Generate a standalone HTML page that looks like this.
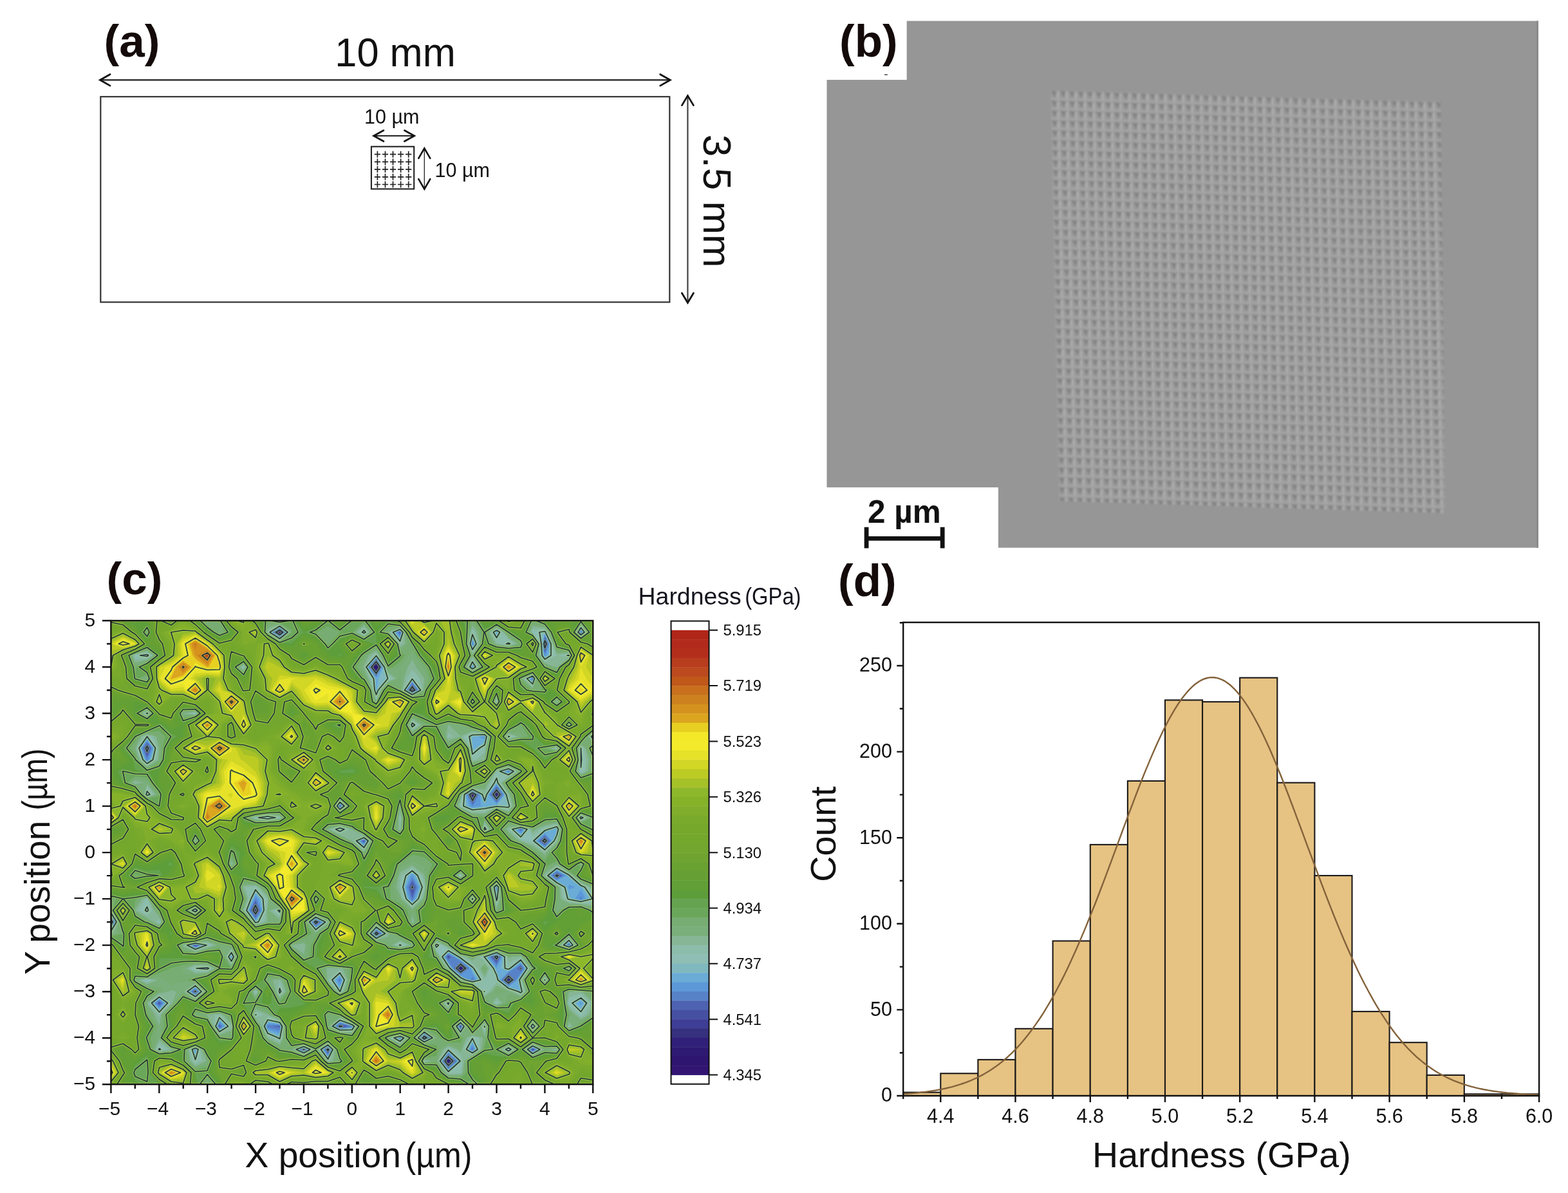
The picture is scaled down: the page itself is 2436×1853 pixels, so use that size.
<!DOCTYPE html><html><head><meta charset="utf-8"><title>Hardness mapping figure</title><style>html,body{margin:0;padding:0;background:#fff;overflow:hidden}svg{display:block}</style></head><body><svg width="2436" height="1853" viewBox="0 0 2436 1853"><rect width="2436" height="1853" fill="#fff"/><text x="161.5" y="87.7" font-size="71" font-weight="bold" font-family="'Liberation Sans', Arial, sans-serif" fill="#140a0a">(a)</text><text x="520.3" y="103.2" font-size="63" font-family="'Liberation Sans', Arial, sans-serif" fill="#111" textLength="187.5" lengthAdjust="spacingAndGlyphs">10 mm</text><line x1="156" y1="124.3" x2="1040.5" y2="124.3" stroke="#333" stroke-width="2.4"/><polyline points="171.0,115.5 155.5,124.3 171.0,133.1" fill="none" stroke="#111" stroke-width="2.8" stroke-linecap="round" stroke-linejoin="miter"/><polyline points="1025.7,133.1 1041.2,124.3 1025.7,115.5" fill="none" stroke="#111" stroke-width="2.8" stroke-linecap="round" stroke-linejoin="miter"/><rect x="156.3" y="150.2" width="884" height="319.1" fill="none" stroke="#333" stroke-width="2.2"/><line x1="1068.4" y1="149" x2="1068.4" y2="469.5" stroke="#444" stroke-width="2.2"/><polyline points="1077.4,163.6 1068.4,148.6 1059.4,163.6" fill="none" stroke="#111" stroke-width="2.8" stroke-linecap="round" stroke-linejoin="miter"/><polyline points="1059.4,455.2 1068.4,470.2 1077.4,455.2" fill="none" stroke="#111" stroke-width="2.8" stroke-linecap="round" stroke-linejoin="miter"/><text transform="translate(1093,209) rotate(90)" x="0" y="0" font-size="62" font-family="'Liberation Sans', Arial, sans-serif" fill="#111">3.5 mm</text><text x="566" y="191.9" font-size="30.5" font-family="'Liberation Sans', Arial, sans-serif" fill="#111">10 µm</text><text x="675.5" y="274.5" font-size="30.5" font-family="'Liberation Sans', Arial, sans-serif" fill="#111">10 µm</text><line x1="581" y1="211" x2="643" y2="211" stroke="#222" stroke-width="1.8"/><polyline points="596.0,202.5 580.5,211.0 596.0,219.5" fill="none" stroke="#111" stroke-width="2.6" stroke-linecap="round" stroke-linejoin="miter"/><polyline points="628.3,219.5 643.8,211.0 628.3,202.5" fill="none" stroke="#111" stroke-width="2.6" stroke-linecap="round" stroke-linejoin="miter"/><rect x="576.9" y="227.7" width="66.3" height="65.8" fill="none" stroke="#222" stroke-width="2.1"/><path d="M581.8 239.7h9.2M586.4 234.7v10M581.8 251.4h9.2M586.4 246.4v10M581.8 263.1h9.2M586.4 258.1v10M581.8 274.8h9.2M586.4 269.8v10M581.8 286.5h9.2M586.4 281.5v10M593.9 239.7h9.2M598.5 234.7v10M593.9 251.4h9.2M598.5 246.4v10M593.9 263.1h9.2M598.5 258.1v10M593.9 274.8h9.2M598.5 269.8v10M593.9 286.5h9.2M598.5 281.5v10M605.9 239.7h9.2M610.5 234.7v10M605.9 251.4h9.2M610.5 246.4v10M605.9 263.1h9.2M610.5 258.1v10M605.9 274.8h9.2M610.5 269.8v10M605.9 286.5h9.2M610.5 281.5v10M618.0 239.7h9.2M622.6 234.7v10M618.0 251.4h9.2M622.6 246.4v10M618.0 263.1h9.2M622.6 258.1v10M618.0 274.8h9.2M622.6 269.8v10M618.0 286.5h9.2M622.6 281.5v10M630.1 239.7h9.2M634.7 234.7v10M630.1 251.4h9.2M634.7 246.4v10M630.1 263.1h9.2M634.7 258.1v10M630.1 274.8h9.2M634.7 269.8v10M630.1 286.5h9.2M634.7 281.5v10" stroke="#222" stroke-width="1.7" fill="none"/><line x1="659.3" y1="231" x2="659.3" y2="293" stroke="#222" stroke-width="1.3"/><polyline points="668.3,245.8 659.3,230.3 650.3,245.8" fill="none" stroke="#111" stroke-width="2.6" stroke-linecap="round" stroke-linejoin="miter"/><polyline points="650.3,278.1 659.3,293.6 668.3,278.1" fill="none" stroke="#111" stroke-width="2.6" stroke-linecap="round" stroke-linejoin="miter"/><polygon points="1408.7,32.5 2390,32.5 2390,850.8 1550.9,850.8 1550.9,757 1284.5,757 1284.5,124 1408.7,124" fill="#969696"/><rect x="2387" y="32.5" width="3" height="818.3" fill="#8a8a8a"/><defs><pattern id="ind" patternUnits="userSpaceOnUse" width="13.9" height="15.4" patternTransform="matrix(1,0.03,0.02,1,1632,140)"><rect width="13.9" height="15.4" fill="#9b9b9b"/><path d="M1 0.5 L10 2 L5.5 11 Z" fill="#838383"/><path d="M9.8 3 L12.8 1 L12.8 14 L10.5 15 Z" fill="#b0b0b0"/><rect x="0" y="12.6" width="13.9" height="2" fill="#a7a7a7"/></pattern><filter id="blur1" x="-2%" y="-2%" width="104%" height="104%"><feGaussianBlur stdDeviation="1.5"/></filter></defs><polygon points="1632,140 2238,158 2245,797 1645,778" fill="url(#ind)" filter="url(#blur1)"/><rect x="1374" y="115.2" width="5" height="1.6" fill="#555"/><text x="1304" y="87.7" font-size="71" font-weight="bold" font-family="'Liberation Sans', Arial, sans-serif" fill="#140a0a">(b)</text><text x="1348" y="811.7" font-size="49.5" font-weight="bold" font-family="'Liberation Sans', Arial, sans-serif" fill="#111">2 µm</text><path d="M1346.1 818.8V851.6M1464.2 818.8V851.6M1346 836.4H1464.3" stroke="#111" stroke-width="6.8" fill="none"/><text x="165.5" y="923.3" font-size="71" font-weight="bold" font-family="'Liberation Sans', Arial, sans-serif" fill="#140a0a">(c)</text><defs><clipPath id="cclip"><rect x="172.4" y="964" width="748.85" height="720.2"/></clipPath></defs><g clip-path="url(#cclip)"><rect x="172.4" y="964" width="748.85" height="720.2" fill="#7aaa2c"/><defs><path id="a28" d="M186.5 1666l-7.5-18-6.5-8 0 8 0 18 0 17.5zm61 5l18.5 12 7.5 1 11 0 3.5 0 4.5-18-8-7-18.5-8.5-17.5-2.5-1 0-.5 0-4.5 18zm112 13l19 0 2.5 0-2.5-3-19-.5-2.5 3.5zm37.5-11.5l19 .5 18.5 10.5 18.5-9 19-.5 18.5 1.5 19-1 13-8.5-13-5-15-13-4-4.5-12.5 4.5-6 5.5-19 .5-18.5 0-18.5 2-19 4-7.5 6zm150 8l10.5-14.5 8-12 19 11.5 18.5-5.5 14.5 6 4 2 19 11 18.5-3 3.5-10-3.5-1.5-11.5-16.5-7-17.5-19 10-17.5-10.5-1-.5-18.5-14-17-3.5 17-2.5 18.5-9.5 18.5-2.5 19 2.5 6-6 1-18-7-9.5-14 9.5-5 2.5-.5-2.5 0-18 .5-4 4-14 15-10 10.5-8 1-18-11.5-18-19 0-.5 0-18 8-11.5 10-7 10-19-8.5-10.5 16.5 4.5 18-12.5 8-19 7-7.5 3 7.5 5 14 13 5 3 13.5-3 2-18 3-5.5 4 5.5-.5 18 2 18-5.5 17.5-.5.5-13 18 6 18-11 6.5-14 11.5zm299.5-10.5l18.5 8.5 19 1 8.5-13.5-8.5-9-19-7-18.5 11-4.5 5zm56-17.5l18.5 3 0-7.5 0-4.5-9-13.5-9.5-8-18.5-4-5 12 5 12 13.5 6zm-711.5-39.5l2.5-1-2.5-2-3 2zm75 1l18.5 5 19-4 7-3-7-11.5-10.5-6.5-8.5-4.5-2.5 4.5-16 16-2 2zm206-.5l18.5 3 7-4.5 0-18-7-10.5-18.5 10.5-5 18zm337 8l13-9.5-12.5-18-.5-13.5-13.5 13.5-.5 18zm56-8.5l4.5-1-4.5-4-3 4zm-486.5-3.5l12.5-15.5-12.5-17.5-9 17.5zm393-10.5l16-5-16-6-1.5 6zm-580.5-12.5l8.5-10.5-8.5-14-9.5 14zm131-24l19-4 18.5 1.5 1.5-2-1.5-6.5-15-11.5 15-7 19-2 10.5-9 1-18-11.5-10-3.5 10-15.5 14.5-18.5 0-5.5 3.5 4.5 18-18 12.5-6.5 5.5zm412 4l2-8.5 2.5-18-4.5-3.5-18.5-1.5-14.5-13-4.5-3.5-18.5-9.5-16 13 16 13 15.5 5 3 1 19 13.5 10 3.5zm-543-11.5l19-13.5.5-1.5-.5-.5-12-17.5-7-16.5-18.5 2 0 14.5 0 4 9.5 14zm281-5.5l18.5-6 6-3.5-3.5-18-2.5-2.5-18.5-8.5-8 11-2 18zm412-24.5l18.5 6 18.5-5 0-4 0-8.5-8.5-9.5 8.5-9 0-9 0-10.5-18.5 6.5-18.5-1-17 5 17 6.5 15 11.5-15 15.5-11.5 2.5zm-655.5-16l7-5-3-18 9.5-18-3.5-18-10-6.5-18.5 1.5-4 5 3 18 1 1.5 14 16.5-4.5 18zm224.5-2l5.5-3-5.5-4-5 4zm-278-21l-2.5-3.5 0 3.5 0 13.5zm241 7l18.5-4 2.5-3-1-18-1.5-9-6.5-9-12-3-13 3-6 3.5-3.5-3.5-15-17.5-1-.5-18-9.5-7.5-8.5 3.5-18 1-18-6.5-18-8-18-1-2.5-19-15-18.5 8.5-9 9 8.5 18-18.5 13.5-18.5 2.5-18.5-7.5-19 9-1.5.5 1.5.5 16 17.5 3 3.5 18.5 12 18.5-13.5 19 .5 18.5 0 5 15.5 14 17.5 1 .5 10.5 18 7 4 15 14 4 10.5 18.5-.5 8.5 8zm112 .5l13-7.5 6-11.5 13-6.5-5-18-8-14-8-4-11-6.5-2.5 6.5-8.5 18 11 15.5 8 2.5-8 2.5-15 15.5zm187.5-23l18.5 5 19-3.5 9.5-4 9-8.5 15-9.5-15-14.5-1-3.5-12.5-18-1.5-18-3.5-11.5-4 11.5-15 18-2.5 18 2.5 3 9 15-9 8-18.5 6.5-3.5 3.5zm-431-18l19 3.5 11-6-5.5-18-5.5-1-19-5-9.5 6 6.5 18zm168.5 0l3.5-2.5 2-18 13.5-10 11-8-4.5-18-6.5-14-5-4 .5-18 4.5-4.5 13.5-13.5-13.5-9.5-6.5-8.5 6.5-10 18.5 1 8 9 11 17 14 1 4.5.5 19 3 3-3.5-3-8.5-6-9.5-13-6-18.5-9-4-3-15-8-18.5-10 5-18 13.5-5 19-10.5.5-2.5-.5-2.5-19-7-18.5 2-12-10.5-7-2.5-18.5-15 0-.5-14.5-18 1-18 2-18-7-12-19 5.5-18.5-9.5-19 6.5-18-8.5 2-18 16-11 7 11 12 17.5 14.5-17.5-6.5-18-3.5-18-4.5-6.5-17.5-11.5-1.5-4-4.5-14-3.5-18-.5-18-10-11.5-7-6.5-12-8.5-13-9.5-5.5-5.5-18-12.5-1 0-.5 0-18 14-12 4 11.5 18-1.5 18-16.5 11.5-8 6.5 2 18 .5 18-3.5 18 9 9 9-9 9.5-7.5 18.5 0 19 7 18.5-9.5 11 10-.5 18-10.5 2-18.5 14-3.5 2 3.5 7.5 10 10.5-10 3.5-19 11-3.5 3.5 3.5 4.5 19 8 18.5-1.5 9 7 .5 18-9.5 14.5-10.5 3.5-8 3.5-8 14.5 8 13 2.5 5-.5 18 16.5 17 19-10 18.5 3.5 5.5-10.5 13.5-11.5 18.5-2.5 19-3 2.5-1 16-12 11.5 12 7 6.5 17.5 11.5-17.5 13-18.5 4.5-18.5-.5-5 1-14 13-3.5 5 2 18 1.5 2 17 16-7.5 18 9.5 7 9 11 9 18 .5.5 13 17.5 1.5 18-7 18zm206 15l10.5-17.5-10.5-8.5-11 8.5zm168.5-1.5l10-16-10-10-14 10zm-224.5-27.5l15-6.5-14.5-18-.5 0-.5 0-8 18zm-412-15l6-9.5-6-6.5-5.5 6.5zm356-6.5l18.5.5 4-3.5-4-3.5-10-14.5-4-18-4.5-5-19-8-18.5 13 .5 18 18 9.5 17.5 8.5zm149.5-17l19-.5 1.5-3.5 7.5-18-9-.5-19-10-18.5 9-1 1.5 1 5.5 10.5 12.5zm112.5 0l18.5-1.5 3.5-2.5 13-18-16-18 5-18-5.5-5-18.5-8.5-14-4.5-5-.5-16.5-17.5-2-2-18.5-1.5-14-14.5-5-7-18.5-7.5-16 14.5 16 15.5 10 2.5 0 18 8.5 9 8 9 11 16.5 18.5-10.5 4.5 12 11 18 3 10 14.5 8zm-631.5-40l13.5-9 9-9-9-15.5-18.5 7 0 8.5 0 18 0 6.5zm407 7l8.5-7-8.5-11.5-8.5 11.5zm336.5-23l0-2 0-18 0-18 0-1-18.5-12.5-16.5 13.5 4.5 18 12 5.5 18 12.5zm-692.5-10.5l13-9.5-11.5-18 17.5-7 18.5 6.5 1 .5 17.5 12.5 2.5-12.5-2.5-6-10-12-8.5-6-18.5-10.5-3-1.5-15.5-18-.5 0-18.5-16-11-2-8-2-18.5-2.5 0 4.5 0 15.5 2 2.5-2 .5 0 17.5 0 10.5 14-10.5 4.5-10 11 10 8 13.5 12 4.5 5 18-11.5 18zm356-40.5l4.5-5 10-18 3.5-18-18-10.5-19 10.5 7 18 4 18zm74.5 1.5l1.5-6.5-1.5-4.5-7.5 4.5zm112.5-15.5l8.5-9-8.5-5.5-7.5 5.5zm37.5-4.5l16-4.5-16-10-8.5 10zm75 5l.5-9.5 18-18 0-3.5 0-14.5-1 0-17.5 1.5-14 16.5 12 18zm-599.5-25l6.5-2.5-6.5-2.5-5 2.5zm356 15.5l18.5-7.5 19-6 6.5-4.5 12-8 7-10 12-14.5 7-3.5 3-18-2.5-18-6.5-18-1-1.5-2 1.5-9 18-8 12.5-18.5-10.5-1-2-6.5-18-3-18-8.5-5.5-6.5 5.5-3 18-2.5 18 12 13 10.5 5 8.5 6 6.5 12-5.5 18-1 3-19 7.5-14-10.5-4.5-1.5-2 1.5-6.5 18zm187-22.5l14.5-13.5 3.5-18-7.5-18-7.5-18-3-2.5-18.5-2.5-4.5 5 4.5 1.5 15.5 16.5-15.5 13.5-6 4.5 6 7.5 7 10.5zm-543-29.5l7-2 11-18-18-12-16 12 15 18zm206 13l19-9.5 5.5-5.5-5.5-5-17-13-2-5-2.5-13-16-13.5-19 3.5-5.5 10 5.5 3.5 19 12 14 2.5-10 18zm393.5-6l2.5-9-2.5-4-9 4zm-281-17l18.5-7.5 2.5-2.5 10-18-12.5-6.5-18.5-7-4.5-4.5 4.5-12.5 3-5.5 9.5-18 6-7.5 5-10.5 12-18-17-9.5-18.5.5-6 9-12.5 14.5-19-5.5-7.5-9 3.5-18-14.5-7.5-17-10.5-2-4-18.5-6-16-8-3-2-3 2-15.5 5.5-19-2.5-4.5-3-12-18-2-1.5-13.5-16.5-5-3-16 3-3 15-.5 3 0 18 .5 4 8 14 3 18 8 5.5 18.5 8.5 18.5-8 10.5 12 8.5 9.5 17 8.5 1.5 2 19-.5 18.5 4 14 12.5 5 15.5 1.5 2.5 7 18 10 8.5 12.5 9.5 6.5 12.5 7.5 5.5zm150-3.5l5.5-6.5-5.5-6-9.5 6zm18.5-20.5l10.5-4-10.5-14-5 14zm112.5 10l7-14-7-18 13-18-13-8.5-16-9.5-3-9-9-9-9.5-5.5-7-12.5-12-8-18.5 3.5-19-13.5-7.5 18 7.5 16 19-9.5 12.5 11.5 6 4.5 12.5 13.5 6.5 11 7.5 7 11 3.5 19 14.5-18.5 18zm-374.5-26l11.5-6-11.5-10-8 10zm-322-24l-15-10.5 0 10.5 0 9.5zm247 5l18.5 10.5 12.5-15.5-9-18-3.5-2-5.5 2-13 14-10.5 4zm337-11l8-12 3-18-11-2-16.5-16 5.5-18 11-14 18.5 13 1.5-17 17.5-13 16-5-16-7.5-16.5-10.5-2.5-1-12.5 1-6 2.5-1-2.5-17.5-8.5-7 8.5 7 8 14.5 10-14.5 8-18 10 4.5 18 10.5 18-16 13.5-11.5-13.5-1-18-6-11-2-7-4.5-18 6.5-14.5 1.5-3.5-1.5-13-2-5-7.5-18-4-18-5.5 0-18.5 0-19 0-18.5 0-14.5 0 13.5 18 1 2 18 16 .5.5 2-.5 15-18 2-5.5 5 5.5 1.5 18-6.5 18 6.5 18 4.5 18-11 13.5-4 4.5-6 18 5 18 5 4 9-4 9.5-8 9 8 10 4 18.5 2 19 10.5 1 1.5zm131-11.5l1-.5 4.5-18 13-15 0-3 0-18 0-18 0-18 0-18 0-4.5-18.5-11.5-7.5 16-9 18-2 3.5-6.5 14.5-5 18 11.5 10.5 8.5 7.5-8.5 17.5-1 .5 1 0 18.5 18zm-56-66l9.5-6.5-9.5-6.5-4.5 6.5zm-664.5-24.5l-2-18 11-6 19-6.5 9-5.5-9-9.5-15.5-8.5-3.5-2.5-8.5 2.5-10 4 0 14 0 18 0 18 0 9zm196.5-35l6-1 12.5-2 4.5-16-4.5-7.5-13.5-10.5-5 0-19 0-2 0 2 3 18.5 15-2 18zm224.5 8.5l5.5-9.5-5.5-6-7.5 6zm224.5-3l3-6.5-3-3.5-4.5 3.5zm-37.5-38l16-4.5-16 0-6.5 0z"/><path id="a29" d="M185 1666l-8-18-4.5-6 0 6 0 18 0 16zm62.5 3.5l18.5 12 15 2.5 3.5 0 1.5 0 5.5-18-7-6-18.5-8-18.5 1-3.5 13zm112 14.5l19 0 .5 0-.5-.5-19 0-.5.5zm37.5-13l19 .5 18.5 10 18.5-8.5 19-1 18.5 2.5 19-1.5 11-7-11-4.5-16-13.5-3-3-9 3-9.5 9-19-1-18.5-1-18.5 3.5-19 3-5.5 4.5zm150 7.5l9-12.5-9-10-12.5 10zm93.5-1.5l18.5-7.5 1.5-3.5-1.5-.5-12-17.5-6.5-16-19 10-18.5-9.5-1.5-2.5-17-12.5-19 2-7.5 10.5 2.5 18 5 4 19 12.5 18.5-7.5 18.5 8 1 1zm206-9l18.5 8.5 19-2.5 5-8-5-5-19-8.5-18.5 11.5-2 2zm74.5-17.5l0-2.5 0-1.5-15.5 1.5zm-37-10.5l18.5 7.5 7.5-17.5-7.5-6-18.5-3.5-4 9.5zm-618-27.5l18.5 5.5 19-3.5 5.5-2.5-5.5-8.5-16-9.5-3-1.5-1 1.5-17.5 17.5-.5.5zm206 .5l18.5 2 5-3 1-18-6-9-16 9-2.5 10-2 8zm337 7.5l11.5-8.5-11.5-17-12.5 17zm-430.5-12.5l11.5-14-11.5-16-8.5 16zm206-.5l18.5-8.5 18.5-2.5 19 1.5 4-4-1-18-3-4.5-6.5 4.5-12.5 6.5-2-6.5-1.5-18 3.5-17.5.5-.5 18.5-12.5 7.5-5.5 2.5-18-10-16-17.5 16-1.5 6-1.5-6-17-8.5-10 8.5-8.5 12-19-9-10 15 5.5 18 4.5 9 6 9 0 18 1 18zm187-12.5l2-1-2-.5 0 .5zm-580.5-11.5l6-7.5-6-10-6.5 10zm356-5.5l9.5-2 4.5-18-14-8.5-19 6.5-5 2 5 3.5 15.5 14.5zm-225-16.5l15-3.5-15-4-5 4zm412-2l.5-1.5 3-18-3.5-3-18.5-1-15.5-14-3.5-2.5-18.5-9.5-14.5 12 14.5 12 18.5 6 19 11.5 17.5 6.5zm-543-8.5l15-11-9-18-6-14-18.5 14 12 18zm281-2.5l18.5-7 2-1.5-1-18-1-1-18.5-8-6.5 9-2.5 18zm-131-13l18.5-6.5 19 0 8.5-7-2-18-6.5-6-2 6-17 16-18.5-.5-3.5 2.5zm543-12l18.5 6.5 18.5-5.5 0-2.5 0-5.5-11.5-12.5 11.5-12 0-6 0-7-18.5 5-18.5-2-14.5 4 14.5 6 16 12-16 16.5-6.5 1.5zm-655.5-15l6-4.5-4-18 10-18-3.5-18-8.5-5.5-18.5 2-2.5 3.5 2.5 14.5 1 3.5 15 18-5 18zm224.5-4l1.5-.5-1.5-1-1 1zm-37-13l16.5-5.5 2-9.5.5-8.5-.5-2.5-11.5-15.5-7-1.5-8 1.5-11 6.5-6.5-6.5-12-14-5.5-4-13.5-7-10-11 1.5-18 3-18-5.5-18-7.5-17-1-1-18-14-18.5 8.5-5.5 5.5 5.5 11.5 2.5 6.5-2.5 5-19 11.5-16 1.5-2.5 1 0-1-18.5-9-18 9 16 18 2 2.5 18.5 7 18.5-9.5 19 1.5 13-1.5 5.5-2.5 5 2.5 3 18 11 14 6 4 7.5 18 5 3 16.5 15 2.5 7 18.5 1 10.5 10zm112 1l11.5-6.5 7.5-14.5 7-3.5-.5-18-6.5-11.5-13.5-6.5-5.5-3-1 3-9 18 10 14 13 4-13 4.5-13.5 13.5zm187.5-23l18.5 5 19-3.5 7-3 11.5-10.5 11.5-7.5-11.5-11-2-7-12.5-18-1.5-18-2.5-8.5-3 8.5-12.5 18-3.5 17 0 1 0 .5 10 17.5-10 9.5-18.5 6.5-2 2zm-431-18l19 4 10-5.5-8-18-2-.5-19-4-7 4.5 5.5 18zm168.5 0l2-1.5 2-18 15-11 9.5-7-4-18-5.5-12-7.5-6 .5-18 7-7.5 10.5-10.5-10.5-7.5-8.5-10.5 8.5-12.5 18.5 2 9.5 10.5 9.5 14.5 18.5 0 11 3.5 8 1.5 1-1.5-1-3-9-15-10-4.5-18.5-8.5-7-5-12-6.5-18.5-5.5-10-6-9-2-10 2-8.5 1.5-13.5-1.5-5 0-1.5 0-17.5 16.5-1 1.5 1 10 2.5 8 16.5 15.5 3 2.5-3 1.5-8 16.5 8 5.5 10 12.5 8.5 17 .5 1 13.5 18 1.5 18-2 18zm206 13.5l9-15-9-7-9.5 7zm168.5-1l9-14-9-9-12.5 9zm-224.5-26l13-6-13-16-7 16zm-412-16l5-8-5-5.5-5 5.5zm374.5-7.5l.5-.5-.5-.5-3 .5zm-37.5-11.5l19 7.5 6.5-14.5-3.5-18-3-3.5-19-8.5-17 12 3.5 18zm168.5-6.5l19 .5 0-1 0-10.5-1-7.5-18-9-18 9 17.5 18zm112.5 0l3.5-.5 15-1.5 12-16.5-12-14.5-13.5-3.5 13.5-3.5 4-14.5-4-3.5-18.5-6-15.5 9.5-3.5 2.5-11 15.5 8.5 18 2.5 7.5 18.5 10.5zm-633-36.5l15-10.5 7.5-7.5-7.5-13-18.5 9 0 4 0 18 0 4zm408.5 5.5l7-5.5-7-9.5-7 9.5zm168.5-10l17.5-13.5 1-2 15-16-15-18-18.5-2.5-15-15.5-4-5.5-18.5-7.5-14.5 13 14.5 14 15.5 4-3.5 18 6.5 7 10 11zm-524.5-23l11-8.5-11-16-11.5 16zm674-4l18.5 9.5 0-14 0-15.5 0-2.5-18.5-12.5-15 12.5 5 18zm-618-17.5l1-5-1-2.5-7 2.5zm-37-14.5l18.5 3 5.5-11.5-5.5-4-18.5-8.5-9-5.5-10-12.5-1-5.5-17.5-15-17.5-3-1.5-.5-18.5-1.5 0 2 0 8 8.5 10-8.5 2 0 16 0 9.5 13-9.5 5.5-13 14 13 5 8 18.5 6 2.5 4zm337-5.5l2.5-3 10-18 2.5-18-15-9-16 9 5.5 18 5.5 18zm-262.5-5l19-11 18.5 2.5 4-7.5 15-12.5 18.5-2.5 17.5-3 1.5-4 18.5-11 14-3-14-9.5-8.5-8.5-9.5-18 2-18-.5-18-2-3.5-19 .5-18.5-7.5-19 2.5-18.5-9-8-1 8-18 0-3 18.5-9.5 8 12.5 11 16 13-16-6.5-18-4-18-2.5-4-19-13-2-1-6.5-18-1-18-.5-18-8.5-9.5-8.5-8.5-10.5-7-14.5-11-4-3.5-19-8.5-18.5 10-6.5 2 6.5 10.5 2 7.5-2 15.5 0 2.5-18.5 13-6 5 1 18 4.5 18-6.5 18 7 6.5 6.5-6.5 12-9.5 18.5 0 19 8 18.5-13 15.5 14.5 1.5 18-17 3.5-18.5 14-1.5.5 1.5 3 14.5 15-14.5 5-19 11.5-1.5 1.5 1.5 2 19 9 18.5-2.5 12 9.5-.5 18-11.5 17.5-1 .5-17.5 8-5.5 10 5.5 9 4 9-.5 18zm449.5-8.5l7.5-7.5-7.5-5-6.5 5zm37.5-3.5l14-4-14-8.5-7.5 8.5zm-356-17.5l17-4.5-17-14.5-4.5 14.5zm37.5 4l19-8.5-19-6-16.5 6zm150 7.5l18.5-11 19-2.5 4-2.5-4-9.5-19 6-18.5-14-8 17.5zm243.5 2l17-18-17-15-13 15zm-187.5-27.5l6-8.5 13-15.5 4.5-2.5 4-18-2-18-6.5-18-10 18-9 14.5-18.5-1.5-4.5-13-4.5-18-3.5-18-6.5-4-5 4-3.5 18-1 18 9.5 10.5 16 7.5 3 2 9 16-5 18zm131 4l13-12.5.5-18-7.5-18-5-18-1-1-18.5.5-.5.5.5 0 17 18-17 14.5-4.5 3.5 4.5 5.5 8 12.5zm-337-17l19-10 3.5-3.5-3.5-3-19-14.5-13.5 17.5zm-206-14l16.5-17.5-16.5-11-14.5 11zm318.5-13.5l12-4 6.5-1.5 9.5-16.5-9.5-5-18.5-6.5-6.5-6.5 5.5-18 1 0 10.5-18 8-10.5 3.5-7.5 12-18-15.5-8.5-18.5 1-5 7.5-13.5 15.5-19-3.5-9.5-12 2.5-18-11.5-6-19-11.5-1-.5-17.5-8-19-8.5-18.5 6.5-19-2.5-8-5.5-10.5-16-3-2-12-18-3.5-2-11 2-2 18-4 18 9.5 18 2.5 18 5 3.5 18.5 9 18.5-8.5 12.5 14 6.5 7 18.5 9.5 19 .5 1.5 1 17 4.5 15.5 13.5 3.5 11 4 7 6.5 18 8 7 15 11 4 7.5 14 10.5zm150 1.5l4.5-5.5-4.5-5-8 5zm-300-21.5l19 12.5 15-14.5-15-12.5-19 7.5-2.5 5zm318.5 1.5l8-3.5-8-10.5-3.5 10.5zm112.5 9l6.5-12.5-6.5-16-16.5 16zm-374.5-26l8.5-4.5-8.5-7.5-5.5 7.5zm-330-22.5l-7-5 0 5 0 4.5zm273.5 13.5l11-13.5-10-18-1-.5-1.5.5-16.5 18zm412-11l19 14 12-16.5-12-7.5-17.5-10.5-1.5-5-13-13-5.5-3-8.5-15-10.5-7-18.5 4-19-13.5-7 16.5 7 14.5 19-10.5 15 14 3.5 2.5 14.5 15.5 4.5 7.5 10.5 10.5zm-93.5-11.5l6.5-9-1-18-5.5-1-17.5-17 5.5-18 12-16 18-2 .5 0 19-14 12.5-4-12.5-6-19-11.5-18.5 8.5-2.5 9-16 9-16 9 4.5 18 10 18-17.5 14.5-12.5-14.5-5-18-1-1.5-4.5-16.5-3-18 7.5-17 .5-1-.5-4-6-14-6-18-3-18-4 0-18.5 0-12.5 0-6.5 1.5-2.5-1.5-16 0-13 0 12.5 18 .5.5 18.5 16.5 15.5-17 3.5-10 8.5 10 .5 18-6.5 18 5 18 4.5 18-12 15-2.5 3-6.5 18 5.5 18 3.5 3 6-3 12.5-10 12 10 7 3 18.5 1.5 19 6.5 5 7zm131-18.5l2.5-8.5 15.5-18 .5-.5 0-17.5 0-18 0-18 0-18 0-2.5-18.5-12-6.5 14.5-7.5 18-4.5 8-4.5 10-5 18 9.5 9 10.5 9-.5 18zm-56-57l8-5.5-8-5.5-4 5.5zm-669.5-23.5l.5-18 13.5-7.5 19-6 7.5-4.5-7.5-8-18.5-10-.5-.5-1.5.5-17 7 0 11 0 18 0 18 0 4.5zm576-11l15-7-15-7-6 7zm-150-17l5-8-5-5-6.5 5zm224.5-3.5l2-4.5-2-2.5-3.5 2.5zm-430.5-10l3.5-12.5-3.5-5.5-14.5 5.5zm-37.5-29.5l19 9.5 3-10.5-3 0-19 0-1 0zm430.5 2l11-3-11 0-4.5 0z"/><path id="a30" d="M184 1666l-8.5-18-3-3.5 0 3.5 0 18 0 14zm63.5 2.5l18.5 11.5 18.5 2.5 5.5-16.5-5.5-5-18.5-8-18.5 5-2 8zm149.5 1l19 0 18.5 10.5 18.5-8.5 19-1.5 18.5 3.5 19-2 8.5-5.5-8.5-3.5-17-14.5-2-2-5.5 2-13 12-19-1.5-18.5-2-18.5 4.5-19 2-4 3zm150 7.5l8-11-8-8.5-10.5 8.5zm93.5-2l16.5-9-11-18-5.5-14-19 9.5-18.5-6.5-4.5-7-14-10-19 8-1.5 2-.5 18 2 2 19 13 18.5-8.5 18.5 7 4.5 4.5zm224.5 0l19-6.5 1.5-2.5-1.5-1.5-19-9.5-18 11zm19-37.5l18.5 4.5 5-12-5-4-18.5-3-3 7zm-599.5-21l19-3 3.5-1.5-3.5-5-19-11-15.5 16zm206-2.5l3-2 2-18-5-7.5-13 7.5-3 18zm318.5 5.5l10-7.5-10-14.5-11 14.5zm-430.5-12.5l10.5-13-10.5-14.5-7.5 14.5zm206-1.5l18.5-7.5 18.5-2 19 .5 2.5-2.5-2.5-17-19 9-3.5-10-3-18-12-17.5-.5-.5.5 0 18.5-13.5 19-1.5 4-3 5-18-9-14-15.5 14-3.5 15-4-15-14.5-7-8.5 7-10 14-19-9.5-9 13.5 6.5 18 2.5 5 8.5 13 0 18 0 18zm-393.5-25.5l3.5-4-3.5-5.5-3.5 5.5zm356-3l5.5-1 6.5-18-12-7.5-19 6.5-3 1 3 2 17 16zm-225-16.5l11-2.5-11-3-3.5 3zm-131-13.5l9.5-7-4.5-18-5-11.5-15.5 11.5 11.5 18zm281 1l17.5-8 0-18-17.5-7-5 7-3 18zm243.5 1l18.5 5.5 3-14.5-3-2-18.5-1-14.5 3zm-374.5-21l18.5-3 19 2.5 6-5.5-4-18-2-2-1 2-18 17.5-18.5-.5-1.5 1zm337 4.5l18.5 1.5 2-12-2-1.5-18.5-9.5-13.5 11zm206-10l18.5 7 18.5-6.5 0-1 0-2-14.5-16 14.5-15 0-3 0-3.5-18.5 3.5-18.5-3.5-12.5 3.5 12.5 5 17 13-17 18-1.5 0zm-655.5-15l5-3.5-4.5-18 10-18-3.5-18-7-4.5-18.5 3-1 1.5 1 6.5 3 11.5 15 18-5.5 18zm187.5-17l12.5-4.5 5-18-15-18-2.5-.5-3 .5-16 9.5-9-9.5-9.5-11-10.5-7-8.5-4-8 4 5.5 18 2.5 1.5 17.5 16.5 1.5 3.5 18.5 2.5 12.5 12zm112 1.5l10.5-6-10.5-12-12 12zm19-23.5l1-.5 4-18-5-9-18.5-9-.5 0-9 18 9 12.5 18 5.5zm168.5 0l18.5 5 19-3.5 4.5-2 14-13 8-5-8-7.5-3-10.5-12.5-18-1.5-18-1.5-5.5-2 5.5-9.5 18-6.5 18 10.5 18-11.5 10.5-18.5 7.5-.5 0zm-431-18l19 4.5 9-5-9-17-4-1-15-3-4.5 3 4.5 18zm374.5 12l7.5-12.5-7.5-6-8 6zm168.5 0l8-12.5-8-8-11 8zm-374.5-13l2.5-17.5 16.5-12 8-6-3.5-18-4.5-10-10-8 0-18 10-10.5 7.5-7.5-7.5-5-10.5-13 10.5-15 18.5 2.5 9-5.5-9-4.5-18.5-2-19-11-18.5 3-18.5-1-17 15.5 8 18 9 8.5 11 9.5-11 5.5-6 12.5 6 4.5 11 13.5 7.5 15 2 3 12.5 18 2 18zm150-12.5l11-5-11-13.5-6 13.5zm-412-16.5l4-6.5-4-4.5-4 4.5zm150 3.5l6.5-10-1-18 5-18-4.5-18-6-13.5-5.5-4.5-13.5-10.5-18.5 8.5-2 2 2 4 5 14-5 10-14.5 8 7.5 18 7 .5 5-.5 13.5-6 11 6 0 18zm-93.5-27l18.5 2.5 7-3.5-7-6.5-2-11.5-16.5-8-16.5 8 15.5 18zm280.5 4l19 4.5 4-9.5-2.5-18-1.5-1.5-19-9.5-15.5 11 6.5 18zm168.5-7l15.5-16-15.5-8-15 8zm93.5-10.5l19 7 18.5-2 7.5-10.5-7.5-9-18.5-4-4-5 4-6.5 18.5-2 2.5-9.5-2.5-2-18.5-3.5-9 5.5-10 6.5-8 11.5 6.5 18zm-616-23.5l-1.5-15 0 15 0 2zm410.5 4.5l5.5-4.5-5.5-7.5-5.5 7.5zm-393.5-16l6-6.5-6-11-18 11zm562 4.5l14-11 4.5-8 9-10-9-11-6-7-12.5-1.5-15.5 1.5-3.5 3-4.5 15 4.5 4.5 11.5 13.5zm-524.5-21.5l9.5-7.5-9.5-13.5-9.5 13.5zm281 4.5l18.5-2 7-10-7-3-18.5-7.5-8 10.5zm393-8.5l18.5 1.5 0-5 0-5.5-1.5-12.5-17-11.5-14 11.5 6.5 18zm-655-33l18.5-1 2.5-5.5-2.5-2-18.5-7-12 9zm337-5.5l.5-1 10-18 1.5-18-12-7-12.5 7 3.5 18 7.5 18zm131 11.5l18.5 4 3.5-16.5-3.5-4.5-18.5-7.5-13 12zm-531.5-30.5l7-16 17.5 16 1.5 2.5 18.5 3.5 4.5-6-4.5-5-2.5-13-16-13.5-19 5.5-4 8-14.5 3.5 0 14.5 0 8.5zm138 14.5l19-11 18.5 1.5 2.5-5 16.5-13.5 18.5-2.5 12-2 6-18 1-11 1.5-7-1.5-3.5-4-14.5 3-18-18-17.5-2-.5-16.5-5-19-1.5-18.5-9.5-18-2 16-18-17-13.5-18 13.5 18 18-18.5 6.5-18.5 11.5 18.5 10 18.5-4 14.5 12-1 18-7.5 18-6 2.5-18.5 9.5-3.5 6 3.5 5.5 5.5 12.5-1 18zm449.5-8l6.5-6.5-6.5-4-5.5 4zm37.5-3l11.5-3.5-11.5-7-6 7zm-356-19.5l7.5-2-7.5-6.5-2 6.5zm37.5 2l9-4-9-3-8 3zm150 10.5l18.5-14.5-18.5-16-7 16zm37.5-13.5l1.5-1-1.5-4-18.5 4zm206 15l15.5-16-15.5-13.5-11.5 13.5zm-711-34l-.5 0zm261.5.5l1.5-.5-1.5-1-5.5 1zm262 6.5l5-7 14-17 2-1 5.5-18-1.5-18-6-16-9 16-10 16-12.5 2 5 18-4.5 18zm131 4l11.5-11-2.5-18-7.5-18-1.5-8-.5 8-18 16-3 2 3 3.5 9.5 14.5zm-337-16.5l19-11 1.5-1.5-1.5-1-19-15-12 16zm-206-15l15-15.5-15-10-13 10zm468.5-11l4-4.5-4-4-6.5 4zm-300-22.5l19 13.5 14-13.5-14-11.5-19 11.5zm131.5 2.5l18.5 14.5 18.5-5 7-12-7-3.5-18.5-6.5-8.5-8-7.5-18 16-4 8-14 10.5-13.5 2.5-4.5 11.5-18-14-7.5-18.5 1.5-4 6-14.5 17-19-2.5-11.5-14.5 1.5-18-8.5-4.5-19-10-6.5-3.5-12-5.5-19-7.5-18.5 5-19-2-11.5-8-7-10.5-11-7.5-6-18-1.5-1-5.5 1-1 18-6.5 18 9 18 1.5 18 2.5 1.5 18.5 10 18.5-10 14.5 16.5 4.5 5 18.5 8.5 19 .5 6 4 12.5 3 17 15 2 6.5 6.5 11.5 6.5 18 5.5 5 17.5 13zm74.5 5l10.5-7.5-2-18-3.5-18-5-3-3.5 3-3.5 18 0 18zm112.5-5l5.5-2.5-5.5-7.5-2.5 7.5zm112.5 9l5.5-11.5-5.5-14.5-14.5 14.5zm-374.5-26.5l5-3-5-4.5-3.5 4.5zm-56.5-9l10-12-10-16.5-16 16.5zm412-10.5l19 13.5 11-15-11-7-18.5-11-.5-1-17-17-1.5-1-9.5-17-9.5-6-18.5 5-19-14-6.5 15 6.5 13.5 19-12 17.5 16.5 1 1 16.5 17 2.5 4.5 14 13.5zm-486.5-5.5l11.5-14-7-18-3.5-18-1-1.5-19-14.5-5-2-7.5-18 2-18-1-18-7-7.5-10.5-10.5-8.5-6-16.5-12-2-2-19-1-18.5 3-.5 0 .5 1 5 17-1.5 18-3.5 2.5-18.5 12-4.5 3.5.5 18 4 14.5 3.5 3.5 15 6.5 18.5 0 19 8.5 18-15-.5-18 1-.5 2 .5-.5 18 17.5 17 .5 1 4 18 14 3.5 9.5 14.5zm393-7.5l4.5-6.5-4.5-18-18.5-18 5-18 13.5-17.5 2.5-.5 16-1.5 19-13.5 9-3-9-4.5-19-11.5-18.5 13.5-.5 2.5-18 10-14.5 8 5.5 18 8.5 18-18.5 15.5-13.5-15.5-5-16-3.5-2-4-18-1-18 7-18-8.5-18-4.5-18-2.5-18-2 0-18.5 0-6 0-13 3-5-3-13.5 0-11 0 11 16 1.5 2 17 15 14-15 5-14 12 14 0 18-7.5 18 4 18 4.5 18-13 16.5-1.5 1.5-6.5 18 6 18 2 1.5 3-1.5 15.5-12.5 14.5 12.5 4.5 2 18.5 1 19 2.5 9 12.5zm-524-38.5l4-4-4-11.5-4.5 11.5zm655 12.5l14-16.5 4.5-3.5 0-14.5 0-18 0-18 0-18 0-.5-18.5-12.5-6 13-5 18-7.5 12.5-2.5 5.5-5.5 18 8 7 12.5 11zm-56-48l6.5-4.5-6.5-4.5-3 4.5zm-671-40.5l15.5-8.5 19-6 6-3.5-6-6.5-19-10-18.5 8.5 0 8 0 18 0 17.5zm577.5 6l12.5-6-12.5-6-5 6zm-150-17.5l4-6.5-4-4-5.5 4zm224.5-3.5l1.5-3-1.5-2-2 2zm-430.5-12.5l2.5-8.5-2.5-4-10 4zm-18.5-23.5l.5-3-.5 0-9.5 0zm411.5-1.5l6-1.5-6 0-2 0z"/><path id="a31" d="M182.5 1666l-9-18-1-1.5 0 1.5 0 18 0 12.5zm65 1l18.5 12 18.5 0 4.5-13-4.5-4-18.5-7.5-18.5 9-1 2.5zm149.5 1l19 0 18.5 10 18.5-8 19-2 18.5 4.5 19-2 6.5-4.5-6.5-2.5-18-15.5-1-.5-2 .5-16.5 15-19-2.5-18.5-3-18.5 6-19 1-2 1.5zm150 7l6.5-9-6.5-7-9 7zm93.5-2l13-7-8-18-5-12-19 9-18.5-3.5-8-11.5-10.5-8-16 8-2.5 18 18.5 14 18.5-10 18.5 5.5 8 8.5zm224.5 0l16.5-7-16.5-8.5-14 8.5zm19-38l18.5 1.5 2.5-6.5-2.5-2-18.5-2.5-2 4.5zm-599.5-19.5l19-2.5 1.5-1-1.5-2-19-9.5-11.5 11.5zm206-3l1-.5 3-18-4-6-10.5 6 7 18zm318.5 6l8.5-6.5-8.5-12.5-9.5 12.5zm-430.5-12.5l9.5-12-9.5-13-7 13zm206-2l18.5-7 18.5-2 19 0 1-1-1-6-19 2-4.5-14-5-18-9-13-12-5 12-9 11.5-9 .5-18-12-6-7 6-11.5 16-19-10.5-8 12.5 7.5 18 .5 1.5 11 16.5 0 18-.5 18zm-393.5-27l1-1-1-1-.5 1zm356-.5l1.5-.5 8.5-18-10-6.5-19 6-1 .5 1 1 18.5 17zm-225-17l6.5-1.5-6.5-1.5-2 1.5zm-131-16.5l4.5-3-.5-18-4-9-12 9 10.5 18zm281 4l15.5-7-3-18-12.5-5-3.5 5-3.5 18zm243.5-.5l18.5 3.5 2-10-2-1.5-18.5-.5-10 2zm-337-21l4-3.5-4-14-16 14zm262-3l.5-.5 7-18-7.5-12-13 12 9.5 18zm37.5 9l18.5-3.5 1-6-1-.5-18.5-9.5-12 10zm224.5-3l18.5-6.5-17.5-18-1-4-.5 4-17 18zm-674-22l3.5-2.5-3.5-14.5-4.5 14.5zm187.5-17.5l8.5-3 7.5-18-16-17-19 11.5-17.5 5.5 17.5 4 14.5 14zm112 2l9-5-9-10.5-10 10.5zm356-1l15.5-4-15.5-3-10.5 3zm37-4zm-692.5-2l9-16-3.5-18-5.5-3.5-17.5 3.5 4.5 18zm505.5-11.5l19-3.5 2.5-1 16-15 4.5-3-4.5-4-4-14-12.5-18-1.5-18-.5-2.5-1 2.5-7 18-9 18 11 18-13 12-16 6zm-430.5-18l8-4.5-8-15-12-3-7-1-2 1 2 9 2 9zm56-4l19 16.5 6.5-17-6.5-7.5-15.5-10.5-3.5-1.5-3 1.5 2.5 18zm168.5 10.5l19 2.5 3.5-13.5-3.5-6-19-9.5-7.5 15.5zm131-1l6-10-6-5-6.5 5zm168.5.5l6.5-10.5-6.5-6.5-9 6.5zm-374.5-21.5l1-7 18-13 6.5-5-2.5-18-4-8-12.5-10 0-18 12.5-13.5 4.5-4.5-4.5-3-12-15 12-17.5 18.5 3.5 6-4-6-3-18.5 2.5-19-13.5-18.5 1-18.5.5-13.5 12.5 11.5 18 2 1.5 18.5 16.5-18.5 9.5-4.5 8.5 4.5 3 12 15 6.5 13 3 5 12.5 18 2.5 18zm150-3l9-4-9-11-5 11zm-412-17l3-5-3-3.5-3 3.5zm150 1.5l4-6.5-3-18 7-18-4-18-4-9.5-9.5-8.5-9.5-7.5-15.5 7.5 5 18-8 15.5-4.5 2.5 4.5 9.5 18.5-1.5 17.5 10-4 18zm187-22l19 2 2-4.5-2-17.5 0-.5-19-10-14 10 9.5 18zm-280.5-3l15-17.5-15-7-14.5 7zm449-4.5l13-13-13-6.5-12.5 6.5zm93.5-10l19 3 18.5-2 3-4-3-3.5-18.5-3-9.5-11.5-9.5-7-5 7 4 18zm-205.5-17.5l4-3.5-4-5.5-4 5.5zm-393.5-16.5l5-5-5-8.5-14.5 8.5zm562 3l10-8 8.5-14.5 3.5-3.5-3.5-4-12.5-14-6-.5-7.5.5-11.5 10-2.5 8 2.5 2.5 13.5 15.5zm56-5l18.5 1.5 1.5-4.5-1.5-1-18.5-.5-2.5 1.5zm-580.5-15l8-6-8-11.5-8 11.5zm281 3.5l18.5-4 4-5.5-4-1.5-18.5-7-6 8.5zm393-7l16-2.5-.5-18-15.5-10.5-12.5 10.5 7 18zm-655-34.5l17.5-4-17.5-5.5-7.5 5.5zm468 7l18.5 1.5 2.5-12.5-2.5-3.5-18.5-7-11.5 10.5zm-532.5-29l-10.5-13 0 13 0 7.5zm139 13.5l19-11.5 18.5.5 1-2.5 18-15 18.5-2 6.5-1 8.5-18 .5-18-5.5-18 1.5-18-11.5-11-18.5-6.5-.5-.5-18.5-4.5-18.5-10-19 3-18.5 1-16 10.5 16 9 18.5-5 17.5 14-1.5 18-3 18-13 5.5-18.5 11-1 1.5 1 1.5 7.5 16.5-1.5 18zm262.5 2.5l8.5-16 .5-18-9-5.5-9.5 5.5 2.5 18zm187-10.5l5-5.5-5-3.5-4.5 3.5zm37.5-2.5l9.5-3-9.5-5.5-5 5.5zm-599-4l15-17-15-12.5-18.5 12.5zm430.5-4.5l16.5-12.5-16.5-14-6 14zm243.5 2l13.5-14.5-13.5-12.5-10.5 12.5zm-187.5-27l4-5.5 13.5-18 1.5-.5 6.5-17.5-1.5-18-5-14-8 14-11 18-1 0-4 18-4.5 18zm131 4l10-9.5-5.5-18-4.5-10.5-18.5 9.5-1.5 1 1.5 1.5 10.5 16.5zm-337-16.5l18-11-18-14.5-11 14.5zm-206-15l13.5-14-13.5-9-12 9zm468.5-10.5l3-3.5-3-3.5-5.5 3.5zm-281-9l13-12.5-13-10.5-17.5 10.5zm131 1l18.5-6 4.5-7.5-4.5-2-18.5-6-10.5-10-8-15-4-3 4-3.5 18.5-4.5 6-10 12.5-16.5 1-1.5 11.5-18-12.5-7-18.5 2.5-3 4.5-15.5 18-19-1-13.5-17 .5-18-5.5-2.5-19-9.5-12-6-6.5-3-19-7-18.5 4-19-2-15-10-3.5-5.5-18.5-12-9 17.5 9 18 .5 18 18 10 18-10 .5-1.5 2 1.5 14.5 18 2.5 3 18.5 8 19 0 11 7 7.5 2 18 16 1 2.5 9.5 15.5 5.5 18 3.5 3 19 13 2 2zm56-8.5l7-5 .5-18-4-18-3.5-2-2.5 2-3.5 18 1.5 18zm112.5-3.5l3.5-1.5-3.5-4.5-1.5 4.5zm112.5 8.5l5-10-5-12.5-13 12.5zm-374.5-27l2-1-2-2-1.5 2zm-56.5-9l8.5-10-8.5-14-13.5 14zm412-9.5l19 13 9.5-13.5-9.5-6.5-19 0-1.5 6.5zm-543-2l15.5-16.5-15.5-12-16.5 12zm56.5-4l10-12.5-7-18-3-14-1-4-18-15-8.5-3-8-18 5-18-2-18-5-6-12.5-12-6.5-4.5-18.5-13.5-3 0-16 2.5-10.5 15.5-1 18-7 5.5-18.5 10-3 2.5 0 18 3 11 8 7 10.5 4.5 18.5 0 19 9 16.5-13.5-6.5-18 8.5-2.5 13 2.5-7.5 18 13.5 13 1.5 5 10 18 7 2 10.5 16zm393-8.5l2.5-4-2.5-10.5-6 10.5zm75-2.5l6.5-1.5-6.5-7-1 7zm-168.5-19l.5-.5 18-14.5 17 14.5 2 .5 18.5 1 19-1.5 0-.5-19-.5-14-17-4.5-13-7.5-5-2.5-18 .5-18 5.5-18-9.5-18-3.5-18-1.5-18-.5 0-12.5 0 10 18-1.5 18-8 18 3 18 5 18-14.5 18-6.5 18 6 18zm-430.5-17l1.5-1.5-1.5-4.5-2 4.5zm542.5 10.5l18.5-12-18.5-13-5.5 13zm37.5 4.5l8-16.5-8-5.5-18 5.5zm75-5l9.5-11.5 9-7 0-11 0-18 0-18 0-9-1.5-9-17-11.5-5.5 11.5-3 18-10 17-.5 1-5.5 18 6 5.5 14 12.5zm-149.5-15.5l3.5-14 13-18-16.5-7-12.5 7 5.5 18zm93.5-28.5l5-3.5-5-3.5-2.5 3.5zm-56.5-6.5l19-13 5.5-2-5.5-2.5-19-12-17.5 14.5zm-617-33l18-10 19-5 4.5-3-4.5-5-19-9-18.5 8.5 0 5.5 0 18 0 4.5zm580 5l10-5-10-5-4 5zm-337-15.5l0-7.5-.5 0zm187-2.5l3-5-3-3-4 3zm224.5-3.5l.5-1.5-.5-1-1 1zm-430.5-14.5l1.5-5-1.5-2.5-6 2.5zm262 8.5l12.5-13.5-12.5-13-7.5-5-11 0-9 0 9 13 3 5zm131-31.5l1 0-1 0z"/><path id="a32" d="M181 1666l-8.5-17 0 17 0 10.5zm85 11.5l18.5-2 3.5-9.5-3.5-3-18.5-7.5-17.5 10.5zm131-11l19-.5 18.5 10 18.5-7.5 19-2 18.5 5 19-2.5 4.5-3-4.5-1.5-19-15-18.5 16.5-19-3.5-18.5-3.5-18.5 7-19 0-.5 0zm150 7l5-7.5-5-5.5-7 5.5zm93.5-2.5l9-5-5-18-4-10-19 8-18.5-.5-11-15.5-7.5-5.5-11.5 5.5-5.5 18 17 12.5 18.5-11 18.5 4.5 11 12zm224.5 0l12-5-12-6-10 6zm19-38.5l18.5-1.5.5-1-.5 0-18.5-2-1 2zm-599.5-18l17-2.5-17-7.5-7 7.5zm524.5 3l7-5.5-7-10-7.5 10zm-430.5-13l8.5-10.5-8.5-12-6.5 12zm112 4l3-14.5-3-4.5-8 4.5zm94-6.5l18.5-6 18.5-1.5 5.5-.5-5.5-.5-6-17.5-6.5-18-6-8.5-18.5-6.5-6 15 .5 18-1.5 18zm-262.5-43.5l2-.5-2-.5-.5.5zm225 15.5l8.5-16-8.5-5.5-17 5.5zm-75-28l13.5-6-6.5-18-7-2.5-2 2.5-4.5 18zm243.5-2.5l18.5 2 1-5.5-1-.5-18.5-.5-6 1zm-524.5-5l3-16.5-3-7-9 7zm187.5-15l1.5-1.5-1.5-6.5-7.5 6.5zm187 15.5l19-13.5 18.5-3 .5-.5 9-18-9.5-4.5-5.5 4.5-13 18-19-11-7 11zm112.5-8.5l18.5-8.5-18.5-9-11 9zm224.5-2.5l16.5-6-16.5-16.5-15.5 16.5zm-674-22l2.5-2-2.5-9.5-3 9.5zm412 13.5l6.5-15.5-6.5-10-11 10zm-224.5-32l4-1.5 10-18-14-15.5-19 13-8 2.5 8 2 16.5 16zm112 2.5l7.5-4-7.5-8.5-8.5 8.5zm356-.5l12-3.5-12-2-8 2zm-655.5-8.5l7-13-3-18-4-2.5-13 2.5 2.5 18zm505.5-9.5l19-3.5 18.5-17.5 1-.5-1-.5-5-17.5-12.5-18-1-16-4 16-11.5 18 11 18-14.5 13.5-12.5 4.5zm-430.5-17.5l7-4-7-13-14.5 13zm75 5.5l3.5-9.5-3.5-4-11.5 4zm149.5 0l19-1.5 2-8-2-3.5-19-10-6.5 13.5zm131-1.5l4.5-8-4.5-3.5-5 3.5zm168.5.5l5.5-8.5-5.5-5.5-7.5 5.5zm-224.5-23l7-3.5-7-8.5-4 8.5zm-412-18l2-3.5-2-2-2 2zm150-.5l2-3-2-9-2.5 9zm112 13.5l19-12.5 5-4-2-18-3-6-15-12-.5-18 15.5-17 1-1-1-.5-14-17.5 9.5-18-14.5-10.5-18.5-.5-18.5 1.5-10.5 9.5 10.5 14.5 7 3.5 11.5 10 2.5 8-2.5 3.5-18.5 9.5-2.5 5 2.5 2 13 16 5.5 11 4.5 7 11.5 18zm-205.5-37l13.5-15.5-13.5-6.5-13 6.5zm74.5-11l19 9 5.5-13.5-3-18-2.5-5.5-14-12.5-5-4-8 4 0 18-4.5 18zm206 13.5l17-18-17-9-12.5 9zm168.5-7.5l10.5-10.5-10.5-5-10 5zm93.5-10l17-.5-13-18-4-3-2 3 2 18zm-205.5-16.5l2.5-2-2.5-3.5-2.5 3.5zm-393.5-16l3.5-4-3.5-6.5-10.5 6.5zm562 1.5l6.5-5.5 11-18-17.5-18-19 17-.5 1 .5.5 15.5 17.5zm-524.5-18.5l6.5-5-6.5-9-6.5 9zm281 2l18.5-6 1-1-1 0-18.5-6-4.5 6zm393-5.5l10-1.5 4-18-14-9.5-11.5 9.5 8 18zm-412-17.5l3-2-3-1.5-9.5 1.5zm-243-18.5l6-1.5-6-2-2.5 2zm468 8.5l18.5-1.5 1.5-8.5-1.5-2.5-18.5-6.5-10.5 9zm-534-28l-9-11.5 0 11.5 0 7zm140.5 12l19-11.5 7-.5 11.5-1 19-15 18.5-2 1 0 11.5-18-.5-18-7-18 0-18-5-4.5-18.5-3.5-6.5-10-12.5-3-18.5-10.5-19 9.5-18.5-5-14 9 14 7.5 18.5-6 19 16 4.5.5-4.5 9-1 9 1 15.5.5 2.5-.5.5-19 8-15.5 9.5 6 18-2 18zm262.5 0l6-12 0-18-6-3.5-6.5 3.5 1 18zm187-8l4-4-4-2.5-3.5 2.5zm37.5-2l7-2-7-4-4 4zm-599-4.5l13.5-15.5-13.5-11.5-16.5 11.5zm430.5-4.5l14-11-14-12-5.5 12zm243.5 2l12-13-12-11-9.5 11zm-187.5-27l3-4 7.5-18 8.5-4 5-14-.5-18-4.5-12-6.5 12-9 18-3.5 7-3 11-4 18zm131 4l8.5-8-8.5-18-7 18zm-337-16.5l16-9.5-16-12.5-9.5 12.5zm-206-15l11.5-12.5-11.5-8-10.5 8zm468.5-10l2-2.5-2-2.5-4 2.5zm-281-9l12-11.5-12-9.5-16 9.5zm131-1.5l18.5-7 2-3-2-1-18.5-5-12.5 6zm56-7.5l3.5-2.5 2.5-18-4-18-2-1-1 1-3.5 18 2.5 18zm112.5-2l1-.5-1-1-.5 1zm112.5 8l4-8.5-4-11-11 11zm-318.5-25.5l19 11 6-12-6-11-8-7 8-7.5 18.5-4.5 3.5-6 11-18 4-1 11.5-17-11.5-6-18.5 3.5-1.5 2.5-10.5 18-6.5 5-19-4-3-1-13-18-.5-18-2-1-19-8-17.5-9-1-.5-19-6-18.5 3-19-2-18.5-12.5-18.5-9-4.5 9 4.5 9.5 7.5 8.5-4.5 18 15.5 9 15.5-9 3-6.5 8 6.5 10.5 18 .5.5 18.5 7.5 19-.5 15.5 10.5 3 1 19 15 .5 2 11.5 18 5.5 18zm-112.5-10.5l7-8.5-7-11.5-11 11.5zm431 3.5l8.5-12-8.5-5.5-17.5 5.5zm-562-15.5l14-14.5-14-11-14.5 11zm56.5-4l9-10.5-8-18-1-5.5-2.5-12.5-16.5-13.5-11.5-4.5-7-15-9.5 15 9.5 9 3 9 15.5 18 11.5 18zm393-9l1-1.5-1-3.5-2 3.5zm-37.5-19l3-.5-3 0-6 0zm-56-3l18.5-14.5 19 15.5 3.5-16.5-3.5-10.5-11.5-7.5-1-18 2-18 4-18-11-18-1.5-11-1 11-9 18 2 18 5 18-9.5 18-6 3-5.5 15zm112-5l16-10.5-16-11.5-5 11.5zm37.5 3l6.5-13.5-6.5-4.5-15 4.5zm75-7l5.5-6.5 13-10 0-8 0-18 0-14.5-2-3.5-1.5-18-15-10-4.5 10-1 18-9 18-4 4.5-4 13.5 4 4 16 14zm-636.5-21.5l18.5-1 19 10.5 15-12.5-12.5-18 16-5 19 3.5 6-16.5-2.5-18-3.5-4-14.5-14-4.5-3-18.5-13.5-19 5-8 11.5.5 18-11 8.5-18.5 8.5-1.5 1-.5 18 2 7 12.5 11zm487 6l2.5-9 11.5-18-14-6-11 6 6.5 18zm93.5-24.5l3.5-2.5-3.5-2.5-1.5 2.5zm-56.5-7.5l19-12.5 2-.5-2-1-19-12-15.5 13zm-37-27.5l7.5-3.5-7.5-3.5-3 3.5zm-562-14.5l19-5 3-2-3-3.5-19-8.5-18.5 9.5 0 2.5 0 10.5zm412-3.5l2-3.5-2-2.5-3 2.5zm-206-20l.5-1.5-.5-.5-1.5.5zm262 10.5l11-12-11-11.5-10-6.5-8.5 0-7 0 7 10 5 8z"/><path id="a33" d="M179.5 1666l-7-14 0 14 0 9zm86.5 10l18.5-4 2-6-2-1.5-18.5-7.5-15.5 9zm168.5-1.5l18.5-7.5 7.5-1-7.5-1-18.5-4.5-15.5 5.5zm56-4l19-2.5 2.5-2-2.5-1-19-12.5-15.5 13.5zm56.5 1l4-5.5-4-4-5.5 4zm93.5-2.5l5-3-2-18-3-8-19 7.5-9.5.5 9.5 2 14.5 16zm224.5 0l7-3-7-3.5-6 3.5zm-280.5-9.5l17.5-11.5-13-18-4.5-3.5-7 3.5-8.5 18zm-300-46.5l7-1-7-3-3 3zm524.5 3l5.5-4-5.5-8-6 8zm-430.5-12.5l7.5-9.5-7.5-10.5-5.5 10.5zm112 0l2-9.5-2-3-5 3zm94-3.5l18.5-5 9-1 2-18-8.5-18-2.5-4-18.5-4.5-3.5 8.5.5 18-2.5 18zm-37.5-29.5l6.5-12.5-6.5-4-13.5 4zm-75-25.5l11.5-5-9.5-18-2-.5-.5.5-5 18zm243.5-4l18.5 0 0-1-18.5 0-1.5 0zm-524.5-8l2-11-2-4.5-5.5 4.5zm374.5 4l16.5-15-16.5-9.5-6.5 9.5zm112.5-7.5l16-7.5-16-8-9.5 8zm224.5-2.5l14.5-5-14.5-14.5-13.5 14.5zm-674-22l1-1-1-4.5-1.5 4.5zm374.5 12.5l6.5-13.5-6.5-3-4 3zm37.5-1l5-12.5-5-8-9 8zm-224.5-30.5l12.5-18-12.5-13.5-18.5 13.5 18 18zm112 3.5l6-3.5-6-7-7 7zm356-1l9-2.5-9-1.5-6 1.5zm-655.5-10l5.5-10.5-3-18-2.5-1.5-8 1.5-.5 18zm505.5-8l14-2.5-14-3.5-9 3.5zm-430.5-17.5l6-3-6-11-12.5 11zm75-1l.5-2-.5-1-2.5 1zm149.5 6l19-5.5.5-2.5-.5-1-19-10-5.5 11zm131-2.5l3.5-5.5-3.5-2.5-3.5 2.5zm94 6.5l13-12-.5-18-12.5-18-.5 0-14 18 11.5 18zm74.5-5.5l4-6.5-4-4-5.5 4zm-224.5-22l5-2.5-5-6.5-3 6.5zm-412-18.5l1-2-1-1-1 1zm262 9.5l19-8.5 3.5-3-1.5-18-2-4-17.5-14-.5-18 16-18-13.5-18 6.5-18-10-7.5-18.5-1.5-18.5 3-7 6 7 9.5 16.5 8.5 2 2 4.5 16-4.5 6.5-18.5 10.5-1 1 1 .5 14 17.5 4.5 8.5 5.5 9.5 11.5 18zm-205.5-34l11.5-13.5-11.5-5.5-11.5 5.5zm74.5-13l19 7 3-7.5-2-18-1-2-18-16-1-.5-1 .5-4 18 3.5 18zm206 15.5l15-16-15-8-11 8zm168.5-8l8-8-8-4-7.5 4zm-112-25l1-1-1-1.5-1.5 1.5zm-393.5-16.5l2.5-2.5-2.5-4-7 4zm562 0l3-2.5 13-18-16-16-17.5 16 15.5 18zm-524.5-17l4.5-3.5-4.5-6.5-4.5 6.5zm281 1l13-4.5-13-4-3 4zm393-4l4-.5 8.5-18-12.5-8.5-10 8.5 8.5 18zm-412-18.5zm225-9.5l18.5-4 1-4.5-1-1-18.5-7-9 8zm-535-26.5l-8-10 0 10 0 6zm141.5 10.5l17-10.5 2-1 18.5-6 19-10 8-1 10.5-3.5 10-14.5-2-18-8-17.5-.5-.5-18-16-4.5-2-7.5-18-7-1.5-18.5-11-18 12.5 18 16 13.5 2-11.5 18 2.5 18-4.5 7-19 4.5-11 6.5 3.5 18-2.5 18zm262.5-2.5l4-8-1-18-3-2-3.5 2 0 18zm187-5l3-3-3-2-2.5 2zm37.5-1.5l4.5-1.5-4.5-3-2.5 3zm-599-5.5l12-14-12-10-15 10zm430.5-4.5l12-9.5-12-10-4.5 10zm243.5 1.5l10.5-11-10.5-9.5-8 9.5zm-187.5-26.5l2-2.5 1-18-3-3-1 3-3 18zm131 4l7-6.5-7-14.5-5.5 14.5zm-337-16l14-8.5-14-11-8.5 11zm-206-16l10-10.5-10-6.5-9 6.5zm431 0l4-10.5-.5-18-3.5-10-5.5 10-6.5 18zm37.5-9l1-1.5-1-1.5-2.5 1.5zm-281-9l10.5-10.5-10.5-9-14.5 9zm131-3.5l16-7-16-4-8.5 4zm281 0l3.5-7-3.5-9-9.5 9zm-580.5-18.5l17.5-6.5-17.5-7.5-12 7.5zm281 1.5l4-8-4-7.5-12.5-10.5 12.5-12 18.5-4 1-2 4.5-18 13-3 10-15-10-5.5-18.5 4.5-.5 1-4 18-14 10-19-7.5-8-2.5-10-18-.5-10-2-8-17-6.5-18.5-6.5-8.5-5-10.5-3-18.5 1.5-19-1.5-18.5-2.5-3 5.5-10.5 18 13.5 7.5 13.5-7.5 5-11.5 13.5 11.5 5.5 10.5 5 7.5 13.5 5.5 19-1 18.5 13 2.5.5 16.5 11 2 7 12.5 18 4 13.5 4 4.5zm74.5 9l4.5-17-4.5-18-3.5 18zm-206-28l5.5-7-5.5-9.5-9 9.5zm431 3.5l7.5-10.5-7.5-5-15.5 5zm-562-15.5l12.5-13-12.5-9.5-13 9.5zm56.5-4l7.5-9-7.5-17-6 17zm-19-28.5l15-16.5-15-12.5-15-5.5-3.5-8-5 8 5 5 4.5 13zm318.5-4l16.5-12.5 2-7 3.5-11 .5-18 3.5-18 2.5-18-10-15.5-8 15.5 1 18 5.5 18-4 18-13 6-4.5 12zm37.5 0l2.5-12.5-2.5-8-16 8zm74.5-3.5l14-9-14-10-4.5 10zm37.5 2l5.5-11-5.5-3.5-12 3.5zm75-9.5l1-1.5 17.5-13 0-5 0-18 0-1.5-10.5-16.5 5-18-13-8.5-4 8.5 1.5 18-6.5 18-9.5 10.5-2.5 7.5 2.5 2 18 16zm-636.5-18.5l18.5-1 19 11 13.5-11-13.5-16.5-3-1.5 3-3.5 18.5-3.5 19 2.5 4.5-13.5-3-18-1.5-2-16.5-16-2.5-2-18.5-12.5-19 7-5 7.5 1.5 18-15 11.5-17 6.5-1.5 4-1 14 1 3 16.5 15zm487 3.5l1-4.5 11-18-12-5-9 5 7 18zm93.5-21l2-1.5-2-1.5-1 1.5zm-430.5-18.5l1.5-1-1.5-1-.5 1zm374 10.5l18-11.5-18-11.5-13.5 11.5zm-37-27l5-2.5-5-2.5-2.5 2.5zm-562-14.5l19-5 2-1-2-2-19-8-18.5 10zm412-4l1.5-2-1.5-1.5-1.5 1.5zm56-10l9.5-10-9.5-10-11.5 10zm-18.5-21l6-7-6 0-5 0z"/><path id="a34" d="M178 1666l-5.5-11 0 11 0 7zm88 9l18.5-6.5 1-2.5-1-.5-18.5-7.5-13.5 8zm168.5-2.5l17-6.5-17-4.5-12 4.5zm56-3l19-3 .5-.5-.5 0-19-10.5-12 10.5zm56.5.5l2.5-4-2.5-3-3.5 3zm93.5-3l1-1 1.5-18-2.5-6-16 6 15 18zm224.5.5l2.5-1.5-2.5-1-2 1zm-280.5-9.5l15.5-10-14-18-1.5-1-3 1-10.5 18zm224.5-43l4-3-4-6-4.5 6zm-430.5-13l6.5-8-6.5-9-5 9zm112-3l1-5-1-1.5-2.5 1.5zm94-.5l17-4.5 1.5-.5 10-17.5-10-17.5-3.5-.5-15-2.5-1 2.5.5 18-3.5 18zm-37.5-31l5-9.5-5-3-10 3zm-75-23l9.5-4.5-9.5-15.5-4.5 15.5zm-281-17.5l1-5-1-2-2.5 2zm374.5 8l14.5-13-14.5-8.5-5.5 8.5zm112.5-6.5l14-6.5-14-6.5-8.5 6.5zm224.5-2l12.5-4.5-12.5-12.5-11.5 12.5zm-674-22.5zm374.5 8l4-8-4-2-2.5 2zm37.5 1.5l4-9.5-4-6-6.5 6zm-112.5-25l4.5-2.5-4.5-5-5 5zm356-1l5.5-1.5-5.5-1-4 1zm-655.5-12l4-7.5-3-18-1-.5-3 .5-3 18zm187.5 8.5l11-16-11-12-16.5 12zm318-14.5l8.5-1.5-8.5-2-5.5 2zm-430.5-17l5-2.5-5-9-10 9zm224.5 4l16.5-6.5-16.5-9-4.5 9zm131-3.5l2-3-2-1.5-1.5 1.5zm94 2l5.5-5 6-18-11.5-16.5-13.5 16.5 12 18zm74.5 0l3-5-3-3-4 3zm-224.5-21.5l3.5-1.5-3.5-4-2 4zm-412-19l0-.5zm262 6l19-5 2-1.5-1-18-1-2-19-15-2-1-2-18 4-2 14.5-16-13-18 4-18-5.5-4-18.5-3.5-18.5 4.5-3.5 3 3.5 5 18.5 10 9.5 3-2.5 18-7 9.5-15 8.5 11.5 18 3.5 6.5 7 11.5 10.5 18zm-205.5-31l10-11.5-10-5-10 5zm93.5-10.5l.5-1-.5-5-3.5 5zm187 13l13-14-13-7-10 7zm168.5-8.5l5.5-5.5-5.5-2.5-5 2.5zm-374.5-14l12.5-9.5-12.5-9.5-2.5 9.5zm-131-26.5l1-1-1-2-3 2zm37.5-16.5l3-2.5-3-4.5-3 4.5zm281-.5l5.5-2-5.5-1.5-1.5 1.5zm243.5 16l14.5-18-14.5-14.5-16 14.5zm149.5-18.5l11-17.5-11-7.5-9 7.5zm-187-28.5l18.5-6.5 0-.5-18.5-6.5-7.5 6.5zm-536.5-25l-6.5-8.5 0 8.5 0 5zm143 9.5l15-9.5 4-2.5 18.5-10 14-5.5 5-1.5 18.5-6 7-10.5-3-18-4-9-13.5-9-5-4.5-19-11-11.5 15.5 1.5 18-8.5 13-19 1-6 4 0 18-3 18zm31-45.5l6.5-2.5 2 2.5-2 6zm231.5 40.5l2-4.5-2-18-.5 0-1.5 18zm187-2.5l1.5-2-1.5-1-1.5 1zm37.5-1l2.5-1-2.5-1.5-1.5 1.5zm-599-6.5l10.5-12.5-10.5-9-13 9zm430.5-5l9.5-7.5-9.5-8-3.5 8zm243.5 2l9-9.5-9-8-7 8zm-187.5-26.5l1-1-1-9.5-1.5 9.5zm131 4l5.5-5-5.5-11.5-4.5 11.5zm-337-16l12-7-12-9.5-7 9.5zm-206-16l8.5-9-8.5-5.5-7.5 5.5zm431-1.5l2.5-7.5.5-18-3-8-4.5 8-3.5 18zm37.5-7l.5-.5-.5-.5-1 .5zm-281-9l9.5-9.5-9.5-8-13 8zm131-6l8-3.5-8-2-4.5 2zm281 2.5l3-6-3-7.5-7.5 7.5zm-580.5-18.5l14-5.5-14-6-9.5 6zm37.5 9l18.5-9 1-5.5-1 0-18.5-11.5-16.5 11.5zm243.5-10.5l2-4-2-3.5-7.5 3.5zm74.5 7.5l3-11.5-3-11.5-2 11.5zm-206-24.5l4-5-4-7-6.5 7zm112.5-.5l2-4.5 17-16 9-2-9-2.5-19-11.5-12.5-4-6-12-1.5-6-8-18-9.5-3.5-18.5-4-19-10-18 17.5 12 18 6 2.5 19-1 18.5 14 9.5 2.5 9.5 6 4 12 13 18zm318.5 4.5l6.5-9-6.5-4-13.5 4zm-562-15.5l11-11.5-11-8-11 8zm56.5-4l6-7.5-6-14-5 14zm-19-28.5l14-15-14-11-12.5 11zm262-2.5l8.5-12.5-8.5-4.5-17.5 4.5zm56.5-3l12.5-9.5-12.5-9-3.5 9zm37.5-1.5l1.5-8-1.5-5-11 5zm74.5-.5l12-7.5-12-8.5-3.5 8.5zm37.5 1l4-8.5-4-2.5-9 2.5zm-524-17l12-9.5-12-14.5-8-3.5 8-8.5 18.5-.5 19 1.5 3.5-10.5-3.5-18-18-18-1-.5-18.5-12.5-19 9.5-2.5 3.5 2.5 18-18.5 14.5-9 3.5-9 18 18 16 18.5-3 2.5 5zm37.5-8.5l.5-1-.5-1.5-1 1.5zm93.5 5l11-6 7.5-16.5 11-1.5-11-.5-6.5.5-12 2-11 16zm449.5-5.5l18.5 14.5 18.5-13.5 0-1.5 0-6.5-10.5-11.5-8-17.5-3.5 17.5-15 16.5-.5 1.5zm-187.5-4.5l1.5-14 5-18 1-18-7.5-11.5-6 11.5 0 18 5.5 18zm56.5 3.5l9.5-17.5-9.5-4-7.5 4zm93.5-17l.5-.5-.5-.5-.5.5zm-56.5-8.5l15.5-10-15.5-10-11.5 10zm-37-26.5l2.5-1.5-2.5-1.5-1.5 1.5zm149.5 16.5l10.5-18-10.5-7-3.5 7zm-711.5-31.5l19-4 .5-.5-.5-.5-19-7.5-14.5 8zm412-4l.5-.5-.5-.5-.5.5zm56-10l8-8.5-8-8.5-9.5 8.5zm-18.5-22.5l3.5-4-3.5 0-3 0z"/><path id="a35" d="M176.5 1666l-4-8.5 0 8.5 0 5.5zm89.5 7.5l18-7.5-18-6.5-11.5 6.5zm168.5-3l12-4.5-12-3-8.5 3zm56-2l14.5-2.5-14.5-7.5-8.5 7.5zm56.5-.5l1-2-1-1.5-2 1.5zm37.5-11l13.5-9-13.5-17-12 17zm56 5l1.5-14-1.5-4-11.5 4zm168.5-48l2.5-2-2.5-3.5-3 3.5zm-430.5-13l5.5-7-5.5-7.5-4 7.5zm206-4.5l9-2.5 9.5-2.5 8.5-15.5-8.5-15-16.5 15-2 8-2 10zm-37.5-32.5l3-6-3-2-6.5 2zm-75-20.5l7.5-3.5-7.5-12.5-3.5 12.5zm93.5-10.5l12-11-12-7-4.5 7zm112.5-5.5l12-5.5-12-5.5-7 5.5zm224.5-1.5l10.5-4-10.5-10.5-9.5 10.5zm-299.5-19l1.5-3-1.5-.5-1 .5zm37.5 3.5l2.5-6.5-2.5-4-4.5 4zm-112.5-22.5l3.5-2-3.5-3.5-3.5 3.5zm356-1l2.5-1-2.5-.5-2 .5zm-655.5-14.5l2.5-4.5-2.5-14.5-3.5 14.5zm187.5 9l9.5-13.5-9.5-10-14 10zm318-13l3.5-.5-3.5-.5-2 .5zm-430.5-16.5l3.5-2-3.5-7-8 7zm224.5 3l12.5-5-12.5-6.5-3 6.5zm131-4.5l.5-.5-.5 0zm168.5 2.5l2-3-2-1.5-2.5 1.5zm-224.5-20.5l1.5-.5-1.5-1.5-1 1.5zm150 17l10.5-17.5-10.5-15-12.5 15zm-300-34l19-1 .5-.5-.5-18-19-15.5-7.5-2.5-1.5-18 9-5 12-13-12-17-9.5 17-9 12.5-9.5 5.5 7 18 2.5 4.5 8 13.5 10.5 18zm-205.5-28l8-9.5-8-4-8 4zm280.5 2.5l11.5-12-11.5-6-8.5 6zm168.5-9l3-3-3-1.5-2.5 1.5zm-468-56l1.5-1-1.5-2-1.5 2zm524.5 15l13-16-13-13-14 13zm-318.5-22.5l18.5-3 1-8.5-1-.5-18.5-5-18.5 5.5zm468 3.5l9.5-15-9.5-6.5-7.5 6.5zm-187-27.5l15-5.5-15-5-6 5zm-537.5-23.5l-5.5-6.5 0 6.5 0 4zm144 8l13-8 6-4 18.5-14-18.5-17.5-7-.5-12-1-1.5 1-2.5 18-3.5 18zm262.5-7.5l0-.5 0-1.5-.5 1.5zm187 0l.5-.5-.5-.5-.5.5zm37.5-.5zm-599-7l9-11-9-8-11.5 8zm430.5-5l7.5-6-7.5-6-3 6zm243.5 2l7.5-8-7.5-6.5-6 6.5zm-505.5-14l18.5-5.5 4.5-6.5-4.5-18-18.5-15.5-6-2.5-13-8.5-6.5 8.5.5 18 6 9.5 6.5 8.5zm449-8l4-4-4-8.5-3 8.5zm-337-16l10-6-10-7.5-6 7.5zm-206-16.5l7-7.5-7-4.5-6 4.5zm431-3.5l1.5-4 .5-18-2-5.5-3.5 5.5-1 18zm-243.5-14l8.5-8-8.5-7-11.5 7zm131-8l.5 0-.5 0zm281 4.5l2-4.5-2-5.5-6 5.5zm-580.5-18.5l11-4-11-4.5-7.5 4.5zm37.5 9l17-13-17-10-15 10zm243.5-13zm74.5 5.5l1.5-5.5-1.5-5.5-1 5.5zm-206-20l3-3.5-3-4.5-4 4.5zm431 4l5.5-7.5-5.5-3.5-11 3.5zm-562-16l9-9.5-9-7-9.5 7zm56.5-4l4.5-5.5-4.5-10.5-4 10.5zm187 11.5l17.5-17-17.5-12.5-17.5-5.5-1-2.5-3.5-15.5-13.5-18-2-.5-18.5-1-19-8.5-10.5 10 10.5 16.5 19-11.5 1 13 17.5 13.5 16.5 4.5 2.5 1.5 5.5 16.5zm-206-39.5l12.5-13.5-12.5-10-11.5 10zm262-3l7-10.5-7-4-14.5 4zm56.5-4.5l8-6-8-6-2.5 6zm37.5-2l.5-4-.5-2.5-5.5 2.5zm74.5 2.5l10-6.5-10-7-3 7zm37.5-1l3-5.5-3-2-6 2zm-524-15l10-8.5-10-12.5-12.5-5.5 12.5-14 18.5 2.5 19 1 2.5-7.5-2.5-13-2-5-17-17-1.5-1-17-11-18.5 11 3.5 18-4 2-18.5 15.5-1 .5-12.5 18 13.5 12 18.5-4.5 4.5 10.5zm131-3.5l8.5-5-8.5-12.5-8.5 12.5zm468 6l16-11-16-16-14.5 16zm-149.5-16l7-13-7-3-5.5 3zm-56.5-14.5l5.5-16.5-.5-18-5-7.5-4 7.5-1 18zm93.5-8l13-8.5-13-8.5-10 8.5zm-37-26.5l-.5 0zm149.5 14l8.5-14-8.5-5.5-2.5 5.5zm-711.5-28.5l15.5-3.5-15.5-6-10.5 6zm468-14.5l6.5-7-6.5-6.5-7.5 6.5zm-18.5-24l1-1-1 0-1 0z"/><path id="a36" d="M175 1666l-2.5-5.5 0 5.5 0 3.5zm91 6l14.5-6-14.5-5.5-9.5 5.5zm168.5-3l7.5-3-7.5-2-5 2zm56-1.5l8.5-1.5-8.5-4-5 4zm56.5-1l0-.5-.5 0zm37.5-11l11.5-7.5-11.5-14.5-10.5 14.5zm56 .5l1-8-1-2.5-6.5 2.5zm168.5-43l1-1-1-1.5-1 1.5zm-430.5-13l4.5-6-4.5-6.5-3.5 6.5zm206-5.5l1.5-.5 17-5 7-13-7-13-14 13-4.5 16.5-.5 1.5zm-37.5-34l1-2.5-1-.5-3 .5zm-75-18l5.5-2.5-5.5-9-2.5 9zm93.5-11.5l10-9-10-5.5-3.5 5.5zm112.5-4.5l9.5-4.5-9.5-4.5-5.5 4.5zm224.5-1.5l8.5-3-8.5-8-8 8zm-262-17.5l1.5-3.5-1.5-2-2.5 2zm-112.5-20.5l2-1-2-2-2 2zm-299.5-17l1-2-1-5-1.5 5zm187.5 9.5l7.5-11.5-7.5-8.5-11.5 8.5zm-112.5-28l2.5-1.5-2.5-5-5.5 5zm224.5 2l8.5-3.5-8.5-4.5-2 4.5zm299.5-2.5l.5-1-.5-.5-.5.5zm-74.5-3l9.5-16-9.5-14-11.5 14zm-300-35.5l17-16.5-17-13.5-9 13.5zm-205.5-27l6.5-7.5-6.5-3-6.5 3zm187-5l6-2.5-1.5-18-4.5-2.5-4.5 2.5 3.5 18zm93.5 7.5l9.5-10-9.5-5-7 5zm168.5-9.5l.5-.5-.5 0zm-243.5-26.5l9-10-9-13-7 13zm300-14l11-14-11-11-12.5 11zm-318.5-24.5l13.5-7.5-13.5-3.5-12.5 3.5zm468 5l7.5-12.5-7.5-5-6.5 5zm-187-26.5l11-4-11-4-4.5 4zm-539-22l-4-5 0 5 0 3zm145.5 7l11-7 8-5.5 16.5-12.5-16.5-15.5-19 3-2.5 12.5-4 18zm-112-16l8-9-8-6.5-10 6.5zm430.5-5l5-4-5-4.5-2 4.5zm243.5 2.5l6-6.5-6-5-4.5 5zm-505.5-17l18.5-5 2-2.5-2-7-4.5-11-14-12-16-6-3-2-1.5 2-.5 18 2 3 11 15zm449-5l2.5-2.5-2.5-5-2 5zm-337-16l8-4.5-8-6-4.5 6zm-206-17l5.5-5.5-5.5-3.5-4.5 3.5zm431-5l0-.5 1-18-1-3.5-2 3.5 1 18zm-243.5-11.5l7.5-7-7.5-6-10 6zm412-4l1.5-3-1.5-4-4 4zm-580.5-18l8-3-8-3.5-5.5 3.5zm37.5 8.5l15-11.5-15-9-13 9zm112-28l1.5-1.5-1.5-2-2 2zm431 4.5l4-6-4-3-9 3zm-562-16l7.5-8-7.5-5.5-8 5.5zm56.5-4l3-4-3-7.5-3 7.5zm187 11l15.5-15-15.5-11-11.5 11zm-206-39.5l11-11.5-11-9-10 9zm168.5 0l13-11.5-13-16-15 16zm93.5-3l5.5-8.5-5.5-3-11.5 3zm56.5-5.5l4-3-4-3-1 3zm112 2l8-5-8-5.5-2.5 5.5zm37.5-2l1.5-3-1.5-1-3 1zm-524-14l8.5-7-8.5-10.5-12 10.5zm131-3.5l6.5-3.5-6.5-9-6.5 9zm56 1l6.5-4.5-6.5-3-3 3zm412 2l9.5-6.5-9.5-10-9 10zm-636.5-16l18.5-6.5 2-2 16.5-18 .5-1 1.5 1 17 4.5 19-.5 1.5-4-1.5-7.5-3.5-10.5-15.5-15-4.5-3-14-9-15.5 9 4 18-7.5 4-16.5 14-2 5-9.5 13zm487 .5l4.5-9-4.5-2-4 2zm-56.5-13l4.5-14-2-18-2.5-3.5-2 3.5-2.5 18zm93.5-7l10.5-7-10.5-6.5-8 6.5zm112.5-14.5l6-10.5-6-4-2 4zm-711.5-26.5l10-2-10-3.5-6.5 3.5zm468-15l5-5-5-5-6 5z"/><path id="a37" d="M173.5 1666l-1-2.5 0 2.5 0 2zm92.5 5l11.5-5-11.5-4-7.5 4zm168.5-4l2.5-1-2.5-.5-2 .5zm56-.5l2.5-.5-2.5-1-1.5 1zm94-12l9.5-6.5-9.5-12-8.5 12zm56-4.5l0-2 0-.5-1.5.5zm-262-51.5l3.5-4.5-3.5-5-3 5zm224.5-12l6-10.5-6-10.5-11.5 10.5zm-131-45l3.5-1.5-3.5-5.5-1.5 5.5zm93.5-12.5l7.5-7-7.5-4-3 4zm112.5-3.5l7.5-3.5-7.5-3.5-4.5 3.5zm224.5-1l6.5-2.5-6.5-6-6 6zm-262-20l0-.5-.5 0zm-112.5-18l.5-.5-.5 0-.5 0zm-112-9.5l6-9-6-6.5-9.5 6.5zm-112.5-26l1.5-1-1.5-3-3.5 3zm224.5.5l4-1.5-4-2-1 2zm225-5l8.5-14.5-8.5-12.5-10 12.5zm-300-36l15-14.5-15-11.5-8 11.5zm-205.5-26.5l5-6-5-2.5-5 2.5zm187-5.5l1-.5-1-8.5 0 8.5zm93.5 7.5l7.5-8-7.5-4-5.5 4zm-75-37l6.5-7-6.5-9-5 9zm300-13l9.5-12-9.5-9.5-10.5 9.5zm-318.5-26.5l6.5-3.5-6.5-1.5-6 1.5zm468 6.5l6-10-6-4-5 4zm-187-25l7-3-7-2.5-3 2.5zm-540-21l-3-3.5 0 3.5 0 2.5zm146.5 5.5l9-5.5 10-7 14.5-11-14.5-13.5-19 9.5-.5 4-4.5 18zm-112-16l6.5-7.5-6.5-5.5-8 5.5zm430.5-5l3-2.5-3-2.5-1 2.5zm243.5 2l4-4.5-4-4-3.5 4zm-505.5-19.5l12-3-2.5-18-9.5-8-15.5 8 12 18zm449-2l1-1-1-2-.5 2zm-337-15.5l5.5-3.5-5.5-4.5-3 4.5zm-206-17.5l4-4-4-2.5-3 2.5zm187.5-16l6-6-6-5-8.5 5zm243.5 3l.5-9-.5-1.5-1 1.5zm168.5-7.5l.5-1.5-.5-2-2.5 2zm-580.5-17.5l4.5-2-4.5-2-3 2zm37.5 8l13-10-13-8-11.5 8zm543-23.5l3-4.5-3-2-7 2zm-562-16.5l6-6-6-4.5-6 4.5zm56.5-3.5l1.5-2.5-1.5-4.5-1.5 4.5zm187 10.5l13.5-13-13.5-9.5-10 9.5zm-206-39l9.5-10-9.5-7.5-8.5 7.5zm168.5 0l11-10-11-13.5-12.5 13.5zm93.5-4l4-6-4-2-8.5 2zm168.5-2.5l5.5-3.5-5.5-4-1.5 4zm37.5-3.5zm-524-12l7-6-7-8.5-10 8.5zm131-3.5l4-2.5-4-6-4 6zm468 0l3.5-2.5-3.5-3.5-3.5 3.5zm-636.5-16l12-4.5 6.5-2 15.5-16 3.5-6.5 10 6.5 8.5 2.5 19-1.5.5-1-.5-2-5.5-16-13.5-13-7-5-11.5-7.5-12.5 7.5 5 18-11.5 6.5-13.5 11.5-5 11-5 7zm487 .5l2.5-5-2.5-1-2 1zm-56.5-12l3.5-11-3.5-17.5-3.5 17.5zm93.5-5.5l8.5-5.5-8.5-5-6 5zm112.5-16.5l4-7-4-2.5-1 2.5zm-711.5-24l4.5-1-4.5-1.5-3 1.5zm468-15.5l3.5-3.5-3.5-3.5-4 3.5z"/><path id="a38" d="M266 1669.5l8-3.5-8-3-5 3zm318.5-16.5l7.5-5-7.5-9.5-7 9.5zm-206-55.5l2.5-3.5-2.5-3.5-2 3.5zm224.5-13l4.5-8.5-4.5-8-9 8zm-131-44l1-.5-1-2-.5 2zm93.5-14l5-4.5-5-3-2 3zm112.5-2l5-2.5-5-2.5-3 2.5zm224.5-1l4.5-1.5-4.5-4-4 4zm-486.5-48.5l4.5-7-4.5-5-7 5zm-112.5-24.5l.5-.5-.5-1-1 1zm224.5-.5zm225-5l7.5-13-7.5-11-9 11zm-300-37l12.5-12-12.5-10-6.5 10zm-205.5-26l3-4-3-1.5-3.5 1.5zm280.5 2l5.5-6-5.5-3-4 3zm-75-38l3.5-4-3.5-5-2.5 5zm300-12l8-10-8-8-9 8zm149.5-20.5l4.5-7.5-4.5-3-4 3zm-187-24l3.5-1.5-3.5-1-1.5 1zm-541.5-19.5l-1.5-2 0 2 0 1.5zm148 4.5l7-4.5 12-8.5 12.5-9.5-12.5-11.5-17.5 11.5-1.5 2.5-4 15.5zm-112-16.5l5-6-5-4.5-6.5 4.5zm430.5-5.5l.5-.5-.5-.5-.5.5zm243.5 2.5l2.5-3-2.5-2.5-2.5 2.5zm-505.5-24.5l5-14.5-5-4.5-8.5 4.5zm112-12.5l3.5-2-3.5-2.5-2 2.5zm-206-17.5l2.5-2.5-2.5-1.5-1.5 1.5zm187.5-15.5l5-5-5-4-7 4zm412-4.5l0-.5 0-.5-.5.5zm-580.5-18l1.5-.5-1.5-.5-1 .5zm37.5 8l11-8.5-11-6.5-10 6.5zm543-23.5l2-3-2-1.5-4.5 1.5zm-562-16.5l4.5-4.5-4.5-3-4.5 3zm56.5-4l.5-.5-.5-1-.5 1zm187 10.5l11-11-11-8-8.5 8zm-206-38.5l8-8.5-8-6.5-7.5 6.5zm168.5-.5l9-8-9-11-10 11zm93.5-4l3-4-3-1.5-5.5 1.5zm168.5-2l3.5-2-3.5-2.5-1 2.5zm-486.5-15.5l5.5-4.5-5.5-6.5-7.5 6.5zm131-3.5l1.5-1-1.5-2.5-1.5 2.5zm-168.5-18l2.5-1 16-5 13-13-13-9.5-11 9.5-7.5 16.5-1 1.5zm487-.5l0-.5-.5 0zm-431-18.5l2 0 10-18-12-11.5-10-6.5-8.5-5.5-9.5 5.5 5.5 18 4 5.5 18 12.5zm374.5 8l2.5-8-2.5-13-2.5 13zm93.5-4.5l6-3.5-6-3.5-4 3.5zm112.5-18.5l2-3-2-1-.5 1zm-243.5-37l2-2-2-2-2 2z"/><path id="a39" d="M266 1668l5-2-5-1.5-3 1.5zm318.5-16l5.5-4-5.5-7-5 7zm-206-55.5l1.5-2.5-1.5-2.5-1.5 2.5zm224.5-14.5l3.5-6-3.5-5.5-6.5 5.5zm-37.5-57.5l3-2.5-3-1.5-1 1.5zm112.5-1l3-1.5-3-1.5-2 1.5zm224.5-.5l2.5-1-2.5-2-2 2zm-486.5-50.5l3-4.5-3-3-4.5 3zm337-29l6.5-11.5-6.5-9.5-8 9.5zm-300-37.5l10.5-10-10.5-8-5.5 8zm-205.5-26l1.5-2-1.5-.5-1.5.5zm280.5 2l4-4-4-2-2.5 2zm-75-39l1-1-1-1-.5 1zm300-11l6-8-6-6.5-7 6.5zm149.5-21l3-5-3-2-2.5 2zm-729.5-41l-.5-.5 0 .5 0 .5zm149 3l5-3-5-10.5-2.5 10.5zm-112-16.5l3.5-4.5-3.5-3-4.5 3zm131 3.5l10.5-8-10.5-10-14.5 10zm543-6.5l1-1.5-1-1-1 1zm-505.5-35l.5-2.5-.5-.5-1.5.5zm112-1.5l1.5-1-1.5-1-.5 1zm-206-18.5l1-.5-1-.5-.5.5zm187.5-14.5l4-4-4-3.5-5.5 3.5zm-131-15l9.5-7-9.5-5.5-8 5.5zm543-23.5l1-1.5-1-.5-2.5.5zm-562-16.5l2.5-3-2.5-2-2.5 2zm243.5 5.5l9-8.5-9-6.5-6.5 6.5zm-206-37.5l6.5-7-6.5-5-6 5zm168.5-1l7-6-7-8.5-7.5 8.5zm93.5-4l1.5-2-1.5-.5-2.5.5zm168.5-1l1.5-1-1.5-1 0 1zm-486.5-16l3.5-3-3.5-4.5-5.5 4.5zm-19-29l10-10-10-7.5-8.5 7.5zm412-5l1.5-5-1.5-8-1.5 8zm93.5-3l3.5-2-3.5-2-2.5 2zm-486.5-20l18.5 15.5 10-15.5-10-9.5-12.5-8.5-6-4-6.5 4 6.5 18zm355.5-36l.5 0-.5 0z"/><path id="a40" d="M266 1667l1.5-1-1.5-.5-1 .5zm318.5-16.5l3.5-2.5-3.5-4.5-3.5 4.5zm-206-55.5l.5-1-.5-1-.5 1zm224.5-15.5l2-3.5-2-3.5-3.5 3.5zm-37.5-57l.5-.5-.5 0zm112.5 0l1-.5-1-.5-.5.5zm224.5-.5l.5 0-.5 0zm-486.5-52l1-2-1-1.5-2.5 1.5zm337-28l5.5-10-5.5-8-7 8zm-300-38l8.5-8-8.5-6.5-4.5 6.5zm75-24l2-2-2-1-1.5 1zm225-50l4.5-6-4.5-4.5-5.5 4.5zm149.5-21.5l1.5-2.5-1.5-1-1.5 1zm-580.5-37l2.5-1.5-2.5-6-1.5 6zm-112-16.5l2-3-2-2-3 2zm131 3.5l8.5-6.5-8.5-8-11.5 8zm131-75.5l3-3-3-2.5-4 2.5zm-131-15.5l7.5-5.5-7.5-4.5-6.5 4.5zm543-23.5l-.5 0zm-562-17l1-1-1-.5-1 .5zm243.5 5.5l7-6.5-7-5-5 5zm-206-37l5-5.5-5-4-4.5 4zm168.5-1.5l4.5-4-4.5-5.5-5 5.5zm-224.5-20l2-2-2-2.5-3 2.5zm-19-31l7-7-7-5-6 5zm412-5l1-2-1-3.5-.5 3.5zm93.5-1.5l1-.5-1-.5-.5.5zm-468-6l8-12.5-8-8-15 8zm-18.5-21l3-9.5-3-2-3.5 2z"/><path id="a41" d="M584.5 1649.5l1.5-1.5-1.5-2-2 2zm18.5-72l.5-1.5-.5-1-1 1zm150-137.5l5-8-5-7-6 7zm-300-38l6-6-6-4.5-3 4.5zm300-74l3-4-3-3-3.5 3zm149.5-21.5l0-.5zm-580.5-36l.5-.5-.5-1 0 1zm-112-17.5l1-1-1-1-1.5 1zm131 4l6.5-5-6.5-6-9 6zm131-75l2-2-2-1.5-2.5 1.5zm-131-16l5.5-4-5.5-3.5-5 3.5zm224.5-35.5l4.5-4.5-4.5-3-3.5 3zm-206-36.5l3.5-4-3.5-3-3 3zm168.5-1.5l2.5-2.5-2.5-3-3 3zm-224.5-20l.5-.5-.5-.5-1 .5zm-19-32l4.5-4.5-4.5-3-3.5 3zm37.5-13l6.5-9.5-6.5-6-11.5 6zm-18.5-26l.5-1.5-.5-.5-.5.5z"/><path id="a42" d="M753 1438.5l4-6.5-4-5.5-4.5 5.5zm-300-39l4-3.5-4-3-2 3zm300-73.5l1.5-2-1.5-1.5-2 1.5zm-412-70.5l4-3.5-4-4-6 4zm131-74.5l.5-1-.5-.5-1 .5zm-131-16l3.5-3-3.5-2-3 2zm224.5-36.5l2.5-2.5-2.5-1.5-2 1.5zm-206-36l2-2.5-2-1.5-2 1.5zm168.5-2l.5-.5-.5-.5-.5.5zm-243.5-53l1.5-1.5-1.5-1-1 1zm37.5-12.5l4.5-7-4.5-4-8 4z"/><path id="a43" d="M753 1437l3-5-3-4-3.5 4zm-300-39.5l1.5-1.5-1.5-1-.5 1zm-112-143.5l2-2-2-2-3.5 2zm0-90.5l1.5-1.5-1.5-1-1.5 1zm224.5-37l.5-.5-.5 0zm-206-36l.5-.5-.5-.5-.5.5zm-37.5-68.5l2.5-4-2.5-2.5-4.5 2.5z"/><path id="a44" d="M753 1435.5l2-3.5-2-2.5-2.5 2.5zm-412-183l0-.5-.5 0zm-19-233.5l1-1-1-.5-1 .5z"/><path id="a45" d="M753 1434l1-2-1-1.5-1.5 1.5z"/><path id="a46" d="M753 1432.5l0-.5-.5 0z"/><path id="b27" d="M191 1684l19 0 18.5 0 19 0 18.5 0-18.5-11.5-6-6.5 4-18 2-1 10 1 8.5 1.5 18.5 8 9 8.5-3.5 18 13.5 0 18.5 0 19 0 14.5 0 4-7 19 2 4.5 5 14 0 19 0 17 0-17-9-19-1-9-8 9-7 19-5.5 18.5-1 18.5-1 19-1 2.5-2.5 16-5.5 5 5.5 14 12 15 6-15 9.5-19 1-18.5-.5-19 0-17 8 17 0 19 0 18.5 0 19 0 18.5 0 19 0 18.5 0 19 0 18.5 0 18.5 0 19 0 18.5 0 13 0 6 0 .5 0 18 0 19 0 18.5 0 19 0 17.5 0 1-1.5 16.5 1.5 2 0 3 0 10-18 6-1 .5 1 1.5 18 16.5 0 19 0 18.5 0 18 0-18-3.5-18.5-9-6.5-5.5 6.5-8 17-10 1.5-.5 4 .5 15 5.5 8-5.5-8-3.5-6-14.5 6-14.5 18.5 4.5 12 10 6.5 10 0-10 0-18 0-18 0-18 0-18 0-18 0-12.5-18.5 4-18.5-5.5-17-4 17-3.5 14-14.5-14-10.5-19-7.5 19-5.5 18.5-.5 18.5-8 0-4 0-18 0-18 0-18 0-18 0-18 0-18 0-12-2-6-16.5-11.5-14-6.5-3.5-18-1-14-.5-4-3-18-11.5-18-4-15.5-3.5-2.5 3.5-17 .5-1 18.5-9 5.5 9 13 14.5 3 3.5.5 18-3.5 1-17 17-.5 18 17.5 3.5 18.5 12 0-15.5 0-18 0-18 0-18 0-18 0-18 0-18 0-18 0-18 0-18 0-18 0-11.5-10 11.5-2 18-6.5 4-1.5-4-17-16.5-9-1.5 9-4.5 6.5-13.5-6.5-6-13-12 4.5-18 8-18 .5-.5 10.5-17.5 8-17.5 18.5 11 0-11.5 0-18 0-18-18.5 0-18.5 0-19 0-18.5 0-19 0-18 0-.5 1.5-19 4-8.5-5.5-10 0-18.5 0-19 0-18.5 0-12 0 4.5 18 7.5 15.5.5 2.5 2.5 18-3 5.5-5.5 12.5 5.5 17.5 18.5 0 19-10 12.5-7.5-12.5-8.5-8-9.5 8-9.5 18.5 8.5 18.5-1 5 2 14 8.5 18.5 8.5.5 1-.5.5-18.5 6-16 11.5-.5 18 16.5 12 18.5-3 13 9 6 10 13.5 8 5 5 4 13 15 9 14 9-13 18 6.5 18-7.5 15.5-19-9-1.5-6.5 1.5-.5 17.5-17.5-17.5-13.5-14.5-4.5-4-4-8-14-11-11.5-8-6.5-10.5-9.5-19 9-2 .5-6.5 18-10 14.5-18.5-14-2-.5-17-10.5-18.5-2-12.5-5.5-6.5-5.5-7 5.5-11.5 5.5-7-5.5-4-18 6-18 5-6 9.5-12-3.5-18-6-16-2-2 2-6.5 3.5-11.5-2.5-18-1-1.5-.5 1.5-9.5 18-9 2.5-2-2.5-16.5-14.5-2-3.5-14.5-18-2.5 0-18.5 0-18.5 0-19 0-18.5 0-19 0-18.5 0-19 0-18.5 0-19 0-18.5 0-18.5 0-19 0-11.5 0 11.5 9 5.5 9 13.5 14 7 4 11.5 14.5 5.5 3.5 12.5 18 .5.5 19 3 9.5-3.5 9-5 8 5 11 5.5 18.5 3 4.5 9.5 14.5 9 18 9-4.5 18 5 6.5 19 7 11.5-13.5 7-10.5 18.5.5 18.5 10-12 18-6.5 13.5-3.5 4.5-9 18-6 11-2.5 7 2.5 2.5 18.5 7.5 15 8-9.5 18-5.5 6.5-18.5 9.5-18-16-.5-.5-9-17.5-10-7.5-12.5-10.5-6-15.5-1.5-2.5-4.5-18-13-11-18.5-3.5-19 3.5-6-7-12.5-6.5-10.5-11.5-8.5-10-18.5 7.5-18.5-7.5-11-8-4-18-4-7.5-2-10.5-3-18-13.5-12.5-10.5-5.5 8-18-16.5-13.5-3.5-4.5-15 0-19 0-18.5 0-15.5 0 15.5 11 7.5 7 11 8 14 10 5 5 12 13-.5 18 6.5 18 .5 1.5 5.5 16.5 13.5 8.5 6 9.5 4 18 6 18-12 18 14.5 8 16.5-8 2.5-2 18.5-6.5 8.5-9.5 10-4 5.5 4 8.5 18-14 17-18.5-6-6 7-4.5 18-.5 18 11 14 5 4 13.5 11.5 18 6.5 1 1 18.5 4.5 19 7.5 1.5 5-1.5 5.5-19 12-2 .5-13.5 18 15.5 8.5 18 9.5 1 .5 18.5 10 16.5 7.5 2.5 4.5 4.5 13.5-4.5 5.5-19-1-16 13.5 16 3.5 19 7.5 6 7 5 18 7.5 11 7.5 7-7.5 6.5-18.5 6.5-3 5 3 1.5 9.5 16.5 9 18 .5 0-.5.5-18.5 9-4.5 8.5-14.5 8-17-8 17-17 3-1-3-.5-12-17.5 8.5-18 3.5-9.5 12.5-8.5-12.5-6-18.5-4-1.5-8-17.5-17.5-3-.5 3-5.5 7.5-12.5 2.5-18-3.5-18-6.5-7-18.5 0-5 7 5 6 17 12-17 16.5-1.5 1.5-1 18 2.5 2 7.5 16 5 18-12.5 9-12 9-2 18-5 3.5-16.5-3.5 11-18-.5-18-12.5-16.5-2-1.5-8.5-18-8-10-11.5-8 6.5-18-14-13-3.5-5-2.5-18 6-8.5 10-9.5 9-2 18.5.5 18.5-6 14-10.5-14-9-9.5-9-9-9.5-12.5 9.5-6 2-19 3-18.5 2.5-12.5 10.5-6.5 13-18.5-4.5-18 9.5-1 3-1-3-16.5-18-.5-18-.5-1-3 1-16 6.5-12-6.5 12-5.5 8.5-12.5-8.5-12.5-4-5.5-13.5-18 17.5-13 19 11.5 1.5 1.5 17 11.5 7.5-11.5-1.5-18-6-4.5-18.5 0-19-6.5-6-7 6-5 19-11 6-2-6-6-5.5-12 5.5-3 18.5-14 4.5-1 1.5-18-6-5.5-12 5.5-6.5 1-4-1-15-5.5-18.5 0-7 5.5-11.5 11.5-11.5-11.5 1.5-18 3-18-2.5-18 9.5-7.5 14.5-10.5 0-18-13.5-18 17.5-5.5 15.5-12.5-15.5 0-18.5 0-19 0-18.5 0-19 0-18.5 0 0 18 0 1.5 3-1.5 15.5-5 6 5 13 7 10 11-10 6-19 7-9 5 5 18 4 17 0 1 0 .5-.5-.5-18-4.5 0 4.5 0 18 0 18 0 18 0 18 0 2 13.5-2 5-1.5 1 1.5 0 18-1 1.5-18.5 13 0 3.5 0 18 0 18 0 18 0 11.5 18.5 2.5 14.5 4 4.5 1 18.5 16 2.5 1 16.5 17 2 1 16.5 9.5 11.5 8.5 7 8.5 3.5 9.5-1 18 16.5 5.5 12-5.5 6.5-6.5 4 6.5 15 11.5 2 6.5 9 18 7 18 .5 12.5.5 5.5-.5 1-5 17 5 6 19 11 1 1 17 18 .5.5 1-.5 18-4 17 4 1.5 2.5 3 15.5 3.5 18-6.5 7.5-18.5 1-12.5-8.5-6.5-6.5-18.5 3-5.5-14.5-13.5-12.5-9.5-5.5-9-15-4.5-3-12.5-18-2-6-18.5-9-19 1-17 14-1.5 3.5-1-3.5-17.5-13-4-5-15-16-5-2 5-2 19-8.5 18.5 6 18.5-3 14.5-10.5-8-18-6.5-16-.5-2-18-15-6-3-12.5-4.5-11.5 4.5 7 18-14.5 11-14.5-11 5.5-18-9.5-16.5-.5-1.5-10.5-18-8-7.5-3 7.5-15.5 11.5 0 6.5 0 18 0 18 0 4.5 18.5-4 10 17.5-10 10-11.5 8-7 9 0 9 0 18 0 18 0 18 0 18 0 18 0 9.5 5.5 8.5 13 16 1.5 2 6.5 18 11 16 3 2-3 6.5-17.5 11.5 9.5 18-11 13.5-12.5-13.5 10.5-18-9.5-18-7-10.5 0 10.5 0 18 0 18 0 18 0 18 0 18 0 8 8 10 7.5 18-14 18zm340-18l16-13 8.5-5-8.5-17-1-1 1-.5 15.5-17.5 3-6 4-12-3-18 .5-18-1.5-2-1 2 0 18-17.5 3.5-6-3.5-13-12-9.5-6 9.5-4 19-7 10.5-7-3.5-18 11.5-17.5 19 7.5 5.5-8 13-11 15-7 3.5-1 19-.5 2 1.5 10.5 18 1.5 18-14 10.5-11.5 7.5 3 18 8.5 3.5 10.5 14.5-3 18-7.5 7.5-19-3.5-18.5 3-18.5 10.5-6 .5 6 1.5 18.5 14.5 3.5 2 15 9.5 16.5-9.5 2.5-2 18.5 1.5 2 .5-2 1.5-10.5 16.5 10.5 15.5 6 2.5-6 17-18.5-2-19-11-9.5-4-9-3.5-13.5 3.5-5 1.5-2-1.5-17-10-7 10-11.5 16zm-352-54l12-8.5 8.5 8.5-8.5 3zm84 0l3-4 14-14 4.5-7 13.5 7 5.5 3.5 9 14.5-9 4-19 4.5-18.5-5.5zm201.5 0l-11.5-17.5 0-.5 19-3.5 18.5-8.5 8 12 1 18-9 5.5-18.5-3zm328.5 0l-3-12.5-18.5 3.5-2.5-9 2.5-11.5 18.5 10 17-16.5 2-2 3.5 2-2 18 13 18-14.5 10.5zm65 0l7-9.5 10.5 9.5-10.5 2.5zm-489.5-18l8.5-18 1.5-1 .5 1 13 18-13.5 16.5zm-54.5-36l8-7 16.5-11-5-18 7.5-5 18.5.5 14-13.5 5-14 16 14-3.5 18-12.5 10.5-19 5-6 2.5 6 4.5 3.5 13.5-3.5 3.5-18.5-2-19 4zm404.5 0l-3-1-19-15-6-2-12.5-4-17-14 17-14 18.5 9.5 5.5 4.5 13.5 12 18.5 2 5.5 4-1.5 18-4 16zm-257.5-18l1.5-18 9.5-13 18.5 9 3.5 4 6 18-9.5 6-18.5 4.5zm-243-36l4.5-18-12.5-14.5-3-3.5-2.5-18 5.5-7 18.5-.5 11.5 7.5 3.5 18-9.5 18 3 18-8.5 6zm226 0l9-7.5 9.5 7.5-9.5 5zm214-36l-11.5-18 12.5-9.5 12 9.5-11 18-1 2zm53 0l4.5-5.5 18.5-6 7.5-6.5-7.5-12.5-5-5.5 1.5-18 3.5-1 14.5-17 4.5-14.5 4 14.5 2 18 12.5 18 1 0 17.5 18-18.5 12-6.5 6-12 4.5-19 4-18.5-5zm-431.5-18l-7-18 12-7.5 19 5.5 9 2 3 18-12 6.5-19-3zm532 0l16-11.5 11.5 11.5-11.5 18zm-218-18l4.5-18 5-2 2.5 2 14.5 18-17 7.5zm-409-18l6.5-8 7 8-7 11zm497-18l-3.5-4-2-14 2-4.5 18.5-7 19 9.5 18.5.5 3.5 1.5-3.5.5-16 17.5-2.5 6.5-19 1zm119 0l-10.5-6-4-12-13-18-1.5-4-10 4-8.5 5-2.5-5-10.5-18-6-7-10.5-11-3.5-18-4.5-1-17.5-17 17.5-16 18.5 8 5.5 8 13.5 14 18.5 0 4 4 14.5 15.5 17 2.5 2 .5 18.5 11.5 6.5 6-4.5 18 17 17.5.5.5-.5 3.5-10.5 14.5-8.5 6-18.5 1.5zm-225.5-36l9.5-13.5 9.5 13.5-9.5 8zm102.5-36l-18-18 18.5-2 1.5 2 3 18-4.5.5zm-104-36l-3-18-5-13.5-2.5-4.5 2.5-6 19-6.5 18.5 10 1.5 2.5-1.5 9.5-2 8.5-10.5 18-6 7zm66.5 0l-.5-18-8.5-18 5.5-18 4-3.5 9.5 3.5 9 6.5 15-6.5 4-3 4.5-15-4.5-8.5-14-9.5-5-2-14.5-16 3.5-18 3.5-18 7.5-6.5 10 6.5 3 18 6 15 2 3 16.5 10.5 6.5-10.5 9-18 3.5-2.5 2 2.5 6 18 3 18-1.5 18-9.5 5-11 13-8 11.5-10 6.5-8.5 6-19 9.5-6 2.5 6 4 4 14-4 18-18.5-17zm122.5-18l9-6.5 10 6.5-10 10zm36.5 0l10-11 18.5 11-18.5 5.5zm-255-36l3-4.5 5.5 4.5-5.5 2.5zm270.5 0l-5.5-9-8-9 8-5.5 14-12.5-14-15-8.5-3 8.5-9.5 18.5 5.5 4.5 4 10 18 4.5 10 18 8-18 5-3 13-16 15zm-340-18l5-18-7.5-1.5-19-11-8-5.5 8-15.5 19 1 17.5 14.5 1 7 4.5 11 14.5 11.5 8 6.5-8 7.5-19 8.5zm267.5-18l11-7 6.5 7-6.5 7.5zm23.5-18l6-17 13 17-13 5zm-266-18l10-13 14.5 13-14.5 7.5zm-292-90l2.5-.5 3 .5-3 1zm633.5-18l5.5-8 11 8-11 7.5zm-295.5-54l1.5-1 2 1-2 1.5zm48.5 0l9-7 6.5 7-6.5 10.5zm228 0l5.5-4.5 3.5 4.5-3.5 8zm80.5 684l18.5 0 0-18 0-5-18.5-3.5-6.5 8.5-12 18zm18.5-173.5l0-6.5 0-6-5.5 6zm-561.5-359.5l16.5-7-10.5-18-6-9-13.5 9-1.5 18zm374.5-48.5l15-12.5-12-18-3-14-7 14-3.5 18zm37.5 2.5l10-15 6.5-18-16.5-12.5-9.5 12.5-6 18z"/><path id="b26" d="M191 1684l19 0 18.5 0 19 0 16 0-16-10-7.5-8 3.5-18 4-2 18.5 2 .5 0 18 8.5 10.5 9.5-3.5 18 12 0 18.5 0 19 0 12.5 0 6-10 19 2.5 6.5 7.5 12 0 19 0 14 0-14-7.5-19-1.5-11-9 11-8.5 19-6.5 18.5 0 18.5-1.5 14-1.5 5 0 18.5-7 6 7 13 11 17 7-17 11-19 .5-18.5 0-19 0-13.5 6.5 13.5 0 19 0 18.5 0 19 0 18.5 0 19 0 18.5 0 19 0 18.5 0 18.5 0 19 0 8.5 0-8.5-1-19-10.5-15.5-6.5-3-1-4.5 1-14 4-5.5-4-13.5-8-5.5 8-13 18-17.5-18 17.5-14.5 6-3.5-6-12-4.5-6 4.5-3 13.5-15 5-11 2-7-2-11.5-18.5-2-7.5-4.5-11.5-10.5-11.5-7.5 11.5-5 19-7 9-6-3-18 10.5-18 2-3.5 4.5 3.5 14.5 6 4-6 14.5-12.5 12-5.5 6.5-2.5 19 0 4.5 2.5 9.5 18 3.5 18-17.5 13-7.5 5 7.5 15 1 3 13 18-5 18-9 9-19-4-18.5 3-18 10 18 15 5.5 3 13 8 14-8 5-4.5 18.5 3.5 3.5 1-3.5 2.5-10 15.5 10 14.5 8 3.5 11 15 7 3 11.5 0 19 0 18.5 0 19 0 14.5 0 4-6 15.5-12 3-7 19 1 4 6 3 18 11.5 0 19 0 18.5 0 9 0-9-1.5-18.5-9-8.5-7.5 8.5-10.5 12-7.5 6.5-1.5 14 1.5 5 2 2.5-2-2.5-1-7-17 7-17 18.5 5 14 12 4.5 7 0-7 0-18 0-18 0-18 0-18 0-18 0-11.5-18.5 3.5-18.5-5-19-3-.5-2 .5-2.5 19-2 12.5-13.5-12.5-9.5-19-4.5-11-4 11-2 19-4 18.5-2 18.5-9.5 0-.5 0-18 0-18 0-18 0-18 0-18 0-18 0-8-3-10-15.5-10.5-16-7.5-2.5-15-.5-3-1-18-4-18-11-18-2.5-10.5-11-7.5-7.5-7-1.5 7-17.5 16.5-14-16.5-4.5-7-9.5-11 9.5-7 12.5-11-12.5-13.5-12.5-4.5 12.5-14 18.5 8 6.5 6 12.5 18 5.5 0 13 1.5 19 3 9 13.5 9.5 11 5.5 7 1.5 18-7 2-16 16 4.5 18 11.5 2.5 18.5 11.5 0-14 0-18 0-18 0-18 0-18 0-18 0-18 0-18 0-18 0-18 0-18 0-8-7 8 .5 18-12 7.5-3.5 10.5-13 18 6.5 18-8.5 17-19 0-3.5-17 3.5-2 16.5-16-16.5-12.5-17.5-5.5-1-1-10-17-9-9.5-10.5-8.5-8-7-16 7-3 2.5-6.5 15.5-12 17-18.5-15.5-4-1.5-15-9-18.5-2.5-15-6.5-4-3-4 3-14.5 7-8.5-7-4-18 6-18 6.5-7.5 8.5-10.5-3.5-18-5-13.5-4.5-4.5 4.5-15 1-3-1-6.5-3 6.5-16 4.5-3.5-4.5-15-13-3-5-15.5-18-.5 0-18.5 0-18.5 0-19 0-18.5 0-19 0-18.5 0-19 0-18.5 0-19 0-18.5 0-18.5 0-19 0-9 0 9 7 6.5 11 12.5 12.5 8.5 5.5 10 12.5 9 5.5 9.5 14.5 10 3.5 9 1.5 3.5-1.5 15-8.5 13 8.5 6 3 18.5.5 7 14.5 12 7.5 18.5 9 1 1.5-1 6-3 12 3 4 19 8.5 10.5-12.5 8-12.5 18.5 1.5 19 10.5 1.5.5-1.5 1.5-11 16.5-8 16-1 2-8.5 18-9 17-.5 1 .5.5 18.5 8.5 17.5 9-8.5 18-9 10.5-13.5 7.5-5 2.5-2-2.5-16.5-15.5-3-2.5-8.5-18-7.5-5.5-14.5-12.5-4-10-5.5-8-2-18-11.5-10-18.5-2.5-19 6.5-10-12-8.5-4-12.5-14-6.5-7.5-18.5 6-18.5-6.5-14-10-4.5-18-.5-.5-3-17.5-7-18-8.5-8-19-10-5 18-1 18 6 15.5 3 2.5 6.5 18 9.5 6 8 12 3.5 18 6 18-7 18 8 4.5 9.5-4.5 9.5-8 18.5-5 4.5-5 14-5.5 7.5 5.5 8 18-12.5 18 16 3 18.5 15 0 1 7 17 12 9.5 10 8.5-10 9.5-19 8-7.5.5 7.5 2 19 8.5 2.5 7.5-2.5 8-15.5 10-3.5 3-12.5 15 12.5 7 19 10 2 1 16.5 9 19 9 6.5 18-6.5 7.5-19 1-11.5 9.5 11.5 2.5 19 6.5 7.5 9 6 18 5 7.5 11 10.5-11 9.5-16 8.5 8.5 18 7.5 15 5 3-5 4-18.5 8.5-3 5.5-16 9-18.5-9 17-18-11.5-18 8.5-18 4.5-13 7.5-5-7.5-3.5-18.5 3.5-3-18-16-16-10 16 5.5 18-14 10.5-10.5 7.5-2 18-6.5 5-14 13 6 18 8 7 14 11 5 2.5 18.5 9.5 4.5 6 9 18-13.5 8.5-18.5 3-12-11.5 1-18-8-11-13-7-5.5-6-18.5-2-14.5-10-4.5-4.5-18.5 4.5 18.5 15 1.5 3-1.5 4-3.5 14-15 12.5-17 5.5 3 18-5 5-18.5-2-19 3.5-9.5-6.5 9.5-8 14.5-10-5-18 9.5-6.5 18.5.5 12.5-12 6.5-18-6.5-18-12.5-11.5-11.5-6.5-7-11.5-10-6.5-9-15 0-3-18.5-14-19 2.5-14.5 11.5 14.5 9 19 6 12.5 3 .5 18-13 7-19-2-6.5-5-8.5-18-3.5-8.5-3-9.5-15.5-11.5-5-6.5-14-15-8.5-3 8.5-4 19-7.5 18.5 4.5 18.5-3.5 10-7.5-7-18-3-7.5-4.5-10.5-14-11.5-13-6.5-5.5-2-5.5 2 2.5 18-16 12-16.5-12 .5-18-2.5-4.5-4-13.5-10-18-5-4.5-2 4.5-16.5 12 0 6 0 18 0 17.5 18.5-6.5 7 7 4.5 18-11.5 11.5-9.5 6.5-9 11 0 7 0 18 0 18 0 18 0 18 0 18 0 4 9 14 9.5 12 5 6 4 18 10 14.5 5 3.5-5 11.5-10.5 6.5 5.5 18-14 17-10 1 10 3 14.5 15-14.5 5-18.5-3 0 16 0 5.5 9.5 12.5 7.5 18-12.5 18zm181-54l6.5-12.5 3.5 12.5-3.5 10.5zm-110.5-18l4.5-6 12-12 6.5-10 18.5 10 .5.5 11 17.5-11 5-19 4.5-18.5-5.5zm200.5 0l-9-13.5-1-4.5 1-2.5 19-5 18.5-6 9 13.5 2.5 18-11.5 7-18.5-4zm329.5 0l-1.5-5.5-18.5 0-3.5-12.5 3.5-17 18.5 13.5 15-14.5 4-5 7.5 5-5 18 13.5 18-16 11.5zm62.5 0l11-15 16.5 15-16.5 3.5zm-486-18l7-18 3.5-3 2 3 12 18-14 17.5zm358.5-18l-11-11.5-1-6.5-18-15-9-3-9.5-3-18.5-15 18.5-15.5 18.5 10 6.5 5.5 12.5 11 18.5 2 6.5 5-.5 18-3 18-3 7zm135.5-18l3-1.5.5 1.5-.5 1.5zm-16-18l.5 0 0 1zm-19-18l.5-.5.5.5-.5 1.5zm-610.5-18l4-18-10.5-12-4.5-6-2-18 6.5-9 18.5.5 13 8.5 3.5 18-9.5 18 2.5 18-9.5 6.5zm440-36l-11.5-18 14-10.5 13.5 10.5-11.5 18-2 4zm53 0l6-7 18.5-5.5 6-5.5-6-10-8-8 1-18 7-2 13.5-16 5.5-17.5 5 17.5 2 18 11.5 16.5 18.5-.5 3 2 9 18-12 5.5-18.5 8.5-4.5 4-14 5.5-19 4-18.5-5zm97.5 0l2-5 1-13 17.5-12.5 12.5 12.5-9.5 18-3 4-18.5-3.5zm-214.5-36l1.5-18 9-3.5 4.5 3.5 14 18 .5 0-.5.5-18.5 8zm-409-18l7.5-9 8 9-8 13zm493.5-18l-2.5-18 3.5-7 18.5-6 19 10 18.5-3.5 11-11.5-6.5-18-4.5-5-13-13-5.5-17-.5-1-18.5-18 19-17.5 18.5 8.5 6.5 9 12.5 13 18.5-1 5.5 6 13 13.5 19 3.5 1.5 1 17 10.5 8 7.5-5 18 16 16 2.5 2-2.5 10.5-5.5 7.5-13.5 9-18.5 2-12.5-11-6.5-3.5-4.5-14.5-14-17.5-18.5 16-2 1.5-17 1.5-15 16.5-3.5 9-19 2-18.5-9zm-103.5-36l11-15.5 11 15.5-11 9zm102-36l-16.5-16-3.5-2-15-14-2-4-.5-18-8-18 4.5-18 6-5.5 15 5.5 3.5 3 6.5-3 12.5-10 2.5-8-2.5-4.5-19-12.5-1-1-16.5-18 5.5-18 3-18 9-7.5 11.5 7.5 3 18 4.5 11.5 5 6.5 13.5 9 5.5-9 8-18 5.5-4 3 4 6 18 3.5 18-.5 18-12 6-10 12-9 13.5-7.5 4.5-11 7.5-17.5 10.5 5 18 12.5 13.5 3.5 4.5 14.5 18-18 2.5zm-72.5-18zm-32.5-18l-1.5-18-3.5-9-5.5-9 5.5-12 19-2 18.5 8.5 3 5.5-3 18 0 .5-10.5 17.5-8 9zm-29.5-18l6-1 2.5 1-2.5.5zm220.5 0l10-7 11 7-11 11zm36.5 0l11-12.5 18.5 4.5 2.5 8-2.5 1.5-18.5 4.5zm-257-36l6-9.5 12.5 9.5-12.5 5zm200-36l12-8 7.5 8-7.5 8.5zm-214-18l-17.5-9-12-9 12-16 18 16 .5 8 1.5 10-1.5 1zm237.5 0l6-18 1-11.5 11.5 11.5 3.5 18-15 6zm-221.5-180l4-2.5 5.5 2.5-5.5 4.5zm50 0l10-8 7.5 8-7.5 12zm309.5 684l18.5 0 0-18-18.5-4-3 4-11 18zm-727-108l.5-18 1-18-4.5-6.5 0 6.5 0 18 0 18 0 14zm745.5-69l0-3 0-3-2.5 3zm-524-58l19-4 18.5 4 12-17-.5-18-11.5-15.5-3-2.5-8.5-18-7-8.5-13.5-9.5 5.5-18-11-10-5.5-8-3-18 8.5-12.5 6-5.5 13-3 18.5.5 18.5-7.5 10.5-8-10.5-6.5-12-11.5-6.5-6.5-8.5 6.5-10 2.5-19 3.5-18.5 3-11 9-8 15.5-18.5-5.5-15 8-4 13-4-13-14.5-17-2-1-17-8-18.5-9-.5-1 .5-3.5 18.5-5.5 6-9-6-9-6.5-9-12-17-1-1 1-1.5 18.5-12.5 19 8 6.5 6 12 8.5 5.5-8.5-2.5-18-3-2.5-18.5-.5-19-6-8-9 8-7 19-10.5 2-.5-2-2-7-16 7-4 18.5-14 0-9 1.5-9-1.5-1-2.5 1-16 2-9.5-2-9.5-3.5-18.5 0-5 3.5-13.5 14-14-14-.5-18 6.5-18-3-18 11-9 12.5-9-1-18-11.5-14.5-1.5-3.5 1.5-7 18.5-.5 13.5-10.5-13.5 0-18.5 0-19 0-18.5 0-19 0-18.5 0 0 15 18.5-4 8.5 7 10.5 5.5 11.5 12.5-11.5 7-19 7.5-6.5 3.5 6.5 17 .5 1 1.5 18-2 7.5-18-7.5-.5 0 0 18 0 18 0 18 0 17 18.5-11 7.5 12-4.5 18-3 3.5-18 14.5-.5 1 0 17 0 18 0 18 0 9.5 18.5 3 19 5 0 .5 18.5 16 4 2 15 15 5.5 3 13 7.5 14.5 10.5 4 5 4.5 13 8.5 18 6 2 4-2 14.5-14 9 14 10 8 3.5 10 9 18 6 15 1 3 1.5 18-2.5 8.5-3 9.5 3 3.5 19 12 2 2.5zm-61.5-143l5.5-.5.5.5-.5 1.5zm-134.5-234l9-2.5 11 2.5-11 3.5zm271 256l18.5 12 5-16-5-5-18.5.5-3 4.5zm-19-105l19 2.5 1-9.5.5-18-1.5 0-19-10.5-10.5-7.5-2.5-18-5.5-1-1 1-7 18 .5 18 7.5 9.5 10 8.5zm-93.5-73.5l13-5.5-8-18-5-7.5-11 7.5-.5 18zm524.5-15.5l15.5-8-15.5-15-17-3 17-8.5 4.5-9.5-4.5-4-15-14 4.5-18 8.5-18 2-1.5 9.5-16.5-3.5-18 12.5-1 3 1 15.5 9 0-9 0-18 0-18-18.5 0-18.5 0-19 0-18.5 0-19 0-16 0-2.5 4.5-19 2.5-10.5-7-8 0-18.5 0-19 0-18.5 0-10.5 0 5.5 18 5 10 1.5 8 3 18-4.5 8-4.5 10 4.5 14 18.5 2.5 19-10 11-6.5-11-7.5-9-10.5 9-10.5 18.5 8.5 18.5-1 8 3 11 7 18.5 7.5 2.5 3.5-2.5 1-18.5 6.5-14.5 10.5 0 18 14.5 10.5 18.5-2 14.5 9.5 4.5 8 17.5 10 1 1 5 17zm-43.5-80l6-9 12.5 9-12.5 8.5zm-20-54l7-5.5 4 5.5-4 9.5zm-86.5 101.5l13.5-11.5-12.5-18-1-3.5-1.5 3.5-8 18zm37.5 2.5l9.5-14 4.5-18-14-10.5-8 10.5-6.5 18zm-430.5-101l18.5-3 14.5-18-14.5-12-5-6-13.5 0-19 0-18.5 0-13 0 13 9 9.5 9 9 7 16 11z"/><path id="b25" d="M191 1684l19 0 18.5 0 19 0 14 0-14-8.5-8.5-9.5 2.5-18 6-3 18.5 1.5 2.5 1.5 16 7.5 11.5 10.5-2.5 18 10 0 18.5 0 19 0 10.5 0 8-13 19 3 6-8 12.5-10 19-7.5 18.5 1.5 14.5-2 4-.5 19-.5 18.5-7 7 8 12 10 18.5 7.5 19-15.5 3.5-2-3.5-6.5-8-11.5 8-5.5 11-12.5 7.5-16 .5-2-.5-2.5-18.5-10.5-9-5-10-9.5-13.5-8.5 13.5-6 19-7.5 7-4.5-2-18 9.5-18 4-7 9.5 7 9.5 4 2.5-4 16-14 9-4 9.5-3.5 19-.5 7 4 8 18 3.5 14.5 19-13 18.5 10 7.5 6.5 11.5 10 18.5 2.5 7 5.5.5 18-.5 18-7 16.5-18.5-16.5 0-.5-2-17.5-17-14-12-4-6.5-2-19-14-18.5 13.5-4 2.5 4 8 4.5 10 13 18-7 18-10.5 10.5-19-5-18.5 3.5-16 9 16 13.5 8 4.5 10.5 6.5 12-6.5 7-6.5 18.5 4.5 5.5 2-5.5 3.5-9 14.5 9 13.5 10.5 4.5 8.5 11.5 13 6.5 5.5 0 19 0 18.5 0 19 0 12 0 6.5-10.5 9.5-7.5 8.5-18 .5 0 2.5 0 16.5 7 7 11 5.5 18 6 0 19 0 18.5 0-18.5-8.5-11-9.5 11-13.5 7.5-4.5 11-3 11-15-11-13.5-15-4.5-3.5-14-.5-4 .5-2 18.5.5 1 1.5 18 17 4.5 1 14 4 16.5 14 2 3.5 0-3.5 0-18 0-18 0-18 0-18 0-18 0-10-18.5 3-18.5-4.5-19-1-2-5.5 2-6.5 19 .5 11.5-12-11.5-9-19-1-18.5-6.5-2-1.5 2-1 18.5-2.5 19-3 18.5-3.5 15.5-8 3-3.5 0-14.5 0-18 0-18 0-18 0-18 0-18 0-4.5-4.5-13.5-14-9.5-18-8.5-.5-3.5-2-14.5-.5-18-5-18-10-18-1.5-5.5-18-12.5-.5-.5-.5.5-18.5 18-15.5-18-3-5-11-13 11-8 11-10-11-12-17-6-2-8-1 8-17.5 7-8-7 5.5-18 2-18-18-15.5-6.5-2.5-12.5-7.5-18.5-3-18-7.5-1-1-1 1-17.5 8-10-8-3.5-18 6-18 7.5-9 7-9-3-18-4-11-6.5-7-12.5-11-5.5-7-13-11.5-3.5-6.5-15.5-17-2.5-1-16 0-18.5 0-19 0-18.5 0-19 0-18.5 0-19 0-18.5 0-19 0-18.5 0-18.5 0-19 0-7 0 7 5.5 7.5 12.5 11.5 11.5 10 6.5 8.5 10.5 12 7.5 6.5 9.5 19 7.5 18.5-10.5 18 11.5 1 .5 7-.5 11.5-1 1 1 8.5 18 9.5 6 18.5 8.5 2 3.5-2 14.5-1 3.5 1 1.5 19 9.5 9.5-11 9-14 18.5 2.5 19 10.5 4.5 1-4.5 3.5-9.5 14.5-9 18-.5 3-6 15-10 18 16 7.5 19 8.5 5-16 3.5-18 10-8.5 13.5 8.5 2.5 18 3 7.5 7.5 10.5 11 7 4.5-7 7.5-18 7-5 4 5 5.5 18 4 18 .5 18-14 7.5-9 10.5-10 15-5 3-13.5 9-15 9 5 18 10 10.5 5.5 7.5 13 16 6.5 2-6.5 10-18.5-5.5-4.5-4.5-14.5-14-7-4-11.5-10.5-3-7.5-1-18-7-18 3-18 8-7 18.5 5.5 19-15.5 0-1 0-.5-19-12-7-5.5-11.5-14.5-6.5 14.5-12.5 14.5-6 3.5-12.5 6-5-6-13.5-12.5-6.5-5.5-7.5-18-5-3.5-17-14.5-1.5-4.5-9.5-13.5.5-18-10-9-18.5-1.5-19 9.5-14.5-17-4-2-14-16-5-5.5-18.5 5.5-18.5-6-17-12-2-8-3.5-10-.5-18-10.5-18-4-3.5-19-8.5-3.5 12-1.5 18 5 13 6 5 7.5 18 5.5 3.5 9.5 14.5 4 18 5 17.5 2 .5 17 3.5 18.5-3 .5-.5 18-7 10 7 7 18-9 18 11 2 18.5 11.5 5-13.5 12-18 2-.5 1.5.5 17 14 9.5 4-3 18-6.5 3-4-3-14.5-7-16 7 6 18 10 7.5 12 10.5-12 11.5-17 6.5 17 8 3 10-3 10.5-11.5 7.5-7.5 6.5-9.5 11.5 9.5 5.5 19 10 4.5 2.5 14 7.5 19 8.5 2 2 6.5 18-8.5 9.5-19 2.5-7 6 7 1.5 19 6 9 10.5 6.5 18 3 4.5 14.5 13.5-14.5 12.5-10 5.5 4 18 6 12 9 6-9 8-18.5 7-1.5 3-17.5 9.5-18.5-8-2.5-1.5 2.5-3.5 13.5-14.5-9.5-18 8.5-18 6-16 3-2-3-1-6.5 1-12 1.5-6-1.5 2-18-15-14.5-9 14.5 6 18-15.5 11.5-9 6.5-1.5 18-8.5 6-13 12 9.5 18 3.5 3.5 18 14.5 1 .5 18.5 10 6 7.5 11.5 18-17.5 11-18.5 1-13-12 1-18-7-9-17-9-1.5-1.5-18.5-5.5-15 7-4 12-1.5 6-17 14-12 4 0 18-7 7-18.5-3-19 3.5-11-7.5 11-9.5 12.5-8.5-5-18 11.5-8 18.5.5 11-10.5 6.5-18-6.5-18-11-10-14-8-4.5-7.5-15-10.5-4-6-1.5-12-17-13-19 3.5-12 9.5 12 7.5 19 6.5 16 4-1.5 18-14.5 7.5-19-1.5-8-6-9.5-18-1-2.5-5-15.5-13.5-10-6.5-8-12.5-14-12-4 12-5.5 19-6.5 18.5 2.5 18.5-4 6-4.5-6-16.5 0-1.5-8.5-18-10-8.5-18.5-6-1.5 14.5-17.5 13.5-18-13.5-.5-7-3.5 7-3 18-12.5 13-7.5 5-11 13.5 0 4.5 0 18 0 18 0 18 0 18 0 17.5.5.5 12 18 6 7.5 8 10.5 2 18 9 13 7 5-7 16-3 2 .5 18 2.5 12.5 1.5 5.5-1 18 1.5 18-2 2.5-2-2.5-17-11-18.5 1 0 10 0 3.5 11.5 14.5 7 18-11.5 18zm166-36l2.5-1 6.5-17 11-18-9.5-18 5.5-18 5.5-4.5 3 4.5 12 18-10.5 18 2.5 18-6.5 18-.5 1.5-19-.5zm-97-36l6-7.5 10.5-10.5 8-13 19 11.5 5 1.5 8 18-13 5.5-19 5.5-18.5-5.5zm199 0l-6-9-2-9 2-5.5 19-6 18.5-3.5 10 15 3.5 18-13.5 8-18.5-4zm68 0l1 0 1 0-1 1zm257 0l-12.5-1.5-4.5-16.5 0-18 4.5-1 2.5 1 16 12 12.5-12 6.5-7.5 11.5 7.5-8 18 14 18-17.5 13-19-12.5zm71-54l10-5 2 5-2 5zm-12.5-18l4-1 4 1-4 8.5zm-17-18l2-2.5 2 2.5-2 4.5zm-610.5-18l3.5-18-8.5-10-6-8-2-18 8-11 18.5 1.5 14.5 9.5 3.5 18-9 18 1.5 18-10.5 7.5zm440-36l-11.5-18 15.5-12 14.5 12-11.5 18-3 6.5zm53 0l7.5-8.5 18.5-5.5 4.5-4-4.5-7.5-10.5-10.5.5-18 10-3 12.5-15-12.5-15.5-14 15.5-4.5 11.5-19 2.5-18.5-8-3-6-1.5-18 4.5-10 18.5-4.5 19 10.5 18.5-8 6-6-3.5-18-2.5-3-15-15-3.5-11-3-7-16-15.5-4-2.5 4-2.5 17.5-15.5 1.5-.5 1 .5 17.5 7.5 7.5 10.5 11.5 12 18.5-2 7.5 8 11 11.5 19 4 4 2.5 14.5 9.5 9.5 8.5-5 18 14.5 15 4 3-4 17-1 1-18 12.5-18.5 2-16.5-14.5-2.5-1-5.5-17-13-16.5-18 16.5 5.5 18 2.5 18 10 15 18.5-1.5 7 4.5 12 16 18.5-12 13.5 14-7.5 18-6 8-18.5-6-9.5-2-9.5-7-18.5 5.5-2 1.5-16.5 6.5-19 3.5-18.5-4.5zm-116.5-36l-2-18 13.5-5 6.5 5 12 15.5 2 2.5-2 3-18.5 6zm-409-18l8.5-10 9 10-9 14.5zm389.5-54l12.5-17 12.5 17-12.5 10.5zm26.5-54l4.5-3 7 3-7 5.5zm-31-18l0-18-2-4.5-8-13.5-10.5-10-9.5-8 9.5-14.5 18.5 14.5 1 0 18 2 18.5 7.5 4.5 8.5-3 18-1.5 3.5-9 14.5-9.5 11zm-40.5-18l1 0 19-4.5 10.5 4.5-10.5 2-19-1.5zm233.5 0l11-8 12 8-12 12.5zm36.5 0l12-14 18.5-3 5 17-5 3-18.5 3.5zm-57.5-72l13.5-9 8 9-8 9.5zm-308.5-90l3.5-15.5 1.5 15.5-1.5 16.5zm109.5-108l6.5-4.5 9 4.5-9 8zm51.5 0l11-9 8.5 9-8.5 13.5zm-195 684l19 0 10.5 0-10.5-6-19-1.5-10 7.5zm56 0l19 0 18.5 0 19 0 18.5 0 15 0-15-16.5-18.5 10.5-19 .5-18.5 1-19-.5-10.5 5zm112.5 0l19 0 18.5 0 18.5 0 17.5 0-17.5-9.5-18.5-6.5-18.5 4.5-8.5-6.5-10.5-6-4 6-12.5 18zm337 0l18.5 0 0-12.5-18.5-4.5-10 17zm-729.5-108l-.5-2.5 0 2.5 0 2zm1.5-36l-2-3 0 3 0 10zm222.5-45.5l2.5-8.5-2.5-2.5-10.5 2.5zm0-46.5l19-4.5 18.5 4 11-15.5-.5-18-10.5-14.5-4.5-3.5-8-18-6-7.5-15-10.5 3.5-18-7.5-7-7.5-11-3.5-18 11-16 2.5-2 16.5-4 18.5 0 18.5-9 7-5-7-4.5-14.5-13.5-4-4-5 4-13.5 3.5-19 3-18.5 3.5-9.5 8-8.5 18-1 .5-.5-.5-18-6-11.5 6 11.5 14 3.5 4-3.5 9-5.5 9 5.5 4.5 4.5 13.5 9.5 18 4.5 11 2.5 7 2 18-4.5 16.5-.5 1.5.5.5 19 14 3 3.5zm75-122.5l18.5 9 3-10.5-3-3.5-18.5 1.5-1.5 2zm-281-17l5.5-2.5 6.5-18-10.5-18-1.5-1.5-.5 1.5-18 13 0 5 0 18 0 11.5zm112.5 15l18-17.5-6.5-18-11.5-13-10-5-9-4-18.5-8-2.5-6 2-18 .5-1.5 3.5 1.5 15 5.5 4-5.5-4-5.5-9-12.5-9.5-13-4-5 4-7.5 18.5-7.5 19 5 11 10 7.5 5.5 3.5-5.5-3.5-18-18.5-2-19-4.5-10.5-11.5 10.5-9 17-9-7-18 9-5 17-13-17-15-15-3-4-1.5-18.5 0-2.5 1.5 2.5 9 1.5 9-1.5 3.5-12-3.5-6.5-1.5-16.5-16.5-2.5-16-18.5 4-15.5-6 15.5-4.5 18.5 4.5 10-18-3.5-18 12.5-10 11-8-2.5-18-8.5-10.5-3.5-7.5 3.5-16 18.5 6.5 11-8.5-11 0-18.5 0-19 0-18.5 0-19 0-18.5 0 0 8.5 18.5 0 11.5 9.5 7.5 4 13 14-13 8-19 7.5-4.5 2.5 4.5 11.5 2.5 6.5 1.5 18-4 14.5-18.5-8 0 11.5 0 18 0 18 0 14.5 17.5-14.5 1-1.5 1.5 1.5 12.5 18-9 18-5 5.5-15.5 12.5-3 4 0 14 0 18 0 18 0 7.5 18.5 3 19 5.5 1.5 2 17 15 6 3 13 13.5 9.5 4.5 9 5.5 17.5 12.5 1 1.5 6 16.5zm599-34.5l18.5 11.5 0-12.5 0-18 0-18 0-18 0-18 0-18 0-18 0-18 0-18 0-18 0-18 0-4.5-4 4.5 3 18-17.5 11-2 7-13 18 5.5 18-9 18 12 18 6.5 7.5 8 10.5 2.5 18-10.5 3-14.5 15 8.5 18zm-449.5-70l18.5-3-2-18-16.5-9-13.5-9-5-12.5-5 12.5 1 18 4 5.5 15 12.5zm393.5-23.5l13-15.5 5.5-3 15-15-15-12-18.5-4.5-2-1.5-9.5-18-7.5-7.5-13-10.5-5.5-5-11 5-8 6.5-5 11.5-12.5 18 17.5 17.5 19 0 .5.5 18 10.5 8 7.5zm-487-47.5l9.5-4-6-18-3.5-5.5-8 5.5-.5 18zm37.5-3l2.5-1-2.5-14.5-2 14.5zm487-11.5l14-7.5-14-14-12.5 14zm-150-33l12.5-10.5-12.5-17-9 17zm37.5 2.5l8.5-13 3.5-18-12-9-7 9-6.5 18zm75-7.5l18.5 11.5 19-11 2.5-6-2.5-2.5-17-15.5 4.5-18 9-18 3.5-2.5 9-15.5-9-17-2-1 1-18 1 0 18.5 16.5 6.5 1.5 12 7 0-7 0-18 0-18-18.5 0-18.5 0-19 0-18.5 0-19 0-14.5 0-4 8-19 .5-13-8.5-5.5 0-18.5 0-19 0-18.5 0-8.5 0 6 18 2.5 4.5 2 13.5 4 18-6 10-3.5 8 3.5 11 18.5 4.5 19-10 9-5.5-9-6.5-10-11.5 10-12 18.5 8.5 18.5-.5 10.5 4 8.5 5 18.5 6.5 4.5 6.5-4.5 2-18.5 6.5-13 9.5 1 18 12 9 18.5-1.5 16 10.5zm-6.5-41.5l6.5-10 14 10-14 10zm-20.5-54l8-6.5 5 6.5-5 11zm-478.5 1l6.5-1 12-2.5 12.5-15.5-12.5-10-6.5-8-12 0-19 0-18.5 0-10.5 0 10.5 7.5 11 10.5 7.5 5.5 18 12.5z"/><path id="b24" d="M191 1684l19 0 18.5 0 19 0 12 0-12-7.5-10-10.5 2.5-18 7.5-4.5 18.5 1.5 5 3 13.5 6.5 12.5 11.5-1.5 18 8 0 18.5 0 19 0 8.5 0 10-16 19 4 4-6-4-11.5-19 6-18.5-2.5-1-10 1-2.5 18.5-15 .5-.5 15-18-8.5-18 4.5-18 7.5-6.5 4 6.5 12 18-2.5 18-3 18-6.5 18 14.5 6.5 16-6.5 3-6.5 13.5 6.5 5 .5 3.5-.5 15-2.5 19 1 18.5-8 8 9.5 11 9.5 18.5 6 19-15 .5-.5-.5-1.5-12-16.5 12-8.5 8.5-9.5 9-18-17.5-12-10.5-6-8.5-8-16-10 16-6.5 19-8 5-3.5-.5-18 8-18 6-11 14.5 11 4.5 2 1-2 17.5-15 6-3 12.5-4.5 19-1 9 5.5 7.5 18 2 9.5 19-9 18.5 10 8.5 7.5 10.5 9 18.5 2.5 8 6.5 1.5 18 2 18-10.5 18-1 1.5-1-1.5-17.5-17-3.5-1 0-18-15.5-13-15-5-3.5-1-19-12.5-18.5 13.5 0 .5 8 17.5 10.5 15 8 3-8 3-6 15-12.5 12-19-5.5-18.5 3.5-14.5 8 14.5 12 10 6 8.5 5.5 9.5-5.5 9.5-9 18.5 6.5 7.5 2.5-7.5 5-8.5 13 8.5 12 13 6 6 8.5 18.5 9.5 1 0 18 0 18.5 0 19 0 9 0 9.5-15 3.5-3 11-18 4-1 15 1 4 2 10.5 16 7.5 18 .5 0 19 0 14.5 0-14.5-6.5-13-11.5 13-16 2.5-2 16-4 10-14-10-12-18.5-6-19 .5-18.5 13.5-19-12.5-18.5.5-1.5-2-4-18-4-18 9.5-2.5 5.5 2.5 13 10 10.5-10 8.5-10.5 16 10.5-11.5 18 14 18 17.5-18 1.5-9.5 18.5 4 2.5 5.5 16.5 16 12.5 2 6 2 18.5 16 0-18 0-18 0-18 0-18 0-18 0-8.5-18.5 2-18.5-4-19 1.5-3-9 3-11 19 4 10.5-11-10.5-8-19 2-18.5-6-9-6 9-5 18.5-.5 19-2 18.5-4.5 11-6 7.5-7.5 0-10.5 0-18 0-18 0-18 0-18 0-18 0-.5-6-17.5-12.5-8.5-18 8.5-.5.5-1-.5-2.5-18 0-18 0-18-6-18-9-18-.5-1-18.5-12-13.5 13 1.5 18-7 5-18.5 2.5-13.5-7.5 13.5-15.5 12-2.5-10-18-2-3-12.5-15 12.5-9.5 10-8.5-10-10.5-19-7-18.5 7.5-9-8 5-18 2-18-16.5-14.5-8.5-3.5-10.5-6.5-18.5-2.5-19-8-18.5 8.5-11.5-9.5-3-18 5.5-18 9-10.5 6-7.5-3-18-3-8.5-9-9.5-10-9-7-9-11.5-10-4.5-8-14.5-16-5-2-13.5 0-18.5 0-19 0-18.5 0-19 0-18.5 0-19 0-18.5 0-19 0-18.5 0-18.5 0-19 0-5 0 5 4 8.5 14 10.5 10.5 12 7.5 6.5 8 15.5 10 3 5 19 9.5 18.5-11.5 19 11.5 18.5 0 3.5 3.5 8.5 18 7 4.5 18.5 8 3 5.5-2 18 18 10 8.5-10 10-15.5 18.5 3 19 10.5 7.5 2-7.5 5.5-8 12.5-9 18-2 10.5-3 7.5-10 18 13 6 19 6 4-12 3-18 11.5-9.5 15 9.5 2.5 18 1.5 4 10.5 14 8 5.5 3.5-5.5 6.5-18 9-6.5 5 6.5 5.5 18 4.5 18 1.5 18-16.5 8.5-8 9.5-11 16.5-2.5 1.5-16 10.5-12.5 7.5 5.5 18 7 8 7.5 10 11 13.5 13 4.5 6 12.5 1.5-12.5-1.5-5-5.5-13-13.5-13-8-5 8-5 14.5-13 4.5-2 4 2 14.5 6.5 8 11.5 11 11.5 18.5-3.5 9.5 10 9 9.5 19 4.5 6 4 12.5 8 11 10-5 18 13 13.5 6 4.5-4 18-2 12.5-19 3.5-18.5 2-19-16.5-.5-1.5-6-18-12-15.5-16.5 15.5 5 18 2.5 18 9 13.5 18.5-2.5 11 7 8 11 18.5-8 15 15-6 18-9 12-18.5-8.5-17-3.5-2-1-10 1-8.5.5-18.5 7-19 3.5-18.5-4.5-9-6.5 9-10.5 18.5-5 3-2.5-3-5-13-13-.5-18 13.5-4.5 11.5-13.5-11.5-14-13 14-5.5 14-19 3.5-18.5-7-4.5-10.5-1.5-18 6-12.5 18.5-3 19 10.5 18.5-12.5.5-.5 0-18-.5-.5-9.5.5-9 .5-19 1.5-.5-2-18-12-6.5-6-12.5-12.5-10.5-5.5-8-7-4.5-11-.5-18-7-18 2-18 10-9 18.5 1.5 12.5-10.5-12.5-8-13-10-5.5-7-3.5 7-15 18-.5.5-18.5 9-8.5-9.5-10-9.5-9.5-8.5-7-18-2.5-1.5-18.5-14-7.5 15.5-11.5 5.5-7-5.5-11.5-5.5-12.5 5.5 5 18 7.5 6 14 12-14 13.5-12 4.5 12 5.5 4 12.5-4 13.5-7.5 4.5-11.5 10-6.5 8 6.5 3.5 19 10.5 7 4 11.5 6.5 19 8 4 3.5 6.5 18-10.5 12-19 4-2.5 2 2.5.5 19 5 10.5 12.5 7.5 18 .5 1 18 17-18 16-4.5 2 0 18 4.5 9 13.5 9-13.5 11.5-18.5 6.5-19 10.5-18.5-7.5-5-3 5-7 10-11-7-18 8.5-18-11.5-15-11.5-3 6-18-13.5-13-8 13 6.5 18-17 12.5-7.5 5.5-1.5 18-10 7-11.5 11 11.5 18 .5 0 18.5 16.5 2.5 1.5 16 9 7 9 12 17 1 1-1 6-19 7.5-18.5-.5-14-13 .5-18-5.5-7-18.5-10-2.5-1-16-5.5-12 5.5-6.5 18-.5.5-18.5 15.5-6.5 2-4 18-8.5 8.5-18.5-3-19 3-12.5-8.5 12.5-10.5 10.5-7.5-5-18 13.5-9.5 18.5 1 10-9.5 6.5-18-7-18-9.5-9-16-9-2.5-4-19-12-3 16-15.5 8.5-19-1.5-9.5-7-9-16-1-2-5.5-18-12-8.5-7.5-9.5-11.5-12.5-15.5-5.5 15.5-7 19-6 18.5 1 18.5-4.5 2-1.5-2-4.5-3-13.5-9.5-18-6-5-15.5 5-3 1.5-19 13-18.5-12-5 15.5-14 14-6 4 6 17 3 1-3 .5-2.5-.5-16-2.5 0 2.5 0 18 0 18 0 18 0 18 0 16 3 2 13 18 2.5 3.5 11 14.5 0 18 8 11.5 9.5 6.5-8.5 18-1 18 5.5 18-2.5 18 2.5 18-5.5 5.5-5.5-5.5-13.5-9-18.5 5.5 0 3.5 0 1.5 13 16.5 5.5 14.5 2.5 3.5-2.5 4-9 14zm68-72l7-9.5 8.5-8.5 10-16 19 12.5 11 3.5 4 18-15 6.5-19 5.5-18.5-5.5zm197.5 0l-3.5-5-2.5-13 2.5-8 19-7.5 18.5-1 11 16.5 4.5 18-15.5 9.5-18.5-5zm63.5 0l8-1 5 1-5 7zm328-54l-1.5-1.5-7.5-16.5 7.5-2.5 8 2.5 10.5 9.5 3.5 8.5-3.5 8zm-24-36l3.5-4.5 3 4.5-3 7.5zm-610.5-18l3-18-6.5-7.5-8-10.5-1.5-18 9.5-13 18.5 2.5 16 10.5 3 13.5 4 4.5-4 2-8.5 16 1.5 18-12 8.5zm440-36l-12-18 17.5-13 16 13-11.5 18-4.5 8.5zm41.5-18l1.5-1 1 1-1 .5zm167 0l3-2.5 2 2.5-2 2zm37.5 0l3-3.5 5.5 3.5-5.5 5zm-309-18l-5-18 17.5-7 8.5 7 10 13 3.5 5-3.5 5.5-18.5 4.5zm-409-18l9.5-11 10 11-10 16zm389-54l11.5-18 2.5-7 5.5 7 8.5 18-14 11.5zm24-54l-10-4.5-19-13-.5-.5.5-15.5 0-2.5-.5 0-18 4-19-2.5-7.5-1.5 7.5-1 19-7.5 7.5-9.5-7.5-7.5-12.5-10.5 9.5-18 3-1 2 1 16.5 13 16 5 3 .5 18.5 6.5 6 11-3 18-3 6.5-7 11.5 7 12 14 6-14 10.5zm165-36l12-8.5 13.5 8.5-13.5 13.5zm-21.5-72l15-9.5 9 9.5-9 10.5zm-266.5-198l.5-.5 1 .5-1 .5zm66 0l9.5-6 13 6-13 11zm53 0l12.5-10 9.5 10-9.5 15zm-193.5 684l19 0 7.5 0-7.5-4-19-2-8.5 6zm56 0l19 0 18.5 0 19 0 18.5 0 10 0-10-11-18.5 6.5-19 0-18.5 2-19-1-7.5 3.5zm112.5 0l19 0 18.5 0 18.5 0 13.5 0-13.5-7-18.5-5.5-18.5 3.5-12-9-7-4-3 4-10.5 18zm337 0l18.5 0 0-6.5-18.5-3-6 9.5zm-505.5-196l.5-2-.5-.5-2 .5zm0-41l19-4.5 18.5 3 9.5-13.5.5-18-10-13-6-5-7.5-18-5-6-17-12 2.5-18-4.5-4.5-9.5-13.5-4-18 10.5-18 3-.5 19-4.5 18.5 0 18.5-10.5 3.5-2.5-3.5-2-17.5-16-1-1-1.5 1-17 4.5-19 3-18.5 3.5-8.5 7-3.5 18-7 4-5.5-4-13-4.5-8.5 4.5 8.5 10 6.5 8-6.5 16.5-1 1.5 1 1 6 17 10 18 2.5 7 4 11 2.5 18-5 18 17.5 13 4 5zm-112.5-27l19 7 16-13-16-12.5-19 5-9.5 7.5zm206-91l1.5-5-1.5-1.5-14 1.5zm-307.5-23l8-4 8.5-14-8.5-15-18.5 11 0 4 0 18 0 5.5zm120.5 16l16-16-8-18-8-9.5-15.5 9.5 3.5 18zm599-34l18.5 10.5 0-10.5 0-18 0-18 0-18 0-18 0-18 0-18 0-18 0-18 0-17-18.5 13.5-1 3.5-13 18 5.5 18-8.5 18 13.5 18 3.5 4 10.5 14 4 18-14.5 4-13.5 14 13 18zm-636.5-15l18.5.5 1-3.5-1-.5-18.5-6.5-5-11 2-18 3-6 6.5-12-6.5-9.5-7-8.5 7-13 18.5-3 19 1.5 8.5-3.5-8.5-1-19-3-12.5-14 12.5-11 13.5-7-5.5-18 11-6 15.5-12-15.5-13.5-19-4-15.5 17.5-3 7.5-18.5-6-1-1.5-18-18-.5 0-18-10-19-5.5-7.5-2.5-11-5 0 5 0 18 0 18 0 12.5 15-12.5 3.5-5.5 4.5 5.5 14.5 17 18.5 0 2.5 1-2.5 1.5-18.5-.5-12 17-7 7.5-12.5 10.5-6 7 0 11 0 18 0 18 0 5 18.5 4 19 5.5 2.5 3.5 16 13.5 8 4.5 11 11.5 13 6.5zm18.5-37l1.5-2-1.5-2-5 2zm37.5-36l1.5-2-1.5-7.5-3 7.5zm112.5-1l18.5 16 13-17-13-7-16-11-2.5-5.5-2.5 5.5 1.5 18zm412-6l11-13 7.5-4.5 14-13.5-14-11-18.5-3.5-4-3.5-9.5-18-5.5-5.5-15.5-12.5-3-2.5-6 2.5-13 10.5-3 7.5-13.5 18 16.5 16 19 0 3.5 2 15 8.5 10 9.5zm-374.5-30l18.5 6.5 3-7.5 7-18 9-4 8.5 4 10 8.5 6-8.5 3-18-9-7.5-18.5-.5-15.5 8-3.5 7-4-7-14.5-17.5 0-.5-16-18-3-3-11 3-3 18 14 9 12 9 6 18-4.5 18zm-112.5-16.5l6-2.5-3.5-18-2.5-4-5.5 4 0 18zm524.5-14l13-6.5-13-12.5-11.5 12.5zm-487-13l19 3.5 10-15 2.5-18-12.5-4-19-13-7.5 17 4 18zm524-5.5l0-6 0-1-1 1zm-187-14.5l11-9.5-11-15-8 15zm37.5 2.5l8-12 1.5-18-9.5-7-5.5 7-7 18zm75-9l18.5 12.5 19-13.5.5-2-.5-.5-18.5-17.5 4-18 9.5-18 5-3.5 8.5-14.5-8.5-16-5-2-13-18 18-4.5 1 4.5 17.5 15.5 10 2.5 8.5 5 0-5 0-18 0-18-18.5 0-18.5 0-19 0-18.5 0-19 0-12.5 0-6 11.5-19-1.5-15-10-3.5 0-18.5 0-19 0-18.5 0-7 0 7 17.5 0 .5 3 18 4 18-7 12.5-2.5 5.5 2.5 8 18.5 6.5 19-10 7.5-4.5-7.5-5-11-13 11-13 18.5 8 18.5 0 13 5 6 3.5 18.5 5.5 6.5 9-6.5 3-18.5 6.5-11.5 8.5 1.5 18 10 7 18.5-.5 17 11.5zm-7.5-39l7.5-11 15.5 11-15.5 11zm-21-54l9.5-7.5 5.5 7.5-5.5 13zm-439.5 73l9.5-1 2-18 1.5-18-13-17.5-2.5-.5-16.5-6-1.5 6-2.5 18 4 10 9 8 8.5 18zm-168.5-7.5l18.5 4.5 9-16-4-18 14-11.5 9-6.5-4-18-5-6.5-5-11.5 1.5-18-15.5 0-18.5 0-19 0-18.5 0 0 2.5 18.5 4 14 11.5 5 3 14.5 15-14.5 8.5-19 8-2.5 1.5 2.5 6 4.5 12 1.5 18zm112-79.5l19 13 18.5-4.5 10.5-12.5-10.5-8.5-8-9.5-10.5 0-19 0-18.5 0-8.5 0 8.5 6 13 12zm-56-15l9-7-9 0-15.5 0z"/><path id="b23" d="M191 1684l19 0 18.5 0 19 0 9.5 0-9.5-6-11.5-12 2-18 9.5-5.5 18.5 1 7.5 4.5 11 5 14 13-1 18 6 0 18.5 0 19 0 6.5 0-6.5-15-2.5-3-.5-18 3-7.5 12.5-10.5 6-2.5 13-15.5-6.5-18 3-18-9.5-7.5-18.5-4-19 3-14-9.5 14-12 9-6-5.5-18 15.5-10.5 18.5.5 8.5-8 7-18-7-18-8.5-7.5-18.5-10.5 0-.5-19-10.5-2 11-16.5 9-19-.5-11-8.5-7.5-13.5-2.5-4.5-6-18-10-7.5-8.5-10.5-10.5-11.5-18.5-6-19 3-17-3.5-1.5 0 0 18 0 18 0 18 0 18 0 14.5 5 3.5 13.5 17.5 2 .5 12.5 18-2.5 18 7 10.5 11.5 7.5-8.5 18-.5 18 6.5 18-3.5 18 3.5 18-9 8.5-8.5-8.5-10.5-7-16.5 7 13 18 3.5 10 4.5 8-4.5 8-6 10zm66.5-72l8.5-11 6.5-7 10-18 2-2.5 1 2.5 18 13 17 5 0 18-17 7-19 6.5-18.5-5.5zm-45.5-108l2.5-18-4.5-5.5-9.5-12.5-1-18 10.5-14.5 18.5 2.5 17.5 12 1.5 6 10.5 12-10.5 5.5-7 12.5 1 18-13 9zm106-18l4-.5 3.5.5-3.5 1zm-137.5-72l10.5-12.5 11 12.5-11 17.5zm198 255.5l2.5-3.5-2.5-6.5-14 6.5zm18.5 14.5l19 0 4.5 0-4.5-2.5-19-2-6.5 4.5zm56 0l19 0 18.5 0 19 0 18.5 0 5.5 0-5.5-5.5-18.5 2.5-19-.5-18.5 3-19-1.5-4.5 2zm112.5 0l19 0 18.5 0 18.5 0 9.5 0-9.5-5-18.5-4-18.5 2.5-15-11.5-4-2-1.5 2-9 18zm112.5-12.5l18.5 11 8 1.5 11 0 18.5 0 19 0 6.5 0 6-18 6-1.5 11-16.5 7.5-2.5 19-.5 18.5 3 19-1 18.5-4.5 9-12.5-9-11-18.5-4.5-19-1-18.5 13.5-19-12-18.5 1.5-3.5-4.5-3-18-8.5-18 15-3.5 8 3.5 10.5 8 8.5-8 10.5-13 18.5 11.5 17 1.5-17 .5-13 17.5 13 17 16-17 3-17.5 18.5 8 4 9.5 15 14.5 18.5 3 2.5.5 16 10.5 0-10.5 0-14-1-4 1-.5 0-17.5 0-18 0-18 0-7-18.5 1.5-18.5-3.5-19 3.5-4.5-12.5 4.5-15.5 19 7.5 9.5-10-9.5-7-19 5-18.5-5.5-16-10.5-3-1.5-18.5-11.5-19-3-18.5-.5-18.5 6.5-19 4-18.5-4.5-10-7.5 10-12 18.5-4.5 1.5-1.5-1.5-2-15.5-16-1.5-18 17-5.5 10.5-12.5-10.5-13-12 13-6.5 16.5-7.5 1.5-11.5 6.5-9-6.5-9.5-3.5-6.5-14.5-.5-18 7-15.5 18.5-1.5 19 11 17-12-17-16-19 9.5-3-11.5-15.5-10-8.5-8-10.5-10.5-14.5-7.5-4-4-6-14-.5-18-6.5-18 1-18-7-13.5-18.5 9-11.5 4.5 11.5 4 7.5 14-3 18-4.5 9.5-5 8.5 5 9 18.5 8.5 4.5.5-2.5 18-2 1.5-9.5-1.5-9-2.5-13-15.5-5.5-2.5-19-14-2.5-1.5-16-12.5-19-2.5-13.5-3 13.5-2 19-10 4.5-6-4.5-4.5-15.5-13.5 5-18 10.5-4 8 4 10.5 8 19 5 7-13-7-6.5-13-11.5-6-17-3-1-15.5-5-2.5 5-16.5 8-10.5-8-8-4-9 4 4 18 5 4 16.5 14-16.5 15.5-6.5 2.5 6.5 3.5 5 14.5-5 16-3.5 2-15.5 13.5-3.5 4.5 3.5 2 19 10.5 10 5.5 8.5 5 19 8 5.5 5 6.5 18-12 14-15.5 4 15.5 4 12 14 6.5 15.5 7.5 2.5 11.5 11 18.5-1.5 10.5 8.5 8 10.5 5 7.5-5 8-18.5 3-13.5-11-5-15.5-18 15.5-1 2-3 16 3 6 18 12-18 15-8.5 3-10 3-19 8.5-18.5-6.5-8-5 8-11 6.5-7-4.5-18 8.5-18-10.5-13.5-17.5-4.5 10.5-18-12-11.5-7.5 11.5 7.5 18-18.5 13.5-6.5 4.5-1 18-11.5 8.5-10.5 9.5 10.5 16 2.5 2 16.5 15 5 3 13.5 7.5 8.5 10.5 10.5 15.5 2.5 2.5-2.5 15.5-19 0-18.5-1.5-15-14 0-18-4-5-18.5-10-6.5-3-12-4-9 4-7 18-3 2-18.5 16-1.5 0-7.5 18 9 9.5 5.5 8.5 11.5 18 1.5 14.5 1 3.5-1 4.5-4 13.5-7.5 18 11.5 5 12.5-5 6.5-14.5 18.5 12.5 18.5-2 19 1.5 18.5-8 9 10.5 10 8.5 18.5 4.5 17-13-13.5-18-3.5-5-14.5-13 14.5-2 8.5 2 10.5 7 6-7 10.5-18-16.5-11-12-7-7-6.5-18-11.5 18-7.5 19-8 3.5-2.5 0-18 7-18 8-15 19 14.5 18.5-16 3.5-1.5 15-5.5 19-1.5 11.5 7 6 18 1 4 10.5-4 8.5-1.5 1 1.5 17.5 9.5 9.5 8.5 9.5 8 18.5 3 9 7 2 18 4.5 18-13 18-2.5 3-2-3-16.5-16-7-2 2.5-18-14.5-12-17.5-6-1 0-19-10.5-15 10.5 8 18 7 10.5 19 7 .5.5-.5.5-19 6.5-4.5 11-14 13.5-19-6.5-18.5 3.5-13 7.5 13 10.5 12.5 7.5 6 4 7-4 12-11 18.5 7.5 9 3.5-9 6-7.5 12 7.5 11 15 7zm-224-59.5l-1-1-3.5-17 3.5-10.5 16.5-7.5 2.5-1.5 18.5-1.5.5 3 11.5 18 5.5 18-17.5 11-18.5-5.5zm240-18l2.5-3 1 3-1 3zm149-36l-7-18 10.5-3.5 12 3.5 6.5 6 5 12-5 11.5-18.5 6zm-20-36l4.5-6.5 4.5 6.5-4.5 10.5zm-171-54l-11.5-17.5-1-.5 1 0 18.5-14 16.5-4 2.5-5 3.5 5-3.5 5.5-1.5 12.5-12 18-5.5 11zm34-18l10.5-7.5 5 7.5-5 3zm-117-90l9-18 6.5-17.5 13.5 17.5 2 18-15.5 12.5zm258.5 317.5l3.5-11.5-3.5-14.5-5 14.5zm19 6.5l10 0-10-4.5-14 4.5zm56 0l18.5 0 0-.5-18.5-2-1.5 2.5zm-56-207l18.5 1.5 19-.5 18.5-6.5 7-3.5-7-8.5-6-9.5 6-7.5 11 7.5 7.5 6.5 0-6.5 0-13-3-5 3-1 0-17 0-18 0-18 0-16-6-2-1-18-11.5-8-16 8-2.5 2-3-2-5-18 3-18 0-18-6-18-8-15-7-3-11.5-7-7.5 7-2 18-9.5 6.5-18.5 1.5-14.5-8 14.5-17 5.5-1-5-18-.5-1-14-17 14-10.5 8.5-7.5-8.5-9-19-7.5-18.5 7.5-8.5 9-10 11.5-18 6.5-1 .5-18.5 9-7 8.5-12 18-.5 0-18 12-10 6 5.5 18 4.5 5 6.5-5 12-7.5 11.5-10.5 7.5-3.5 6.5 3.5 12 5.5 9 12.5 10 10.5 18.5-4.5 11.5 12 7 7.5 19 5 8 5.5 10.5 6.5 12 11.5-5 18 12 12 7.5 6-3.5 18-2.5 18-1.5 2.5-19 1.5-18.5 4.5-4.5 9.5 4.5 6 18.5-4.5 16 16.5-4 18zm11-27l7.5-7 5.5 7-5.5 4.5zm-99-180l13-9.5 14.5 9.5-14.5 14.5zm-361.5 176l19-4.5 18.5 2.5 8.5-12 .5-18-9-12-7-6-8-18-3.5-4.5-18.5-13.5 1-18-1.5-1.5-12-16.5-3.5-18 4.5-18 11-2 19-3.5 18.5-.5 18.5-12-18.5-17-18.5 4.5-19 3-18.5 4-7 5.5.5 18-12.5 8-8.5 10-7.5 18 4.5 18 10.5 18 1 2.5 5.5 15.5 3 18-5 18 15.5 11.5 5 6.5zm-112.5-27.5l19 8 15-12.5-15-11.5-19 6-7 5.5zm487 7.5l18.5-4 14.5-8-14.5-12-2-6-5-18-11.5-14.5-15.5 14.5 5 18 2.5 18zm-580.5-54.5l19 6.5 18.5-9 19-5 18.5-.5 13-3.5-.5-18-10.5-18-2-1.5-5 1.5-13.5 5.5-19 10.5-18.5-9.5-4 11.5-15 15.5-4 2.5zm112.5-51.5l14.5-14-9.5-18-5-5.5-9.5 5.5-1 18zm393-3l11-11-11-10.5-9 10.5zm-505.5-20.5l5.5-8.5-5.5-9-18.5 6 0 3 0 18zm150-2l8.5-6.5-8.5-3-5.5 3zm580 2.5l0-9 0-18 0-18 0-18 0-18 0-18 0-18 0-18 0-18 0-16-18.5 16-13 18 5 18-7.5 18 15 18 .5.5 13 17.5 5 18-18 5-12.5 13 12.5 17 2.5 1zm-655-26l6-1-6-2-1.5 2zm-18.5-9.5l11.5-9.5 2-18 5-11 4-7-4-5.5-10-12.5 9.5-18 .5-1 3.5-17 15-12.5 10-5.5-4-18 13-7 14-11-14-12.5-19-3-13.5 15.5-5 11.5-18.5-7.5-2.5-4-16.5-16.5-5-1.5-13.5-7.5-19-3-18.5-5.5 0 16 0 18 0 10.5 12.5-10.5 6-9.5 7.5 9.5 11.5 13.5 18.5 2 5.5 2.5-5.5 3-18.5.5-10 14.5-9 9.5-10 8.5-8.5 10 0 8 0 18 0 18 0 3 18.5 4 19 6.5 4 4.5 14.5 12.5 9.5 5.5zm393-38.5l18.5-3 5-4-5-3-18.5-15-14.5 18zm-187.5-12.5l10-12.5-10-5-14.5 5zm281 3.5l2.5-16 16.5-10.5 8.5-7.5 5-18 2-18-15.5-13.5-11-4.5-8-5-18.5-3-19-7-18.5 7.5-13-10.5-2.5-18 5.5-18 10-12 5-6-3-18-2-6-11.5-12-7.5-7-9-11-9.5-8.5-5.5-9.5-13.5-15-8-3-10.5 0-18.5 0-19 0-18.5 0-19 0-18.5 0-19 0-18.5 0-19 0-18.5 0-18.5 0-19 0-2.5 0 2.5 2 9.5 16 9.5 9.5 13.5 8.5 5 6 18.5 12 .5 0 18.5 11.5 18.5-11.5 0-2 .5 2 18.5 10.5 18.5 1 6.5 6.5 8 18 4.5 2.5 18.5 8.5 4.5 7-1.5 18 16 9 7.5-9 11-17 18.5 4 19 10.5 10.5 2.5-10.5 8-7 10-8.5 18-3.5 18-10 18 10 4.5 19 4 2.5-8.5 3-18 13-10.5 16.5 10.5 2.5 18 13.5 18 5 3.5 2-3.5 6.5-18 10.5-7.5 6 7.5 5.5 18 4.5 18zm-266-214l4-4 12.5 4-12.5 4zm67 0l12-8 16.5 8-16.5 14zm54.5 0l13.5-11 10 11-10 16.5zm-305 180.5l14-.5-14-1.5-15.5 1.5zm562 10l9-10.5 9.5-5.5 12.5-12.5-12.5-10-18.5-2.5-6.5-5.5-9-18-3.5-4-18-14-.5-.5-1 .5-18 15-1 3-14 18 15 14.5 19-.5 6.5 4 12 7 11.5 11zm-356-27l1-1.5 1.5-18-2.5-2.5-8.5-15.5-10-12-4.5 12 4.5 14.5 11 3.5-10.5 18zm-131-18.5l2.5-1-1-18-1.5-2-3 2 1 18zm168.5 1.5l2-2.5 5.5-18-7.5-6.5-18.5.5-11.5 6 11.5 10.5 15.5 7.5zm356-14.5l11.5-6-11.5-11-10.5 11zm-487-18l19 1.5 5-7.5.5-18-5.5-1.5-19-11.5-5.5 13 4 18zm56 1.5l15.5-7.5-14.5-18-1-1-3 1-8.5 18zm281-17l10-8.5-10-13.5-7 13.5zm37.5 2.5l7.5-11-.5-18-7-5.5-4 5.5-7 18zm75-10l18.5 13 17.5-14-17.5-16.5-2-1.5-16.5-6-8-12 8-12 17 12 1.5 10.5 2.5-10.5 10-18 6.5-5 7.5-13-7.5-14.5-8-3.5-11-14.5-1.5-3.5 1.5-6 19-2.5 2 8.5 16.5 14.5 13.5 3.5 5 3 0-3 0-18 0-8-3-10-15.5 0-18.5 0-19 0-18.5 0-19 0-11 0-7.5 14.5-19-3.5-17-11-1.5 0-18.5 0-19 0-18.5 0-5.5 0 5.5 13.5 1.5 4.5 2.5 18 4.5 18-8.5 14.5-1.5 3.5 1.5 4.5 18.5 9 19-10 5.5-3.5-5.5-4-12-14 12-14.5 18.5 8.5 18.5 0 16 6 3 2 18.5 4 8.5 12-8.5 4-18.5 6.5-10 7.5 2.5 18 7.5 5.5 18.5 0 18.5 12.5zm-29.5-91l10.5-8.5 6 8.5-6 14.5zm-607 64l18.5 4.5 8-14.5-5-18 16-13 7-5-5-18-2-2.5-7-15.5-1.5-18-10.5 0-18.5 0-19 0-14 0 14 4 16.5 14 2.5 1.5 16 16.5-16 9.5-19 8.5 0 .5 6 17.5 2 18zm168.5 3.5l7.5-13.5 4.5-18-12-16-18-2-1 0-2.5 18 2.5 7 12 11zm-56.5-82.5l19 12 18.5-5 8-10-8-6.5-9.5-11.5-9 0-19 0-18.5 0-6 0 6 4 14.5 14zm-56-16l6.5-5-6.5 0-11.5 0z"/><path id="b22" d="M191 1684l19 0 18.5 0 19 0 7.5 0-7.5-4.5-12.5-13.5 1.5-18 11-6.5 18.5.5 10 6 8.5 4 15 14 0 18 4 0 18.5 0 19 0 4.5 0-4.5-10.5-6-7.5 1-18 5-13 6-5 12.5-5 11-13-5-18 1.5-18-7.5-6-18.5-4.5-19 3-15.5-10.5 15.5-13 7-5-5.5-18 17.5-12 18.5 1 7-7 7.5-18-7.5-18-7-6.5-18.5-9-8.5-2.5-10.5-6-1 6-17.5 9.5-19 0-13-9.5-5.5-10.5-4-7.5-6.5-18-8-6-9.5-12-9.5-10-18.5-4.5-19 3-18.5-4 0 15.5 0 18 0 18 0 18 0 13 7.5 5 11 14.5 8-14.5-1-18-7-16-.5-2-11-18 11.5-13.5 12 13.5-3 18 10 1.5 18.5 3.5 19 12.5 1 .5 16 18-17 8.5-5 9.5.5 18-14.5 10-18-10 2-18-2.5-3-10.5 3 9 18-4.5 18 6 9 14 9-9 18 .5 18 7.5 18-5 18 5 18-13 12-11.5-12-7.5-5-11.5 5 9.5 18 2 5.5 7 12.5-7 12.5-3.5 5.5zm65-72l10-13 5-5 2.5-18 11-12 3.5 12 15.5 11 18.5 5.5 1 1.5-.5 18-.5 1-18.5 7-19 6.5-18.5-5.5zm51.5-126l14.5-2 11 2-11 2zm71 181l.5-1-.5-2-4 2zm18.5 17l19 0 1.5 0-1.5-.5-19-2.5-4.5 3zm56 0l8.5 0-8.5-.5-1 .5zm37.5 0l19 0 18.5 0 .5 0-.5-.5-18.5-1.5-19-.5-15.5 2.5zm75 0l19 0 18.5 0 18.5 0 5.5 0-5.5-2.5-18.5-3-18.5 1.5-18.5-14-.5 0-7.5 18zm112.5-15.5l18.5 12.5 15.5 3 3.5 0 18.5 0 19 0 4 0-4-16-2-2-1.5-18 3.5-.5.5.5 18 11.5 8-11.5 10.5-3.5 19-4.5 18.5 7 19-2.5 18.5-3.5 8-11-8-10-18.5-3.5-19-2-18.5 13.5-19-12-18.5 3.5-5.5-7.5-2-18-11-17.5-15 17.5-4 4-3-4-15.5-15-10.5-3 4.5-18-13-11-18.5-1.5-3.5-5.5-15.5-8-11 8 7 18 4 6 19 5 6 7-6 5-19 6-3 7-15.5 15.5-19-7.5-18.5 3.5-11 6.5 11 9.5 14.5 8.5 4 2.5 4.5-2.5 14.5-13.5 18.5 9.5 11 4-11 7.5-7 10.5 7 10 17.5 8zm11.5-74.5l7-7.5 2 7.5-2 7.5zm138 76.5l1.5-4.5-1.5-5-1.5 5zm19 13.5l6 0-6-2.5-8 2.5zm-449.5-32l9-4-4.5-18 14.5-1 2 1 16.5 13.5 18.5-1.5 19 2.5 18.5-8.5 10 12 9 7.5 18.5 3.5 14-11-14-17.5 0-.5-18.5-17.5-19 11.5-18.5-6-19-4-1-2-3.5-18 4.5-13.5 10.5-4.5 8.5-5 18.5-12 3.5 17 9.5 18 6 17 18.5-1.5 12.5 2.5 6.5 4.5 3.5-4.5 12-18-15.5-10.5-13-7.5-6-5.5-18.5-10.5-18-2-1 0-18.5-3-15.5-15-1-18-2.5-3-18.5-10.5-10.5-4.5-8-2.5-6.5 2.5-7.5 18-5 3.5-17 14.5-1.5 3-7 15 7 7.5 6.5 10.5 11.5 18 .5 4.5 3 13.5-3 16-.5 2-7.5 18zm17-112l2-2 1 2-1 5zm507 74.5l0-2.5 0-3.5-4.5-14.5 4.5-3 0-15 0-18 0-18 0-6-18.5 1-18.5-3-19 5.5-5.5-15.5-1.5-18-11.5-3-19-13-1-2-17.5-11.5-19-2.5-18.5-2-18.5 7-19 4-18.5-4-11.5-9-7.5-12.5-18.5-5.5-12.5 18-6.5 13-5 5 5 16 19-2.5 3 4.5 15.5 8.5 11 9.5 8 7.5 18.5 2.5 10 8 3 18 6 17 18.5-4 11 5 7.5 6 6-6 13-16 18.5 10 11.5-12-6.5-18 14-5 16 5 2.5 2.5 6 15.5-6 15-9.5 3 9.5 4.5 5.5 13.5 13.5 13 18.5 1 14.5 4zm-99.5-92.5l6-8.5 6 8.5-6 14zm6 87.5l15-15.5-15-16-12 16zm-299.5-60l19-8 1.5-1.5 1-18 6-18-8.5-12.5-19 6.5-18.5-5.5-10.5-6.5 10.5-15 2.5-3-1.5-18 8-18-9-12-19-5-18.5 13.5-5 3.5-.5 18-13.5 9.5-9 8.5 9 14 4.5 4 14.5 13 8 5 10.5 6 9.5 12 9.5 13.5 3.5 4.5zm356-36.5l8-9-8-6-18 6zm-299.5-14l18.5-12.5.5-.5 18-6.5 19-2 10-9.5-10-15-5.5-3 5.5-2 18.5-13.5 11.5-2.5 7-18-7.5-18 0-18 7.5-18 .5-.5 12.5-17.5-12.5-8.5-10-9.5-9-8.5-18-9.5-.5-.5-7.5-17.5 0-18-6-18-.5-18-5-9.5-18.5 8.5-3 1 3 1 9 17-3 18-6 12.5-3.5 5.5 3.5 5.5 18.5 10 17 2.5-12 18-5 4-17 14-1.5 5.5-1.5 12.5-17 14-16.5-14 6.5-18 7.5-18 2.5-12.5 1.5-5.5-1.5-.5-19-15-4.5-2.5-14-11-19-3-18.5-3.5-19 17-.5.5.5.5 19 10.5 12.5 7 6 3.5 19 8 7.5 6.5 6.5 18-14 16-8 2 8 2 14 16 4.5 11.5 18 6.5 1 1 18.5 7 12.5 10 6 8 6.5 10-6.5 11-18.5.5-15-11.5-3.5-12-14 12-5 10.5-1.5 7.5 1.5 3 19 14.5 2 .5-2 4-17.5 14zm262-25.5l18.5 3 19 1 18.5-8 3-1.5-3-3.5-8.5-14.5 8.5-11.5 10-6.5 8.5-4 0-14 0-18 0-18 0-14-13-4 4.5-18-10-7-14 7-4.5 3.5-5.5-3.5-6.5-18 5.5-18 .5-18-7-18-6-11.5-16-6.5-2.5-1.5-2 1.5-5 18-12 8-18.5.5-15.5-8.5 15-18-.5-18-15-18 16-11.5 7-6.5-7-7.5-19-7.5-18.5 7-7.5 8-11 12.5-15.5 5.5-3.5 1-18.5 10-6 7-11.5 18-1.5 4-18.5 9.5-7 4.5 5 18 2 2 3-2 15.5-10 9-8 10-5 9 5 9.5 4 10 14 9 9.5 18.5-5.5 13 14 5.5 6 19 5 10 7 8.5 5.5 13.5 12.5-5 18 10.5 10.5 9.5 7.5-3 18-3 18-3.5 6-19 9.5-18.5 1.5-.5 1 .5 1 18.5-.5 17 17.5-2 18zm6-23.5l12.5-11 8.5 11-8.5 7zm48.5-36l1.5 0 .5 0-.5 1.5zm-143.5-144l14-10 15.5 10-15.5 16zm-42 184.5l18-4.5-17.5-18-.5-6.5-19 2.5-5.5 4 5.5 4 9 14zm205.5-2.5l0-2 0-4-2.5 4zm-524-7.5l19-4.5 18.5 2.5 7-10.5 1.5-18-8.5-11-8.5-7-7.5-18-2.5-3.5-19-13-4-1.5-14.5-16-1-2 1-2 4.5-16-4-18-.5-18 18.5-3.5 19-3 18.5-1 16.5-10.5-16.5-15-18.5 3.5-19 3-18.5 4-5.5 4.5 5 18-18.5 11.5-5.5 6.5-7.5 18 3 18 10 17.5 2.5.5 4.5 18 3 18-5 18 14 10 6.5 8zm-112.5-27.5l19 8.5 14-11.5-14-10.5-19 7-4 3.5zm487 7.5l18.5-5 10-5.5-10-8-3-10-5-18-10.5-13.5-14.5 13.5 5 18 2.5 18zm-281-12l10.5-16.5-10.5-10-6.5 10zm243.5-5l9.5-11.5-9.5-12-11 12zm-543-41l19 9 18.5-8 19-4 18.5-2.5 3.5-1 6.5-18-10-15.5-18.5 7-19 7.5-18.5-6.5-2.5 7.5-16.5 16.5-2 1.5zm524.5 4l15.5-10.5-15.5-14.5-18.5 14.5zm-412-52l13-12.5-11.5-18-1.5-2-3.5 2-6 18zm393-4l8.5-8.5-8.5-8-7 8zm-505.5-23l2-3.5-2-3.5-18.5 1 0 2.5 0 13zm150-.5l3.5-3-3.5-1-2.5 1zm580 4.5l0-7.5 0-18 0-15-18.5 3.5-11.5 11.5 11.5 15.5 5.5 2.5zm-673.5-36l9-7.5 2-18 7.5-15.5 1.5-2.5-1.5-2-12.5-16 10-18 2.5-12 1.5-6 17-14.5 6.5-3.5-2-18 14.5-8 13-10-13-11-19-2.5-12 13.5-6.5 15.5-18.5-8.5-4-7-15-15-9.5-3-9-5-19-.5-18.5-3.5 0 9 0 18 0 8.5 10-8.5 8.5-13.5 10.5 13.5 8.5 10 18.5 4 8 4-8 4-18.5 2.5-8 11.5-11 11.5-7.5 6.5 7.5 14.5 3.5 3.5-3.5 3-5.5-3-13-5 0 5 0 18 0 18 0 1 18.5 4.5 19 6.5 5 6 13.5 11.5 11.5 6.5zm280.5 7.5l19-12.5 2-2.5-2-2-19-16 .5-18 18.5-6.5 14.5 6.5 4 3 19 4.5 3.5-7.5-3.5-3.5-16-14.5-3-8-18.5-8-19 8-13.5-10-5-2.5-5.5 2.5 2.5 18 3 2 18.5 16-18.5 17.5-1.5.5 1.5 1 6 17zm393-21.5l0-11.5 0-18 0-18 0-18 0-18 0-18 0-14.5-17 14.5-1.5 1.5-11.5 16.5 4.5 18-7.5 18 14.5 16.5 9 1.5 6.5 18zm-280.5-24.5l16.5-5-16.5-13-10.5 13zm-187.5-15l6.5-8-6.5-3.5-9.5 3.5zm281-.5l1-7.5 18-11.5 7-6.5 5-18 2.5-18-14.5-12.5-13.5-5.5-5.5-3.5-18.5-3.5-19-6-18.5 7-15-12-1.5-18 5.5-18 11-13.5 3.5-4.5-2.5-18-1-3.5-13.5-14.5-5.5-5-10.5-13-8-7-6.5-11-12.5-14-10.5-4-8 0-18.5 0-19 0-18.5 0-16.5 0-2.5 2-2.5-2-16 0-18.5 0-.5 0-18.5 3.5-2.5-3.5-16.5 0-18.5 0-18.5 0-19 0-.5 0 .5.5 10.5 17.5 8.5 8.5 15.5 9.5 3 4 18.5 9.5 5 4.5 14 8.5 14-8.5-14-11-8-7 8-7.5 18.5 6 1.5 1.5 6.5 18 11 6 18.5 3 9 9 8 18 2 1 18.5 8 5.5 9-.5 18 14 8 6.5-8 11.5-18 .5-1 1.5 1 17 4 19 10.5 13 3.5-13 10-5.5 8-9 18 0 18-4.5 5.5-7 12.5 7 3 19 1.5 1.5-4.5 3-18 14-12 18.5 12 .5 5 3.5 13 12.5 18 2.5 1.5 1-1.5 5.5-18 12.5-9 7 9 5 18 5.5 18zm-201.5-205.5l14.5-9.5 18.5 9 2 .5-2 1.5-18.5 15.5zm56 0l14.5-11.5 11 11.5-11 18zm258 188l6.5-8 12-6.5 11.5-11.5-11.5-9-18.5-1.5-9-7.5-8-18-2-2-18.5-13.5-18 15.5-1 .5-13.5 17.5 13.5 13.5 19-1.5 9.5 6 9 5.5 13.5 12.5zm-487-56l.5-6-.5 0-.5 0zm112.5 1.5l5-7.5-5-6-2.5 6zm37.5-.5l18.5 9 6-16-6-5.5-18.5 1.5-8 4zm374.5-1.5l10-5.5-10-10-9 10zm-468-23.5l0-1.5-1.5-16.5-17.5-9-4 9 4 18 10.5 0zm37 6l12-6-12-15-9 15zm281-17l8.5-7-8.5-11.5-6 11.5zm37.5 3l6.5-10-2-18-4.5-3.5-2.5 3.5-7.5 18zm93.5 2.5l16-12.5-16-14.5-5-3.5-13.5-5-9-13 9-13 18.5 13 0 1.5.5-1.5 10.5-18 8-6 7-12-7-13.5-11-4.5-8-10.5-3-7.5 3-12 19-1 3 13 15.5 13.5 17 4.5 1.5 1 0-1 0-10 0-8-7-18-11.5 0-18.5 0-19 0-18.5 0-19 0-9 0-9.5 18-19-5.5-18.5-12-3.5-.5-15 0-19 0-18.5 0-4 0 4 9 3.5 9 1.5 18 5 18-10 17-.5 1 .5 1.5 18.5 11 19-10 4-2.5-4-3-12.5-15 12.5-15.5 18.5 8 18.5.5 18.5 7 .5 0 18.5 3.5 10 14.5-10 5-18.5 7-8.5 6 3 18 5.5 4 18.5 1 19 11 1 2zm-49.5-102.5l12-9.5 7 9.5-7 16zm-605.5 62l18.5 4.5 7-12.5-5.5-18 17.5-14 5-4-5-16-5-2-3.5-18-4.5-18-6 0-18.5 0-19 0-6.5 0 6.5 2 19 15.5 0 .5 17 18-17 10.5-17 7.5 6 18 2 18zm168.5-1l4-7 7-18-11-14.5-19 3.5-1.5 11 1.5 4.5 15.5 13.5zm-56.5-77.5l19 11.5 18.5-5.5 6-7.5-6-5-11-13-7.5 0-19 0-18.5 0-3.5 0 3.5 2.5 16.5 15.5zm-56-16l4-3.5-4 0-7.5 0z"/><path id="b21" d="M191 1684l19 0 18.5 0 19 0 5 0-5-3-14-15 1-18 13-7.5 18.5 0 12.5 7.5 6 3 16 15 1 18 2 0 18.5 0 19 0 3 0-3-6.5-10-11.5 3-18 3-18 4 0 18.5-7.5 9-10.5-4-18 .5-18-5.5-4.5-18.5-4.5-19 3-17-12 17-14.5 5-3.5-5-15.5-2.5-2.5 2.5-.5 19-13 18.5 1 5.5-5.5 8-18-8-18-5.5-5-18.5-8-17.5-5-1.5-.5 0 .5-18.5 10-19 .5-16.5 7.5-2 5.5-18.5 6.5-3.5 6 0 18-15.5 11-18.5-9-5 16 5 7.5 16 10.5-9 18 1.5 18 8 18-6 18 6 18-16.5 15-14.5-15-4.5-2.5-7 2.5 6.5 18 .5 1.5 9.5 16.5-9.5 16.5-1 1.5zm63.5-72l11.5-15 3-3-3-16-.5-2 .5-.5 17.5-17.5 1-1 5.5 1 .5 18 13 9 18.5 5.5 2 3.5 3 18-5 14.5-18.5-5.5-19 7-18.5-6zm44-126l5-.5 18.5-3.5 19 4-19 3.5-18.5-2.5zm98.5 198l14 0-14-1.5-2.5 1.5zm93.5 0l19 0 7.5 0-7.5-.5-19-1-10 1.5zm75 0l19 0 18.5 0 18.5 0 1.5 0-1.5-.5-18.5-1.5-18.5.5-19-10-4.5 11.5zm131-5l19 4 1.5 1 17 0 19 0 1 0-1-5-12.5-13-6.5-9.5-1-8.5 1-.5 19-4 8.5 4.5 10 6.5 4.5-6.5 14-4.5 19-8.5 18.5 10.5 19-3 18.5-2.5 7-10-7-8.5-18.5-2.5-19-3.5-18.5 13.5-19-12-18.5 5-7.5-10-1.5-18-9.5-15.5-13.5 15.5-5.5 5.5-4-5.5-14.5-14-14-4 7-18-12-10-18.5 5-9-13-10-5-7.5 5 7 18 .5 1 19 3.5 11.5 13.5 7 6 3 12-3 12-11-12-7.5-8.5-19 5.5-1 3-17.5 17-19-8.5-18.5 4-9.5 5.5 9.5 8 17 10 1.5 1 2-1 17-16 18.5 11 13 5-13 8.5-6 9.5 6 9 19 8 .5 1zm150 5l1.5 0-1.5-.5-2.5.5zm-449.5-33.5l5.5-2.5-5.5-11.5-5 11.5zm112.5 4l18.5 2.5 11.5-9-11.5-14-1-4-17.5-16.5-19 12-18.5-7-19-2-2.5-4.5-3-18 5.5-16 4.5-2 14.5-8.5 14-9.5-14-2-16.5-16-1.5-18-1-1-18.5-10.5-14.5-6.5-4-1.5-3.5 1.5-8.5 18-7 5-15.5 13-3 7-5.5 11 5.5 6 7.5 12 11 17 1 1 4 18 14 14.5 5.5 3.5 13 10.5 18.5-.5 19 3.5 18.5-8.5 11 13zm-97-114.5l3.5-4.5 3 4.5-3 10.5zm134.5 73.5l1-1.5 13-18-14-9.5-14.5-8.5-4.5-4-18.5-9.5-13 13.5 8 18 5 14 18.5.5 16.5 3.5zm280.5-5l14-14.5-14-15-11.5 15zm56.5-3l18.5-1.5 10-10 8.5-5.5 0-12.5 0-18 0-18 0-4.5-18.5.5-18.5-3-18 7 6.5 18-7.5 18 0 .5 7 17.5zm-94-26l4-3.5 13.5-18 1.5-.5 3 .5 15.5 7.5 7-7.5-5.5-18-1.5-1-7.5-17 7.5-10.5 7 10.5 12 11.5 11.5-11.5-11.5-17.5-1.5-.5-17.5-12.5-3.5-5.5-15-10-19-2-18.5-3-18.5 7-19 4-18.5-4-13-10-6-10-18.5-6-11.5 16-7.5 15.5-2.5 2.5 2.5 8.5 19 2 4.5 7.5 14 7.5 12 10.5 7 6.5 18.5 3 11 8.5 4 18 4 11.5 18.5 0 14 6.5zm-262-31l19-8.5 1.5-18 5-18-6.5-9.5-19 4.5-18.5-5-13-8 11.5-18 1-18 .5 0 8-18-8-10.5-19-5.5-18.5 13.5-3.5 2.5-.5 18-15 11-8 7 8 12 6.5 6 12.5 11 11 7 7.5 4.5 10.5 13.5 8.5 12 5 6zm356-37l7-7.5-7-5.5-15.5 5.5zm-674-17.5l.5-8-.5-1-3.5 1zm374.5.5l12.5-8.5 6-3 18.5-4.5 19-2.5 8.5-8-8.5-13-10.5-5 10.5-4 18.5-12.5 6-1.5 4-18-1-18 .5-18 6.5-18 3-4 10-14-10-6.5-12-11.5-7-6.5-18.5-8-11 14.5-8 6.5-14 11.5-4.5 18 0 .5-18.5 14.5-18-15 4-18 8.5-18 4.5-18-18-14.5-6.5-3.5-12-9.5-19-3.5-18.5-2-16.5 15 16.5 9 15 9 3.5 2 19 8 9 8 7 18-16 18-.5 0 .5 0 15.5 18 3 8 19 5.5 3.5 4.5 15 6.5 14.5 11.5 4 5.5 8 12.5-8 13.5-18.5-1-16-12.5-2.5-9-10.5 9-8.5 18 19 16.5 5 1.5-5 9-11.5 9zm-393.5-15l6-11.5-.5-18-5.5-13-1.5-5-11-18 12.5-14.5 13 14.5 6 17 1.5 1 17 4 19 12 6 2 12.5 14 4-14-4-7.5-5.5-10.5-7-18-6-4.5-10.5-13.5-8.5-9-18.5-2.5-19 3-18.5-4 0 12.5 0 18 0 18 0 18 0 11 10 7zm655.5-10l18.5 5 19 2.5 18-9-11-18 11.5-15 4.5-3 14-6.5 0-11.5 0-18 0-18 0-11.5-18.5-6-.5-.5.5-.5 8.5-17.5-8.5-6-12 6-6.5 5-7.5-5-9-18 8.5-18 1-18-8-18-4-7.5-18.5-5.5-4.5 13-14.5 9.5-18.5 0-17-9.5 15-18-1-18-14.5-18 17.5-13 5.5-5-5.5-6-19-8-18.5 7-6.5 7-12 13.5-12.5 4.5-6.5 2-18.5 10-5 6-10.5 18-3.5 8.5-18.5 7-4.5 2.5 4.5 16 18.5-10.5 6-5.5 13-6.5 11.5 6.5 7 3 10.5 15 8.5 8.5 18.5-6.5 15 16 3.5 4 19 6 12 8 6.5 4 15 14-5 18 9 9.5 11 8.5-2.5 18-3 18-5.5 9.5-14.5 8.5 14 18-.5 18zm1.5-19.5l17-15 11.5 15-11.5 9.5zm42-36l12.5-1.5 4 1.5-4 11zm-133.5-144l15-11 17 11-17 17zm-41 182.5l10.5-2.5-10.5-12-6 12zm-318.5-9l19-4.5 18.5 1.5 6-8.5 1.5-18-7.5-10-9.5-8-7.5-18-1.5-2-19-12.5-9.5-3.5-9-10-3-8 3-9 2.5-9-2.5-11-9-7-10-3-2.5 3-7.5 18 1 18 9 15 8.5 3 0 18 3.5 18-5 18 12 9 7.5 9zm-112.5-28.5l19 9.5 13-10.5-13-10-19 8.5-1.5 1.5zm487 8l18.5-6 5-3-5-4-4.5-14-4-18-10-12.5-13.5 12.5 4.5 18 3 18zm-281-13l9-14-9-9-5.5 9zm243.5-3.5l9-10.5-9-11-10 11zm-543-45.5l19 11.5 18.5-6.5 19-3.5 15.5-2.5 3-3.5 7-14.5-7-11.5-18.5 7-16.5 4.5-2.5 1-2.5-1-16-4-1.5 4-17.5 18zm524.5 8.5l14-9.5-14-13-16.5 13zm-412-52.5l11-11-11-16.5-8 16.5zm393-5l6-6-6-5.5-4.5 5.5zm-509-24l-15-1.5 0 1.5 0 8zm415.5 2.5l18.5 11 10-13.5 0-18-5.5-18-1.5-18-3-5.5-12.5 5.5 4.5 18-3 18-7.5 15.5-1.5 2.5zm318 3.5l0-6 0-18 0-11.5-18.5 1-10.5 10.5 10.5 14 8 4zm-542.5-10l18.5-1 19-2.5 18.5-1 15-9.5-15-13.5-18.5 3-19 3-18.5 4-4.5 3.5zm-131-26l6.5-6 2.5-18-7-18 1-18 10.5-18 3.5-18 1.5-2.5 18.5-14 3-1.5-.5-18 16.5-9 11.5-9-11.5-10-19-1.5-10 11.5-4.5 18-4 2-2-2-16.5-8-5-10-14-13.5-14-4.5-4.5-2.5-19 1.5-18.5-.5 0 1.5 0 18 0 6.5 7.5-6.5 11-17.5 13.5 17.5 5.5 6.5 18.5 6.5 11 5-11 5.5-18.5 4-6 8.5-13 14-5 4 5 9.5 7.5 8.5-7.5 6.5-13-6.5-5.5-2 0 2 0 18 0 9 4.5 9 14 3.5 19 7 6 7.5 12.5 10.5 13.5 7.5zm280.5 8l18.5-14-18.5-16.5-12 16.5zm393-29.5l0-2.5 0-13.5-.5 13.5zm-336.5-19l.5-1.5-.5-.5-8 .5zm56 1.5l10.5-3-10.5-8-6.5 8zm-187.5-17l3-4-3-1.5-4.5 1.5zm56.5-3.5l18.5 12.5 19-4.5 17.5-8.5-17.5-12-19 6.5-17-12.5-1.5-1-2 1 1.5 18zm393 14.5l18.5 2.5 0-17.5 0-18 0-18 0-18 0-13.5-15.5 13.5-3 3-10.5 15 4 18-6.5 18zm-168.5-15.5l19-12 6-5.5 4.5-18 3-18-13.5-11.5-15.5-6.5-3.5-2-18.5-4-19-5.5-18.5 7-16.5-13.5-1.5-18 5.5-18 12.5-14.5 2.5-3.5-2.5-18 0-.5-16-17.5-3-2.5-12-15.5-6.5-5.5-7-12.5-12-13-13-5-5.5 0-18.5 0-19 0-18.5 0-12.5 0-6.5 5-6.5-5-12 0-14 0-5 3.5-18.5 4.5-6-8-13 0-18.5 0-18.5 0-16 0 8.5 18 7.5 7.5 17 10.5 1.5 1.5 18.5 7 7.5-8.5 11.5-11 18.5 6 5 5 10.5 18 3.5 2 18.5 4 14.5-6-12.5-18 17-11.5 18.5 9.5 7 2-7 4.5-16 13.5-2.5 3.5-7.5 14.5 7.5 16 1.5 2 17 7 6.5 11 .5 18 12 6.5 5.5-6.5 11-18 2-2.5 5 2.5 13.5 3 19 10.5 16 4.5-16 12-4 6-9 18 2.5 18-8.5 11-3.5 7 3.5 2 19-1.5 0-.5 3-18 15.5-13 19 10.5 1.5 2.5 6 18 11 17.5 5-17.5 14-10 8 10 5 18zm-133-179.5l-14-18 16-12.5 12 12.5-7.5 18-4.5 4zm245.5 167.5l4.5-5.5 14-8 10-10-10-8-18.5-.5-11-9.5-8-18-18.5-12.5-14.5 12.5-4.5 2-12.5 16 12.5 12 19-2 12 8 6.5 3.5 15 14.5zm-374.5-59l0-.5 0-.5 0 .5zm37.5 3l18.5 9 4.5-12.5-4.5-4-18.5 2-4 2zm374.5 1l8.5-4.5-8.5-8.5-8 8.5zm-431-18.5l8.5-4-8.5-11-6.5 11zm-56-12.5l9.5-9.5-9.5-4.5-2 4.5zm337-3.5l7.5-6-7.5-10-5 10zm37.5 3l6-9-3.5-18-2.5-2-1.5 2-7.5 18zm93.5 1.5l14-10.5-14-13-8-5-10.5-4-9.5-14-9.5-12-18.5 7-7 5 4 18 3 2.5 18.5 1.5 19 8.5 3.5 5.5zm-655-40.5l18.5 5 6-11-6-18 19-15.5 3.5-2.5-3.5-10.5-19-7.5-18.5 11-15.5 7 6.5 18 2 18zm168.5-5.5l0-.5 10-18-10-13-19 9-.5 4 .5 1.5 18.5 16.5zm355.5-7l19-10 2.5-1.5-2.5-1.5-13.5-16.5 13.5-16.5 18.5 7.5 18.5 1 19 5 5.5-15 13-10.5 7.5 10.5-7.5 17.5-3 .5 3 .5 12 17.5 7 4 18.5 12 9.5-16 9.5-7 6.5-11-6.5-12-14-6-5-6.5-4-11.5-2-18-12.5 0-19 0-7.5 0-9 18-2 3-5-3-14-4-18.5-12-14-2-4.5 0-19 0-18.5 0-2 0 2 5 5 13 1 18 5 18-10.5 18zm-262-23.5l9.5-6-9.5-7.5-9.5 7.5zm-243.5-24l8.5-18-7-18-1.5 0-18.5 0-17.5 0 17.5 12.5 3.5 5.5zm93.5-18l19 11 18.5-6 4-5-4-3-12.5-15-6 0-19 0-18.5 0-1 0 1 .5 18.5 17.5zm580.5 12.5l17-12.5-9-18-8 0-18.5 0-15 0 15 1 4 17zm-636.5-29l2-1.5-2 0-3.5 0z"/><path id="b20" d="M210 1684l18.5 0 19 0 3 0-3-1.5-15-16.5 0-18 15-8.5 18.5-.5 15 9 3.5 2 17.5 16 1.5 17 .5 1 18 0 19 0 1 0-1-2-13.5-16 4.5-18-10-15.5-1-2.5-17.5-8.5-19 7.5-18.5-5.5-12.5-11.5 12.5-16.5 1.5-1.5-1.5-6.5-3-11.5 3-3 15-15 3.5-4 19 4 18.5-15.5 3.5-2.5-3.5-9.5-9-8.5 9-2.5 19-12.5 18.5 1 4.5-4 7.5-18-7.5-18-4.5-4-18.5-6.5-19-5.5-18.5 8.5-19 1.5-14 6-4.5 13-18.5 2-1.5 3-1 18-16.5 11.5-18.5-6-4 12.5 4 6 18.5 12-9.5 18 2 18 7.5 15.5 1.5 2.5-1.5 3-6 15 6 16 1 2-1 2.5-18.5 15.5 0 .5-7 17.5 2.5 18zm80-198l13.5-1.5 18.5-4 19 2.5 1.5 3-1.5 6-19-1-18.5-2zm107 198l3 0-3 0-.5 0zm93.5 0l13 0-13-.5-4.5.5zm75 0l11 0-11-4-1.5 4zm131-6.5l19 3 5.5 3.5 13 0 16.5 0-16.5-16-1-2-2-18 3-2 19-6.5 16 8.5 2.5 2 1-2 17.5-6 19-12-19-11.5-18.5 6.5-9.5-13-.5-18-8.5-14-12 14-7 7-5-7-13.5-13-17.5-5 9.5-18-11-8.5-18 8.5 16 18 2 1.5 4 16.5-4 16.5-15-16.5-3.5-4-15.5 4-3.5.5-18.5 17.5 18.5 12.5 14.5 5.5-14.5 10-5 8 5 8 19 5.5 3 4.5zm-299.5-28.5l2-1-2-4-2 4zm112.5 5l18.5 1 8.5-7-8.5-10.5-2-7.5-16.5-15.5-19 12-18.5-7-19-.5-4.5-7-2-18-12-17-2-1 2-3.5 18.5 1 19-9.5 8.5-6-8.5-1.5-17.5-16.5-1.5-13-1-5-17.5-10-18.5-8-.5 0-9 18-9.5 6.5-13.5 11.5-5 10.5-3.5 7.5 3.5 4 9 14 9.5 15.5 2.5 2.5 5 18 11.5 12.5 9 5.5 9.5 7.5 18.5.5 19 4.5 18.5-9 12 14.5zm-99-114l5.5-7 4.5 7-4.5 15.5zm-219.5 97l1.5-7-1.5-.5-2 .5zm636.5 7.5l19-4.5 18.5-1.5 6-8.5-6-7.5-18.5-1.5-19-4.5-18.5 13.5zm-486.5-20.5l18.5-4 6.5-8-2-18-1-18-3.5-2.5-18.5-5.5-19 3-18.5-12.5-10 17.5 10 7.5 18.5 4.5 3.5 6 6 18zm262-5.5l18.5 11.5 18.5-18-18.5-8.5-18.5 4-8 4.5zm-93.5-13.5l18.5 2.5 19 4 13-17.5-13-9-16-9-3-2.5-18.5-8-10.5 10.5 6.5 18zm318 2l12.5-13-12.5-13.5-10.5 13.5zm56.5-3l18.5-3.5 6.5-6.5 12-8 0-10 0-18 0-18 0-3-18.5-.5-18.5-2-15 5.5 5 18-4 18 3.5 18zm-94-26.5l1.5-1.5 11.5-18 6-2 13 2 5.5 3 2.5-3-2.5-8.5-1-9.5-8-18 9-12 8.5 12 10.5 10.5 10-10.5-10-15.5-6-2.5-13-9.5-5.5-8.5-13-8.5-19-1.5-18.5-4-18.5 7-19 4-18.5-4-14.5-11-4.5-8-18.5-6.5-10.5 14.5-8.5 18 0 1.5 19 6 6.5 10.5 12 6.5 13 11.5 6 5.5 18.5 3 11.5 9.5 5 18 2.5 6 18.5 4 17 8zm-262-30l17-7.5 2-8 1-10 3.5-18-4.5-6.5-19 2-18.5-4-15.5-9.5 6.5-18 4.5-18 4.5-2.5 7-15.5-7-9-19-6-18.5 13.5-2 1.5-.5 18-16.5 12-6.5 6 6.5 10.5 9 7.5 10 9 14 9 4.5 2.5 12 15.5 7 10 6.5 8zm131 2.5l5-10-5-2.5-3.5 2.5zm225-39.5l6-6.5-6-4.5-13 4.5zm-299.5-20.5l5.5-4-5.5-4-5.5 4zm-393.5-14l4.5-8-.5-18-4-9.5-2.5-8.5-11-18 13.5-15.5 14 15.5 5 14.5 5.5 3.5 13 3 19 11 11 4 7.5 8.5 2.5-8.5-2.5-4.5-7-13.5-7.5-18-4-3-11.5-15-7.5-8-18.5-.5-19 3-18.5-4.5 0 10 0 18 0 18 0 18 0 9.5 12.5 8.5zm412 4l18.5-3 19-2.5 7-6.5-7-10.5-15.5-7.5-3.5-2-18.5-2.5-17-13.5-1.5-5.5-6.5 5.5-11 18 17.5 15.5 8 2.5zm262-7.5l19 3.5 17-8-13-18-4-11-4.5 11-14.5 12-14.5 6zm-149.5-21.5l3.5-1-3.5-4-2.5 4zm-318.5-8.5l19-4.5 18.5 1 5-7 2-18-7-9-11-9-7-18-.5-1-19-12-15-5-3.5-4.5-5-13.5 5-16 .5-2-.5-2.5-19-14.5-7.5 17 0 18 7.5 13 14.5 5-4.5 18 4 18-5 18 10 7.5 8.5 10.5zm243.5 1.5l18.5-12 .5 0 1.5-18 5.5-18 1-18 5-18 5.5-8 7-10-7-4.5-14-13.5-5-4.5-18.5-6-8 10.5-11 9-11 9-4.5 18-3 6-18.5 10-19-11-1.5 13 1.5 4 19 4.5 7.5 9.5 11 4.5 16.5 13.5 2 3 9.5 15zm206 1l16-13 2.5-1 17.5-17 1.5-.5 18.5-2 7.5 2.5 11 9 0-9 0-18 0-18 0-9.5-18.5-6.5-2-2 2-3 7.5-15-7.5-5-10.5 5-8 6-9.5-6-9.5-16-1.5-2 1.5-1.5 9.5-16.5 1.5-18-9-18-2-4-18.5-2-2 6-17 11.5-18.5-1.5-18-10 14-18-1.5-18-13.5-17.5 0-.5 19-14 4.5-4-4.5-4.5-19-8.5-18.5 7-6 6-12.5 15-9.5 3-9.5 3-18.5 10.5-4 4.5-9.5 18 13.5 10 14.5 8 4 2 11.5 16 7.5 8 18.5-8-16-18 16-11.5 18 11.5-18 18 17 18 1.5 2 19 6.5 14.5 9.5 4 3 16.5 15-5.5 18 8 8 12.5 10-1.5 18-3 18-8 13-8.5 5zm-543-21.5l12-9.5-12-9-18.5 9zm468-2.5l18.5-6.5.5-.5-.5 0-6-18-3.5-18-9-11.5-12.5 11.5 4.5 18 3 18zm-281-13l7.5-12-7.5-7.5-4.5 7.5zm243.5-2.5l8-9.5-8-9.5-9 9.5zm-524-35.5l18.5-6 19-2.5 10-1.5 8.5-9 4.5-9-4.5-7-18.5 6.5-1.5.5-17.5 6-18.5-6-15.5 18zm505.5-1.5l12-8.5-12-11.5-14.5 11.5zm-150-17l1.5-9.5 9.5-18 5.5-18-16.5-13.5-8.5-4.5-10-8-19-3.5-18.5-1-14 12.5 14 7.5 18 10.5.5.5 19 8 11 9.5 7 18zm-262-36l9.5-9.5-9.5-14-7 14zm393-6l3.5-3.5-3.5-3-2.5 3zm-518.5-21.5l-5.5-.5 0 .5 0 3zm443.5 11.5l8.5-11.5.5-18-5.5-18-2.5-18-1-1.5-3 1.5-3 18-3.5 18-8.5 18zm299.5-7l0-4.5 0-18 0-7.5-18.5-2-9.5 9.5 9.5 13 11 5zm-542.5-13l18.5 2 19-2 18.5-1.5 13-8-13-12-18.5 2.5-19 3-18.5 4-3 2.5zm299.5-2.5l18.5-4 3-3-3-5-18.5 4-2 1zm-430.5-21l4.5-4 2-18-6.5-14-3.5-4 3.5-17.5 0-.5 11-18 3-18 4.5-7.5 17.5-10.5 1-10 .5-8 18.5-10 10-8-10-9-19-.5-8.5 9.5 7 18-17 7.5-7.5-7.5-11-5.5-6.5-12.5-12.5-12-18.5-6-1 0-1.5 18 2.5 3 18.5 8.5 13.5 6.5-13.5 7-18.5 5.5-4 5.5-15 16-2.5 2 2.5 5 11.5 13-11.5 10.5-16 7.5 9 18 7 2 19 7 7.5 9 11 9.5 15 8.5zm280.5 9l17-13-17-15.5-11 15.5zm112.5-47.5l4-1.5-4-3-2.5 3zm-112.5-12l19-2 11.5-5.5-11.5-7.5-19 4.5-11 3zm374.5 5.5l18.5 0 0-13 0-18 0-16.5-.5-1.5.5-.5 0-17.5 0-12-14 12-4.5 5-9.5 13 3.5 18-5.5 18zm-168.5-15.5l19-11 5-4.5 4-18 3-18-12-10.5-18-7.5-1-.5-18.5-4-19-5-18.5 6-18-14.5-1-16.5-18.5 13-2.5 3.5-9.5 18 6 18 6 11 2-11 16.5-14 19 7 3.5 7 8 18 7 11.5 3.5-11.5 15.5-11.5 9 11.5 4.5 18zm112.5-12.5l2.5-3 16-9 9-9-9-7-18.5.5-13.5-11.5-5.5-12.5-4.5-5.5-14-9.5-11 9.5-8 4-11 14 11 11 19-3 15 10 3.5 2 16.5 16zm-225-20.5l4-.5-4-1.5-.5 1.5zm-93.5-27.5l3.5-9-3.5-3-18 3zm356-5l7.5-4-7.5-7.5-6.5 7.5zm-706.5-22l-5-13 0 13 0 4.5zm275.5 2.5l5.5-2.5-5.5-6.5-3.5 6.5zm-56-19l1.5-1.5-1.5-.5-.5.5zm187.5 4l4.5-5.5 10.5-18 3.5-4 8.5 4 10 2.5 19 10.5 18.5 5 5.5-18 13.5-16 1.5-2-1.5-11.5-3-6.5-15-18-1-.5-14-17.5-4.5-4-8-14-11-12.5-16-5.5-2.5 0-11 0-7.5 9-4-9-15 0-18.5 0-8.5 0-10.5 8.5-10.5-8.5-8 0-9.5 0-9.5 7.5-18.5 5.5-9.5-13-9.5 0-14.5 0-4 .5-3.5-.5-15 0-12 0 5.5 18 6.5 6.5 18.5 11.5 3.5 0 15 4 3.5-4 15.5-14.5 18.5 6.5 8 8 11 15.5 5.5 2.5 13 3.5 8-3.5-8-14.5-1.5-3.5 1.5-1.5 19-11.5 18.5 9 12 4-12 7.5-12.5 10.5-6 9-4.5 9 4.5 10 6 8 12.5 5 7.5 13 1.5 18zm14.5-77.5l-13-18 17-13.5 13 13.5-3.5 18-9.5 8zm135 77l6-5-6-8-4.5 8zm37.5 3l5.5-8-5.5-18-8 18zm93.5 1l12-9-12-11-10.5-7-8-3-10-15-9-11-18.5 7-5.5 4 4.5 18 1 .5 18.5 2.5 19 6.5 5.5 8.5zm-655-40.5l18.5 4.5 5-9-5-15-4-3 4-2 19-15 1.5-1-1.5-5-19-11-18.5 10-13.5 6 6.5 18 2 18zm168.5-6.5l8.5-16-8.5-11.5-18 11.5zm355.5-5.5l19-10 .5-.5-.5-.5-14.5-17.5 14.5-18 18.5 7.5 18.5 1.5 19 3 4.5-12-4.5-11.5-9.5-6.5-9.5-2.5-18.5-12-18.5.5-3-4-16 0-18.5 0-.5 0 .5 1 6.5 17 .5 18 5.5 18-10.5 18zm112.5-8l18.5 11 8-13.5 11-8.5 5.5-9.5-5.5-11-17-7-2-2.5-5.5-15.5-13-16.5-4-1.5-15 0-5.5 0-9 18 14.5 6.5 8 11.5-6.5 18 12.5 18zm-374.5-17.5l5-3-5-4-5 4zm-243.5-25l7-14-7-15.5-5.5-2.5-13 0-11 0 11 7.5 6.5 10.5zm112.5-5l18.5-7 2-2-2-1.5-14-16.5-4.5 0-19 0-17 0 17 16 3 2zm561.5 2.5l15.5-11.5-11.5-18-4 0-10.5 0-2.5 18z"/><path id="b19" d="M210 1678.5l9.5 5.5 9 0 19 0 .5 0-.5-.5-16.5-17.5 0-18-2.5-8.5-10.5 8.5-8 6.5-4.5 11.5zm93.5-7l3.5 12.5 15 0 17 0-15.5-18 6.5-18-8-12-2.5-6-16-7.5-18.5 7.5-.5 1.5-1 16.5 1 1 18.5 17zm393 4.5l19 2.5 9 5.5 9.5 0 12 0-12-11.5-4-6.5-1-18 5-3 19-9.5 18.5 5 18.5.5 17-11-17-10.5-18.5 8-11.5-15.5.5-18-7.5-12.5-10.5 12.5-8.5 8.5-6-8.5-12.5-12-14 12 1.5 18-6.5 2-3-2-15.5-17.5-19 1-17.5 16.5 17.5 11.5 16.5 6.5-16.5 11-4.5 7 4.5 6.5 19 3.5 5 8zm-187-23l18.5-.5 6-4.5-6-7-3.5-11-15-14.5-19 12.5-18.5-8-19 1.5-6-9.5-1.5-18-11-15.5-5-2.5 5-10 18.5-1 19-4.5 3.5-2.5-3.5-.5-18.5-17.5-.5-2.5-4-15.5-14.5-8.5-18.5-5.5-7.5 14-11.5 8-12 10-6.5 14-2 4 2 2 10 16 8.5 13.5 3.5 4.5 6 18 9.5 10 13 8 5.5 4.5 18.5 2 19 5.5 18.5-9.5 13 15.5zm-103-95l2.5-18 7-9.5 6 9.5-.5 18-5.5 2.5zm-159 80l18.5-.5 18.5-7.5-18.5-5.5-14-12.5 12.5-18-4-18 5.5-5.5 12.5-12.5 6-7 19 6 18.5-16 1.5-1-1.5-4-16-14 16-4 19-12 18.5 1 3-3 8-18-8-18-3-2.5-18.5-5.5-19-6-18.5 7-19 2-11.5 5 11.5 16.5 19-1.5 18.5-4 19 .5 3 6.5-3 11.5-19-5-18.5-1.5-19-3-18.5.5-18.5-.5-1 16-18 12.5-18.5-3.5-3 9 3 4.5 18.5 11.5 5 2-5 3.5-7.5 14.5 3 18 4.5 10 5.5 8-5.5 9.5-3.5 8.5 3.5 9.5 3 8.5zm580 5.5l19-6 18.5-.5 5.5-7-5.5-6-18.5-.5-19-6-17 12.5zm-486.5-25.5l18.5-1 4.5-5-1-18-2-18-1.5-1-18.5-5.5-19 2.5-18.5-9-7.5 13 7.5 5.5 18.5 4.5 4.5 8 9.5 18zm262-1l18.5 11.5 17-16.5-17-8-18.5 4.5-6 3.5zm-93.5-15l18.5 4.5 19 3.5 12-16-12-8-17.5-10-1.5-1.5-18.5-6.5-8 8 5 18zm318 4l11.5-12-11.5-12.5-9.5 12.5zm56.5-3.5l18.5-5.5 3-3 15.5-10.5 0-7.5 0-18 0-18 0-1.5-18.5-1.5-18.5-1.5-12 4.5 3.5 18-.5 18 0 18zm-187.5-27.5l9.5-17-9.5-7.5-16 7.5zm56.5-16l18.5 8 18.5 6.5 8.5-15.5 10.5-4 15.5-14-7.5-18 10.5-14 8.5-4-8.5-6-7.5-12-11-7-19-.5-18.5-5.5-18.5 7-19 4-18.5-4-15.5-12-3.5-5.5-18.5-7.5-9 13-3 18 12 4.5 8.5 13.5 10 5.5 14 12.5 5 4.5 18.5 3.5 12.5 10 6 18zm-225-12.5l14.5-6.5 4.5-16.5 0-1.5 2.5-18-2.5-4-19 .5-18.5-3.5-18-11 1.5-18 8.5-18 8-5 5.5-13-5.5-7.5-19-6.5-18.5 14-.5 0 0 18-18.5 13-5 5 5 8.5 11 9.5 8 7 17 11 1.5 1 13 17 6 8.5 8 9.5zm318.5-15.5l9-9-9-13.5-9.5 13.5zm37.5-21.5l5-5.5-5-3.5-11 3.5zm-693-36.5l3-5 0-18-3-6.5-3.5-11.5-11-18 14.5-17 15 17 4 11.5 10 6.5 8.5 2 19 10 9.5-12-7-18-2.5-2-13-16-6-6.5-18.5 1-19 3-18.5-5 0 7.5 0 18 0 18 0 18 0 8 14.5 10zm412 3.5l18.5-.5 19-3 5.5-5-5.5-8-19-9-1-1-17.5-3.5-18-14.5-.5-2-3 2-13.5 18 16.5 14.5 11 3.5zm262-5.5l19 4.5 15.5-7.5-14.5-18-1-3-1.5 3-17.5 14.5-8.5 3.5zm-599-18l1-3-1-1.5-2.5 1.5zm131-12l19-4.5 18.5.5 3.5-5 2.5-18-6-8-12-10-6.5-17-1-1-18-11-18.5-6-7.5 17 4.5 18-5.5 18 8.5 6 9.5 12zm243.5 1l16-10-1-18 3.5-3.5 5.5-14.5 1.5-18 4-18 8-11.5 4.5-6.5-4.5-3-16-15-3-3-18.5-3.5-5 6.5-14 11.5-7.5 6.5-5.5 18-5.5 11.5-18.5 6-19-.5 0 1 0 .5 19 3 11.5 14.5 7 3 18.5 15 0 .5 11 17.5zm206-5.5l5-4.5-5-1.5-3 1.5zm-543-13.5l10.5-9-10.5-8-16.5 8zm468-3.5l15-5.5-4-18-2.5-18-8.5-10.5-11.5 10.5 4.5 18 3 18zm93.5 8l14-13.5 5-2.5 18.5-1.5 10.5 4 8 6.5 0-6.5 0-18 0-18 0-7.5-18.5-6.5-4-4 4-6 6-12-6-4-8.5 4-10 7.5-11.5-7.5-7.5-12.5-4.5-5.5 4.5-4 8-14 2-18-10-18-5.5 0-13 .5-19 12.5-18.5-2.5-19-9-15.5 16.5 15.5 18 .5 0 18.5 7 16.5 11 2 1.5 17.5 16.5-5 18 6.5 6.5 14.5 11.5-1.5 18-3 18zm-374.5-22l6-9.5-6-6-3.5 6zm243.5-1l7-8.5-7-8.5-8 8.5zm-524-37.5l18.5-4.5 19-1.5 5-1-5-9-19 2-18.5-6-11 13zm505.5.5l10.5-7.5-10.5-10-12.5 10zm-449.5-22.5l1.5-3-1.5-2.5-7 2.5zm93.5 8l11.5-11 1-18-12.5-10-4.5 10-2 18zm206-13.5l8.5-15.5 7-18-15.5-12.5-10.5-5.5-8-6.5-19-4-18.5.5-11 10 11 6 18.5 11 3 1 16 6.5 13 11.5zm-262-26l8-7.5-8-11.5-6 11.5zm393-6.5l1-1-1-.5-.5.5zm-75-9.5l7-9.5.5-18-4.5-18-3-15-4.5 15-3.5 18-7 18zm131.5-2.5l16.5-7-15-18 17-12.5 18.5 11.5 13.5-17-2.5-18-11-14.5-2-3.5 2-1.5 19-14 3-2.5-3-3-19-9-18.5 6.5-5 5.5-13.5 16-7 2-12 4-18.5 10.5-3 3.5-8.5 18 11.5 8.5 17 9.5 1.5 1 12 17zm168-4l0-3 0-18 0-4-18.5-4.5-8.5 8.5 8.5 11.5 13.5 6.5zm-542.5-16l18.5 4.5 19-1 18.5-1.5 11-7-11-10-18.5 1.5-19 3-18.5 4.5-1.5 1zm318-4.5l.5-.5-.5-.5-5.5.5zm-449-16.5l2-2 2.5-18-4.5-9.5-7-8.5-9.5-18 16.5-4 8.5-14 2.5-18 7.5-13 8.5-5-8.5-5-13.5-13-5-2.5-2.5 2.5-16.5 8.5-18.5 6.5-2 3-17 18 15.5 18 3.5 14.5 10 3.5-10 .5-3-.5-16-4-8 4 8 18 19 7.5 8.5 10.5 10 8.5 17 9.5zm280.5 10l16-12-16-14.5-10 14.5zm0-64l19 1 5.5-3-5.5-3.5-19 3-2.5.5zm374.5 9.5l18.5-3.5 0-8 0-18 0-11.5-2.5-6.5 2.5-2.5 0-15.5 0-11-12.5 11-6 6.5-8 11.5 3 18-5 18zm-168.5-16.5l19-9.5 4-3.5 3.5-18 3.5-18-11-9.5-19-7.5-3-1-15.5-3.5-19-4-18.5 5.5-19-13-7.5-3-11-1.5-1 1.5-9.5 18 8.5 18 2 3.5.5-3.5 18-15 19 4 6 11 9 18 3.5 5.5 1.5-5.5 17.5-13 10 13 4.5 18zm112.5-12.5l.5-.5 18-10.5 8-7.5-8-6-18.5 2-16-14-3-7-8.5-11-10-6.5-7.5 6.5-11.5 5.5-9.5 12.5 9.5 9.5 19-3 18 11.5.5.5 18.5 17.5zm-318.5-49l2-5.5-2-1.5-11 1.5zm356-2.5l6-3-6-6-5.5 6zm-709-21l-2.5-7 0 7 0 2.5zm53.5 10l11-10-11-10.5-18 10.5zm56 5l19-8.5 8.5-6.5-8.5-7.5-19-.5-7 8zm168.5-14l2-1-2-2-1 2zm131.5-14.5l3.5-4.5 10-18 5-6 12 6 6.5 1.5 19 10.5 18.5 1.5 4-13.5 15-17.5 0-.5 0-2-7-16-12-14.5-3-3.5-12.5-18-3-2.5-9-15.5-10-11.5-18.5-6-17 17.5 17 3.5 13.5 14.5 1 18-14.5 12-6-12-12-18-.5-10-1-8-9.5-18-8.5 0-18.5 0-5 0-14 11.5-14-11.5-4.5 0-5 0-14 11-18.5 7-13-18-6 0-9 0-9.5 1.5-9-1.5-9.5 0-7.5 0 2 18 5.5 5.5 18.5 11.5 18.5 0 19-17 18.5 6.5 11 11.5 8 11 12-11 6.5-7 19-8 18.5 9.5 16.5 5.5-16.5 11-8.5 7-10 14.5-2 3.5 2 4 11 14 7.5 3 8.5 15 2.5 18zm149.5-.5l5-4-5-6.5-3.5 6.5zm37.5 3l4.5-7-4.5-15.5-7 15.5zm93.5.5l10-7.5-10-9-11 9zm-37.5-23l19 3.5 5-6-5-2-11-16-8-10.5-18.5 7.5-4 3 4 14.5 3.5 3.5zm-617.5-18l18.5 5 4.5-7.5-4.5-12-8-6 8-3.5 18.5-14.5-18.5-14.5-18.5 9.5-11.5 5 6.5 18 2 18zm168.5-6.5l7.5-14-7.5-10-15.5 10zm355.5-4.5l18-9.5-14.5-18 14-18 1.5-9 2.5 9 16 6.5 18.5 1.5 19 .5 3-8.5-3-8.5-14.5-9.5-4.5-1.5-18.5-11.5-18.5 7-7.5-12-11.5 0-14 0 4 18-.5 18 6 18-10.5 18zm112.5-8l18.5 9.5 6.5-11 12.5-9.5 5-8.5-5-9.5-19-7-.5-1.5-6.5-18-11.5-14.5-8.5-3.5-10.5 0-3.5 0-9 18 12.5 5.5 9 12.5-6 18 13 18zm-374.5-19l.5-.5-.5-.5-.5.5zm56 0l2-.5-2-3-2.5 3zm-299.5-26l5-10.5-5-11.5-9 11.5zm112.5-3.5l18-7-15-18-3 0-19 0-14 0 14 13 6.5 5zm561.5 3.5l14.5-10.5-14.5-18-.5 0-11.5 18zm-692.5-25.5l4.5-3-4.5 0-4 0z"/><path id="b18" d="M210 1672l18.5 8 1.5-14-1-18-.5-2-2.5 2-16 13-2 5zm112 12l13 0-13-15-11.5 15zm374.5-9.5l19 1.5 12.5 8 6 0 7.5 0-7.5-7-6.5-11-.5-18 7-4.5 19-12 13-1.5-8-18 1.5-18-6.5-10.5-9 10.5-10 10-7-10-11.5-11-13 11 11 18-17 4.5-8-4.5-10.5-12-19-3.5-16 15.5 16 11 18.5 7-18.5 12-3.5 6 3.5 5.5 19 .5 7.5 12zm-393-10l18.5-1.5 6-15-6-9-4.5-9-14-7-17 7-.5 18zm206-12.5l18.5-1.5 3-2.5-3-3.5-4.5-14.5-14-13-19 12-18.5-8-19 3-8-12-.5-18-10-14.5-8.5-3.5-10-12-19-4.5-7 16.5 7 11.5 5 6.5 6.5 18 7.5 8 16.5 10 2 1.5 18.5 3 19 6.5 18.5-10 14 17zm-262-15l18.5-1.5 14.5-5.5-14.5-4-15.5-14 9.5-18-2-18 8-8 10-10 8.5-10 19 7.5 18-15.5-18-17-4.5-1 4.5-1.5 18.5-4.5 19-11.5 18.5 1 1.5-1.5 8.5-18-8.5-18-1.5-1.5-18.5-4-19-6.5-18.5 5.5-19 2.5-9 4 9 13 19 1 18.5-4.5 19-1.5 4.5 10-4.5 17-19-9-18.5-1-19 .5-18.5 2.5-16 8-2.5 1-19 12.5-18.5-1.5-2 6 2 3 18.5 10.5 10.5 4.5-10.5 7-6 11 4 18 2 4 9 14-9 15.5-1 2.5 1 3 5 15zm542.5 2.5l15-9.5-15-9.5-18.5 9.5zm37.5 3l19-7.5 18.5 1 4.5-6-4.5-5-18.5.5-19-7-16 11.5zm-486.5-30.5l18.5 2.5 2-2.5 1-18-3-16.5-1.5-1.5-17-5.5-19 2.5-18.5-5.5-5 8.5 5 3.5 18.5 4 6 10.5 13 18zm262 4l18.5 11 15.5-15-15.5-7-18.5 4.5-4.5 2.5zm-93.5-16.5l18.5 6 19 3 10.5-14.5-10.5-7-18.5-11-.5 0-18.5-5-5 5 3 18zm318 5l10.5-10.5-10.5-11-8.5 11zm56.5-3.5l17.5-7 1-.5 18.5-12.5 0-5 0-18 0-18 0-.5-18.5-1.5-18.5-1.5-9 3.5 2 18 3 18-3.5 18zm-505.5-42.5l3-.5 15.5-1 10-17-10-8.5-10 8.5-8.5 18-.5 0zm56 1l8.5-1.5 8.5-18-5.5-18-11.5-6.5-18.5-3-5 9.5 5 6 7.5 12 9 18zm262 13l8.5-14.5-8.5-6.5-14 6.5zm75-7l18.5-.5 3.5-7 15.5-5.5 13.5-12.5-7-18 12-16 4-2-4-3-10-15-8.5-5.5-19 0-18.5-6.5-18.5 6.5-19 4.5-18.5-4-17-13-2-3-18.5-8.5-8 11.5 4 18 4 1.5 10 16.5 8.5 4.5 15 13.5 4 3.5 18.5 4 13.5 10.5 5.5 16 2.5 2zm-243.5-19.5l12.5-6 5-18 1.5-12 .5-6-.5-1-19-2-18.5-2-17 5 12.5 18 4.5 7 9.5 11zm318.5-16l7.5-8-7.5-11.5-8 11.5zm37.5-22l4-4-4-3-8.5 3zm-412-16.5l14.5-5.5 1-18 3-5 7-13 12-8 4.5-10-4.5-6-19-7-17.5 13 3.5 18-4.5 3-19 11.5-4 3.5 4 6.5 13 11.5zm-281-21.5l1-2 .5-18-1.5-3-4.5-15-11-18 15.5-18-18.5-4.5 0 4.5 0 18 0 18 0 18 0 6 17 12zm412 3l18.5 2 19-3.5 3.5-3.5-3.5-5.5-19-9.5-4.5-3-14-3-18.5-14.5-15.5 17.5 15.5 13.5 14 4.5zm262-4l19 6 14-7-14-17-19 16-2.5 1zm-636.5-36l19 9 8-10-7.5-18-.5-.5-14-17.5-5-5.5-18.5 3.5-18.5 2 15.5 18 3 9 14.5 9zm168.5 7l19-4.5 18.5 0 2.5-3.5 3-18-5.5-7-13.5-11-5-13.5-4-4.5-15-9-18.5-4.5-6 13.5 5 18-5.5 18 6.5 5 11 13zm243.5 0l12.5-8-2.5-18 8.5-8 4-10 2-18 2.5-18 10.5-15.5 1.5-2.5-1.5-1-18-17-1-1-18.5-1.5-2 2.5-17 14.5-4.5 3.5-5.5 18-8.5 17-7.5 1 4.5 18 3 1.5 18.5 12 5 4.5 7.5 18zm-337-18l9.5-8-9.5-7.5-15 7.5zm468-4l10.5-4-1-18-2-18-7.5-9.5-10.5 9.5 4.5 18 3 18zm93.5 6l10-10 9-5 18.5-.5 14 5.5 4.5 3.5 0-3.5 0-18 0-18 0-5-18.5-7.5-6-5.5 6-8.5 4.5-9.5-4.5-3-6.5 3-12 9-14-9-5-9-7.5-9 7.5-7 6-11 3-18-9-16-18.5 1.5-19 11-18.5-3.5-19-6-12 13 12 14.5 4 3.5 15 5.5 18.5 12.5 19 17.5 1 .5-1 1-5.5 17 5.5 5.5 16 12.5-.5 18-3 18zm-374.5-21l4.5-7-4.5-4.5-2.5 4.5zm243.5.5l6-7.5-6-7.5-7 7.5zm-524-39l18.5-3.5 17.5-1-17.5-2-18.5-6-7 8zm505.5 2l9-6.5-9-8.5-11 8.5zm-356-15.5l9.5-9-5.5-18-4-3-1.5 3-3.5 18zm206-16.5l6-10.5 8-18-14-11.5-12.5-6.5-6-4.5-19-4.5-18.5 1.5-8.5 7.5 8.5 4.5 18.5 10.5 6.5 3 12.5 5 14.5 13zm-262-22.5l6-6-6-9-4.5 9zm318-16.5l5.5-7.5 1-18-4.5-18-2-10-3 10-4 18-4.5 18zm131.5-1.5l14-6-13.5-18 18-13 18.5 10 12-15-3-18-9-11.5-4-6.5 4-3 19-13.5 1.5-1.5-1.5-1.5-19-9-18.5 6-4 4.5-14.5 17-4 1-15 4.5-18.5 11.5-2 2-7.5 18 9.5 7 18.5 10.5 7.5.5 5.5 18zm168-4.5l0-1.5 0-18 0-.5-18.5-7-7.5 7.5 7.5 10 16.5 8zm-542.5-19l18.5 7.5 19-.5 18.5-1.5 9-6-9-8.5-18.5 1-19 2.5-18.5 5-.5 0zm-131-18.5l2.5-18-2.5-5-10.5-13-8.5-13.5-18.5-.5-18-4-1 0-.5 0 .5 1 3.5 17 15.5 6 9.5 12 9 7.5 18.5 10.5zm280.5 11l14.5-11-14.5-13-9.5 13zm374.5-55l18.5-6.5 0-3.5 0-18 0-6.5-5-11.5 5-4 0-14 0-9.5-11.5 9.5-7 8-7 10 2.5 18-4 18zm-674-11.5l19-6.5 6-10 2-18 10-18-18-17-19 8.5-18.5 8.5-13.5 18 13.5 16.5.5 1.5zm505.5-6l19-8 3-2.5 3.5-18 3.5-18-10-8.5-19-6-8-3.5-10.5-2.5-19-3-18.5 5-19-9-18.5-8-9.5 17.5 9.5 17 18.5-15 19 .5 8 15.5 10.5 17.5 19-13.5 11 14 4 18zm112.5-18l18.5-4 6.5-6.5-6.5-5-18.5 3-11 2zm-56.5-20.5l19-3.5 18.5 0 1-4.5-1-1.5-13-16.5-5.5-3.5-4.5 3.5-14.5 7.5-8.5 10.5zm-262-24.5l.5-1.5-.5-.5-3.5.5zm356 1l4.5-2.5-4.5-4.5-4.5 4.5zm-711-20.5l-.5-1 0 1 0 .5zm55.5 8.5l9.5-8.5-9.5-9-15.5 9zm56 3l19-6 7.5-5.5-7.5-6.5-19 .5-5 6zm300-26l2.5-3.5 9.5-18 6.5-7.5 15.5 7.5 3 1 19 10.5 18.5-2 3-9.5 12-18-7-18-8-9.5-7-8.5-10.5-18-1-1-9.5-17-9.5-10.5-18.5-2.5-12.5 13 12.5 2.5 14.5 15.5 4 17.5 1 .5-1 1-18.5 15.5-7.5-16.5-11-16.5-19 12.5-4.5 4-12.5 18 14 18 3 1 10 17 3 18zm149.5-.5l3.5-3-3.5-4.5-2.5 4.5zm37.5 3l4-6-4-13.5-6 13.5zm93.5 0l8-6-8-7.5-8.5 7.5zm-37.5-22.5l19 1.5 2.5-3-2.5-1-11.5-17-7.5-9.5-18.5 8-2.5 1.5 2.5 9 9.5 9zm-617.5-19l18.5 5 3.5-5.5-3.5-9.5-12-8.5 12-5.5 16.5-12.5-16.5-12.5-18.5 8-10 4.5 7 18 2.5 18zm168.5-6.5l6.5-12-6.5-8.5-13 8.5zm355.5-3l16-9-13.5-18 13-18 2.5-18-11.5-18-6.5 0-8 0-.5 18-1 18 6 18-10 18zm112.5-8.5l18.5 8 5-8.5 14-10.5 4-7.5-4-8-19-5-1.5-5-7-18-10-12.5-13.5-5.5-5.5 0-2 0-8.5 18 10.5 5 9.5 13-4.5 18 13 18zm-337-30l7-6.5 11.5-12 19-4.5 18.5 9.5 16-11-14-18-2 0-18.5 0-1 0-18 14.5-18-14.5-.5 0-.5 0-18.5 14.5-9 3.5 9 3 14.5 15zm262-1.5l18.5 2 19-1.5 2-5.5-2-5-19-13-18.5-12-18.5 12 6 18zm-543-16.5l3.5-6.5-3.5-7.5-5.5 7.5zm112.5-1.5l13-5-11.5-18-1.5 0-19 0-11 0 11 10.5 10 7.5zm75-.5l18.5 11.5 18.5-7 10-9-8-18-2 0-3 0-15.5 2.5-14.5-2.5-4 0-3.5 0-1 18zm486.5 5l13-9.5-13-16.5-11 16.5z"/><path id="b17" d="M322 1684l9.5 0-9.5-10.5-8 10.5zm374.5-11.5l19 1.5 9-8 .5-18 9-6 17.5-12 1.5-5.5 3-12.5 2.5-18-5.5-9-7.5 9-11.5 11.5-8-11.5-10.5-10-11.5 10 11.5 17 2.5 1-2.5 7.5-19-.5-12.5-7-6-6.5-19-8-15 14.5 15 10 19 1 2.5 7-2.5 10-19 3.5-3 4.5 3 4.5 19-2 9.5 15.5zm37.5 11.5l3 0-3-2.5-2 2.5zm-430.5-22.5l18.5-4 4-9.5-4-5.5-6-12.5-12.5-6-15 6 .5 18zm206-10.5l18.5-2.5 0-.5-5.5-18-13-12-18.5 12 15 18zm-262-15l18.5-2 10.5-4-10.5-3-16.5-15 6-18 0-18 10.5-11 7-7 11.5-13 19 9.5 17-14.5-17-15.5-12-2.5 12-4 18.5-3.5 16.5-10.5-16.5-8.5-18.5-.5-19 3.5-18.5 5-1 .5-17.5 7.5-19 6.5-18.5 1.5-1 2.5 1 1.5 18.5 10 16 6.5-16 11-4 7 4 15.5 1.5 2.5 11 18-7 18 2 18zm205.5-3.5l19 7.5 18.5-10-18.5-8.5-19 5-9.5-14.5 0-18-9-13-11.5-5-7-8-19-6-6 14 6 9.5 6.5 8.5 7 18 5.5 5.5 18.5 11 5 1.5zm337 6l13.5-8.5-13.5-8-16 8zm37.5 3l19-9 18.5 2 3.5-4.5-3.5-4-18.5 2-19-8.5-14.5 10.5zm-224.5-27l18.5 10.5 14-13-14-6.5-18.5 5-2.5 1.5zm-262-4l18.5 1.5 2.5-18-2.5-12.5-5-5.5-13.5-4-19 2-18.5-2-2.5 4 2.5 2 18.5 3.5 7 12.5zm168.5-14l18.5 8 19 2.5 9.5-13-9.5-6.5-19-10-9-1.5-9.5-2.5-2.5 2.5 1.5 18zm318 7l9-9.5-9-9.5-7.5 9.5zm56.5-4l13.5-5.5 5-4 18.5-11.5 0-2.5 0-18 0-14-4-4-14.5-1.5-18.5-.5-6 2 0 18 6 17.5.5.5-.5 1-6 17zm-187.5-29l7-12.5-7-5.5-12 5.5zm75-6.5l18-6 .5-2.5 19-5 11.5-10.5-6-18 13-18-12-18-6.5-4-19 .5-18.5-7.5-18.5 6.5-19 4.5-18.5-4-18.5-14-.5-.5-18.5-9-7 9.5 7 17 .5 1 11.5 18 6.5 3.5 16 14.5 3 2.5 18.5 4 14.5 11.5 4.5 13.5 5.5 4.5zm-.5-24l.5 0 1 0-1 .5zm-18.5-36l.5 0 0 1zm-355.5 50l8-14-8-7-8 7zm37.5 2l14.5-16-6-18-8.5-5-18.5-.5-3 5.5 3 3.5 9 14.5zm93.5-11l10.5-5 5-18 0-18-15.5-2-18.5-1.5-12 3.5 8.5 18 3.5 5 11 13zm318.5-16.5l6.5-6.5-6.5-9.5-7 9.5zm-487-24.5l9-18-8.5-18-.5 0-18.5-3-19-7-18.5 4-19 3.5-6 2.5 6 9.5 19 3 18.5-5 19-3 6 13.5 12 18zm524.5 3l2.5-3-2.5-2-6 2zm-412-17.5l9.5-3.5 2-18 7-12 3.5-6 15.5-10.5 3.5-7.5-3.5-4.5-19-7.5-16.5 12 10 18-12 7-19 8.5-2.5 2.5 2.5 4.5 15 13.5zm131-20l18.5 4.5 19-3.5 2-2.5-2-3.5-19-9-8.5-5.5-10-2-18.5-14-14.5 16 14.5 12.5 17 5.5zm281 5l13-6.5-13-15.5-18 15.5zm-693-24.5l-5.5-18-10.5-18 5-18-7.5-2 0 2 0 18 0 18 0 18 0 4.5zm56.5-9.5l6.5-8.5-6.5-15.5-2-2.5-13-18-4-4.5-17.5 4.5-1 2-2 16 2 6 18.5 12zm149.5-1.5l19-4.5 18.5-.5 1-2 3.5-18-4.5-6-15-12-3.5-10.5-7-7.5-12-7.5-18.5-2.5-4.5 10 4.5 14.5 1 3.5-1 4-4.5 14 4.5 3.5 12 14.5zm243.5-1l9.5-6-4-18 13-13 2-5 3-18 .5-18 7-18-12.5-10.5-18.5-4-19 13.5-1.5 1-6 18-7.5 18 0 18 15 7.5 11.5 10.5 2.5 18zm-337-17l8.5-7-8.5-6.5-13.5 6.5zm468-4.5l6.5-2.5 1.5-18-1-18-7-8.5-9.5 8.5 4.5 18 3.5 18zm93.5 4l6.5-6.5 12.5-7 18.5.5 17.5 6.5 1 1 0-1 0-18 0-18 0-3-18.5-8-8-7-10.5-7.5-16-10.5-3-5-10 5-8.5 5.5-4 12.5 4 4 18 14-.5 18-3 18zm-374.5-19.5l3-5-3-3-1.5 3zm243.5 1l5-6-5-6.5-6 6.5zm-524-40.5l9.5-1.5-9.5-3-2.5 3zm505.5 3.5l7.5-5-7.5-7-9 7zm-356-16l7-7-7-15.5-4 15.5zm543-.5l3-6.5-3-2-4.5 2zm-337-19l3-5.5 10-18-13-10.5-14.5-7.5-4-3-19-5-18.5 3-5.5 5 5.5 3 18.5 10 10.5 5 8.5 3.5 16.5 14.5zm281 7.5l8.5-13 10-9.5 4.5-8.5 3-18-7.5-14-18.5 2.5-19 9.5-18.5-4-19-4-9 10 9 11 8 7 11 4 18.5 11 5 3zm-543-26.5l4.5-4.5-4.5-6.5-3.5 6.5zm318-17l4.5-5.5.5-18-4-18-1-5.5-1.5 5.5-4 18-3 18zm131.5 0l12-5.5-12-17-5 17zm-356-17l19 .5 18.5-2.5 7-4.5-7-6.5-18.5-.5-19 3-15.5 4zm505.5 2l16.5-8.5-16.5-6.5-6.5 6.5zm-374.5-16.5l13.5-10-13.5-12-8.5 12zm187.5-4l18.5 9.5 19 1.5 18.5-13 18.5 9 10-13-3.5-18-6.5-8.5-6-9.5 6-4.5 19-13.5-19-9.5-18.5 6-3 3.5-15.5 18-1 0-18 5.5-18.5 11.5-1 1-6.5 18zm-487-17.5l19-4 0-2.5 0-.5-14-17.5-5-8-18.5-2.5-12 10.5 12 5 11 13zm674-34.5l17.5-8 1-8.5 0-9.5 0-1.5-7-16.5 7-6 0-12 0-8.5-10 8.5-8.5 10-6 8 2.5 18-3.5 18zm-674-11.5l19-8.5 3.5-6 1.5-18 3.5-18-8.5-8.5-19 1.5-15.5 7-3 7-8.5 11 8.5 10 2.5 8zm505.5-6.5l19-6 2-2 3-18 4-18-9-7.5-19-5-13-5.5-5.5-1-19-3-15.5 4 7.5 18 8 13.5 19-11 12 15.5 4 18zm112.5-25l18.5 4.5 5.5-5.5-5.5-4-18.5 4-1 0zm-56.5-12l19-4.5 12-2.5-11-18-1-.5-1 .5-18 9-7 9zm-149.5-10.5l18.5-13.5 12-1-12-4-18.5-11-8 15zm243.5-12.5l3-2-3-3.5-3 3.5zm-655.5-12.5l8-7.5-8-8-13 8zm56 0l19-3 6-4.5-6-5-19 1-3.5 4zm300-23.5l1.5-2 9-18 8-9.5 18.5 9.5 19 10.5 18.5-5.5 1.5-5 8.5-18-6-18-4-4.5-11.5-13.5-7-15.5-1.5-2.5-9-18-8.5-9.5-18.5 1.5-8 8 8 1.5 15.5 16.5 3 13.5 7.5 4.5-7.5 9.5-11.5 8.5-7 2-.5-2-9-18-9-13.5-19 12.5-1 1-11 18 12 15.5 1 2.5 10 18 4 18zm149.5 0l2.5-2-2.5-3-1.5 3zm37.5 3l3-5-3-11-5 11zm93.5-.5l6-4.5-6-5.5-6.5 5.5zm-37.5-22l15-.5-8.5-18-6.5-8.5-18.5 8-1 .5 1 3 15.5 15zm-599-14.5l2.5-4-2.5-6.5-14 6.5zm-18.5-14l2-8 16.5-7 14-11-14-10.5-18.5 7-8 3.5 6.5 18zm168.5 1.5l5-9.5-5-7-11 7zm355.5-1.5l14-8-12.5-18 12.5-18 .5-18-12.5-18-2 0-2.5 0-4.5 18-1.5 18 6.5 18-10 18zm131-2l3.5-6 15.5-12 3.5-6-3.5-7-19-2.5-3-8.5-7-18-8.5-11-18-7-1 0-8 18 8 4 10 14-3.5 18 12.5 17 3 1zm-355.5-40l2-2 16.5-17.5 6-.5-6-.5-18.5-8.5-18 9 16.5 18zm262 1.5l18.5 2.5 19-4 .5-2-.5-2-19-13-2-3-16.5-10.5-16 10.5 7 18zm-543-18.5l1.5-3-1.5-3.5-2.5 3.5zm112.5 0l8-3-8-18-19 0-8 0 8 8 13.5 10zm75 .5l18.5 11.5 18.5-14 1-1-1-3.5-18.5-11-18.5-2.5-3.5 17zm149.5 6l13.5-9.5-13.5-16-18 16zm337-1l12-8.5-12-15-10 15z"/><path id="b16" d="M322 1684l5.5 0-5.5-6-4.5 6zm374.5-13l19 .5 6.5-5.5 1-18 11-7 15.5-11 3.5-13 1-5 3.5-18-4.5-7-6.5 7-12.5 13-9-13-9.5-9-10.5 9 10.5 15.5 6 2.5-6 16.5-19-7-12.5 8.5-5.5 18 11.5 18zm-393-12.5l18.5-6 2-4.5-2-2.5-7.5-15.5-11-5-13 5 2 18zm206-8l13.5-2.5-1.5-18-12-11-17 11 14.5 18zm149.5 1l17-3.5-17-3.5-2 3.5zm-411.5-16.5l18.5-2.5 6.5-2.5-6.5-1.5-18-16.5 3-18 2-18 13-13.5 4.5-4.5 14-16 19 11 15.5-13-15.5-14.5-19-1-18.5 4-9-6.5-9.5-4.5-19 1.5-17.5 3 17.5 9 19 2 5 7-5 1-19 13.5-2 3.5 2 8 7 10 9 18-1.5 18-5 18zm205.5-4l19 8 16.5-9-16.5-7.5-19 7-3.5.5zm337 6.5l11.5-7.5-11.5-7-13.5 7zm37.5 3l19-10.5-19-9.5-13 9.5zm37.5-7l2.5-3.5-2.5-2.5-18.5 2.5zm-449-18l18.5 10 7.5-13.5.5-18-8-11.5-15-6.5-3.5-4-19-7-5 11 5 8 8 10 8 18zm187-2.5l18.5 10.5 12.5-11.5-12.5-5.5-18.5 5-1 .5zm56 8.5l19-7.5 1-2-1-1-19-12.5-14 13.5zm-318-12.5l18.5-3 1.5-12-1.5-8.5-9-9.5-9.5-3-19 2-17 1 17 3 8 15zm187-5l19 1.5 8.5-11.5-8.5-5.5-19-9.5-18 15zm299.5-1.5l8-8.5-8-8.5-6.5 8.5zm56.5-4.5l10-4 8.5-7.5 18.5-10.5 0-.5 0-17.5 0-7.5-10.5-10.5-8-.5-18.5-.5-3 1-1.5 18 4.5 13 5 5-5 6-4 12zm-187.5-29.5l6-10.5-6-4.5-10 4.5zm75-5.5l13.5-5 5-14.5 19 5.5 9.5-9-5.5-18 13-18-13-18-4-2.5-19 1-18.5-8.5-18.5 6.5-16.5 3.5-2.5 2.5-3.5-2.5-15-3-19-13.5-2-1.5-16.5-8-6 8 6 14 2.5 4 11.5 18 4.5 2.5 17.5 15.5 1.5 1.5 18.5 4.5 15 12 4 10.5 8.5 7.5zm-4-23l4-5 15 5-15 4.5zm-18.5-36l4-3.5 3 3.5-3 6zm-352 47l6.5-11-6.5-5-6.5 5zm37.5 2l12-13-6.5-18-5.5-3-18.5 2-1 1 1 1 11 17zm93.5-9l8.5-4 5.5-18-4-18-10-1-18.5-1-7 2 4.5 18 2.5 3.5 12.5 14.5zm318.5-16.5l5-5.5-5-8-5.5 8zm-562-15.5l19 3 18.5-2.5 14-8.5-14-7-18.5-.5-19 7-1 .5zm599.5-6l1.5-2-1.5-1-4 1zm-524.5-4l8-16-8-16-13-2-5.5-.5-19-7-18.5 2.5-19 3.5-3.5 1.5 3.5 5.5 19 6 18.5-5.5 19-4.5 7.5 16.5zm112.5-14.5l4-1.5 3-18-7-7-19 5.5-1.5 1.5 1.5 2.5 17.5 15.5zm149.5-14.5l19-4 .5-1-.5-1-19-9-12.5-8-6-1-18.5-14-13.5 15 13.5 11.5 18.5 2 2 4.5zm262.5.5l11.5-5.5-11.5-14-16 14zm-700-23.5l.5-18-10.5-18-1.5-15 0 15 0 18 0 18 0 3zm63.5-11.5l5-6.5-5-12-5-6-11-18-3-3-12.5 3-6 10-1 8 1 3 18.5 12 4.5 3zm149.5-.5l19-5 18.5-1 3.5-18-3.5-5-16-13-2.5-7-10-11-9-5.5-18.5-1-3 6.5 3 9.5 3.5 8.5-3.5 9.5-3 8.5 3 2 13 16zm93.5 12l19-13 2-5-2-3-19-8-15 11zm150-14l6.5-4-6-18 18-17.5 0-.5 3.5-18-.5-18-3-14-8.5-4-10-4-8 4-11 4-4.5 14-5.5 18 6.5 18 3.5 2 18 16-2.5 18zm-337-16l7.5-6-7.5-5.5-11.5 5.5zm468-5l2.5-1 4-18-.5-18-6-7.5-8 7.5 3.5 18 4 18zm93.5 2l3-3 16-9 18.5 1 18.5 5.5 0-15.5 0-18 0-1-18.5-8-10-9-8.5-6.5-18-11.5-1-1.5-3 1.5-15.5 9.5-2.5 8.5 2.5 2.5 18.5 14.5 1.5 1 .5 18-2 7-2 11zm-374.5-18.5l1.5-2.5-1.5-1.5-1 1.5zm243.5 2.5l4.5-5-4.5-5-5 5zm-18.5-37l5.5-4-5.5-5.5-7 5.5zm-356-17l5-5-5-10.5-2.5 10.5zm543-1l2-4-2-1-2.5 1zm-337-21l.5-1 11-18-11.5-9.5-16.5-8.5-2-1.5-19-5.5-18.5 4.5-2.5 2.5 2.5 1.5 18.5 9.5 14.5 7 4.5 2 18 16zm281 7.5l5.5-8.5 13-12.5 3-5.5 3.5-18-6.5-12-18.5 3-19 9-18.5-5.5-19-1-6 6.5 6 7.5 12 10.5 7 2.5 18.5 9 10 6.5zm-543-23.5l3-3-3-4-2 4zm318-17.5l3-3.5 1-18-3.5-18-.5-.5 0 .5-4 18-1.5 18zm131.5 1l10-4.5-10-14-4.5 14zm-356-17.5l19 1 18.5-2.5 5.5-3.5-5.5-5-18.5-1-19 3-11.5 3zm505.5 2.5l14-7.5-14-5.5-5.5 5.5zm-374.5-16.5l12-9-12-11-7.5 11zm187.5-4.5l18.5 9 19 1 18.5-11 18.5 7 8.5-10.5-4-18-4.5-5.5-8.5-12.5 8.5-6 17-12-17-8.5-18.5 6-2.5 2.5-14 18-2 4.5-19 2-18.5 11.5 0 1.5-6 16.5zm-487-17l16.5-5.5-14.5-18-2-2.5-18.5-5-8.5 7.5 8.5 3.5 12 14.5zm674-35l14-6.5 2-18-7-18-9-6.5-4.5 6.5 1.5 18-2.5 18zm-674-11.5l19-11 1-2 1-18-2-17.5-.5-.5-18.5-5.5-12.5 5.5-6 14-3 4 3 3.5 4.5 14.5zm505.5-7l19-5 .5-1 3-18 4-18-7.5-7-19-3.5-18-7.5-.5 0-19-2-8 2 2.5 18 5.5 10 19-8.5 13 16.5 3.5 18zm131-20l4-4-4-3-14.5 3zm-75-16.5l19-5 3-.5-3-5.5-19-2-5.5 7.5zm131 5l0-10.5 0-7-8.5 7zm-280.5-16.5l17.5-12-17.5-12.5-7 12.5zm243.5-11l2-1-2-2-2 2zm-655.5-13l6.5-6-6.5-6.5-11 6.5zm56-2l19-.5 4.5-3.5-4.5-4-19 2-1.5 2zm300-21l.5-1 8.5-18 9.5-11 17.5-7 1-14 1 14 .5 18 17.5 10 18.5-9 .5-1 4.5-18-5-16.5-1-1.5-14.5-18-3-6.5-4.5 6.5-14.5 17.5-.5.5-18 5-2-5-9.5-18-7-10.5-16 10.5-3 6.5-6.5 11.5 6.5 8.5 4 9.5 8 18 5 18zm149.5 0l1-1-1-1.5-.5 1.5zm37.5 3l2.5-4-2.5-8.5-4 8.5zm93.5-1l4-3-4-3.5-4 3.5zm-636.5-37l1.5-2-1.5-3.5-8 3.5zm599 15l6-17-6-7.5-17.5 7.5zm-449-27.5l4-7.5-4-5.5-8.5 5.5zm355.5-.5l12.5-7-12-18 12-18-1.5-18-11-15-5 15-2.5 18 7 18-10 18zm131-3.5l2-3.5 17-13 3-5-3-5.5-19-.5-4-12-7.5-18-7-9-19-5-6 14 6 3 11 15-3 18 11 14.5 10 3.5zm-655-5.5l18.5-7 11.5-9-11.5-9-18.5 6-6.5 3zm411.5-24l13-10-5.5-18-7.5-8.5-18.5 5-3 3.5 3 .5 16.5 17.5zm150-8l18.5 2.5 17.5-4.5-17.5-12.5-4.5-5.5-14-9-14 9 8.5 18zm-430.5-18.5l3-1.5-3-8-2.5 8zm75 1l18.5 11.5 17.5-14-17.5-13.5-18.5 2-2.5 11.5zm149.5 5.5l11.5-8-11.5-13.5-15 13.5zm337 0l10.5-8-10.5-13.5-9 13.5zm-580.5-21l13.5-5-13.5 0-5.5 0z"/><path id="b15" d="M322 1684l2 0-2-1.5-1.5 1.5zm374.5-14.5l19 0 3.5-3.5 2-18 13-8.5 13.5-9.5 3-18-16.5-4-9.5 4-7 18-2 4.5-5-4.5-14-6-8.5 6-8.5 18 12.5 18zm-393-13.5l17.5-8-8-18-9.5-4.5-11 4.5 3 18zm206-6.5l8-1.5 3-18-11-10-15.5 10 14 18zm149.5 1l11.5-2.5-11.5-2-1.5 2zm-411.5-16.5l18.5-3 2.5-1-2.5-.5-18.5-15-7.5 15.5zm224.5 4.5l15-8.5-15-7-17.5 7zm318-2.5l9.5-6-9.5-6-11.5 6zm37.5 3.5l17-9.5-17-8.5-12 8.5zm37.5-7.5l1.5-2-1.5-1.5-10.5 1.5zm-449-19l18.5 9.5 5.5-10.5 1.5-18-7-10-18.5-8 0-.5-19-8-3.5 8.5 3.5 6 9.5 12 8.5 18zm205.5 9l10.5-10-10.5-5-17.5 5zm37.5-1.5l17.5-8.5-17.5-12-13 12zm-318-13l18.5-7 1-6.5-1-4.5-13-13.5-5.5-1.5-19 1.5-4 0 4 1 9.5 17zm187-4.5l19 1 7-10-7-5-19-8.5-16.5 13.5zm187.5 5l8.5-14-8.5-8.5-9.5 8.5zm37.5 2.5l3-16.5-3-5.5-5 5.5zm74.5-9.5l7-7-7-7-5.5 7zm56.5-4.5l6-2.5-6-7.5-2.5 7.5zm-636.5-4l3-16.5 15.5-16 2-2 6-18-8-2-2.5 2-16 3-19 15 12 18zm655-9l12.5-7.5 6-14.5 0-3.5 0-1.5-17-16.5-1.5 0-11.5 0-7 1-3 17 3 9 9 9zm-206-17l4.5-8.5-4.5-3.5-8 3.5zm75-5l9.5-3.5-9.5-9.5-7 9.5zm-468-9.5l14-12-14-13-18 13zm93.5-4l4.5-8-4.5-3.5-4.5 3.5zm37.5 2.5l9.5-10.5-6.5-18-3-1.5-10.5 1.5 4.5 18zm93.5-7.5l6.5-3 5.5-18-7.5-18-4.5-.5-18.5 0-2 .5 1 18 1 1.5 14 16.5zm225 5l11-8 7.5-9.5 18.5 8.5 3 1 16 7 8-7-5.5-18 12.5-18-13-18-2-1-13.5 1-5.5 2.5-.5-2.5-18-9-18.5 6.5-12.5 2.5-6.5 6-8.5-6-10-2-19-13-5.5-3-13-6.5-5 6.5 5 11.5 4 6.5 12 18 2.5 1.5 18.5 16.5.5.5 18.5 4.5 16 13zm-7-44l7-7 5.5 7-5.5 11.5zm-517.5 25l17.5-7-17.5-2-13 2zm618-3l4-4-4-6-4 6zm-543-14l18.5-1 11-7-11-5.5-18.5 0-14.5 5.5zm580.5-7l.5-1-.5-.5-1.5.5zm-524.5-5.5l6.5-13.5-6.5-13.5-9 13.5zm-75-29.5l19 8.5 18.5-6 15-4.5-15-5.5-18.5 1-19 4-1 .5zm168.5-1.5l19 13 3-13.5-3-3-19 3zm168.5 3l16.5-3.5-16.5-7.5-12.5 7.5zm262.5 1.5l10-5-10-12-14 12zm-707-23l7-18-11-18-.5-5 0 5 0 18 0 18 0 1zm407.5 10.5l18.5-5.5 2-5-2-.5-18.5-13-12 13.5zm-337-24l3.5-4.5-3.5-8-8-10-9-18-2-2-8 2-10.5 17.5 0 .5 0 .5 18.5 11 9 6.5zm149.5 0l18.5-4.5-.5-18 1-6 1-12-1-3.5-12.5-14.5-6.5-3.5-18.5.5-1.5 3 1.5 4.5 5.5 13.5-5.5 15.5-1 2.5 1 .5 14 17.5zm93.5 12l19-14 1-2.5-1-1.5-19-9-13.5 10.5zm150-14.5l3.5-2-3.5-10-1.5 10zm-337-14.5l6.5-5.5-6.5-5-10 5zm131 9l3-14.5-3-4-16.5 4zm56-32.5zm150 16l16.5-16 2-6 2.5-12-2-18-.5-2-18.5-14-19 10.5-2 5.5-3.5 18 5.5 11.5 2 6.5zm93.5-12l3.5-4-3.5-4-3.5 4zm37.5 12.5l5-16.5 0-18-5-6.5-7 6.5 3.5 18zm112.5-9.5l18.5 1.5 18.5 3 0-11.5 0-15-2-3-16.5-7.5-11.5-10.5-7-5-19-12-18.5 13-1.5 4 1.5 1.5 18.5 14 4.5 2.5 1.5 18zm-168.5-40l4-3-4-4-5 4zm-356-18.5l3-2.5-3-6-1.5 6zm543-1.5l.5-1-.5 0-.5 0zm-56-15l2.5-4 16-15 1.5-3 4-18-5.5-10-18.5 4-14 6-5 4.5-1.5-4.5-17-5-19 1.5-3 3.5 3 4 16 14 3 1 18.5 7 14.5 10zm-543-21l1-1-1-1.5-1 1.5zm243.5-.5l18.5 16 10.5-16.5-10.5-8-18.5-9.5 0-.5-19-5.5-18.5 5.5 18.5 9 18 9zm74.5-17l1.5-1.5 1-18-2.5-12-2.5 12 0 18zm131.5 2l8-3.5-8-11.5-3.5 11.5zm-356-18l19 1.5 18.5-3 3.5-2-3.5-3-18.5-2-19 3-8 2zm505.5 2.5l11.5-6-11.5-4.5-4.5 4.5zm-374.5-16l10.5-8-10.5-9.5-7 9.5zm187.5-5l18.5 8.5 19 .5 18.5-9.5 18.5 6 7-8.5-5-18-2-2.5-10.5-15.5 10.5-8 15-10-15-7.5-18.5 6-1.5 1.5-11.5 18-5.5 11-19-3.5-17 10.5-1.5 7-4 11zm-487-16.5l13.5-4.5-13.5-16-5 16zm-18.5-20.5l13.5-2-13.5-4-4.5 4zm692.5-15l10.5-5 2-18-5.5-18-7-5-3.5 5 1 18-1.5 18zm-674-12l17.5-11 1-18-4.5-18-14-4-9.5 4-8.5 18 5.5 18zm505.5-7.5l17.5-3.5 1.5-1 2-17 4.5-18-6.5-6-19-2.5-18.5 7.5-17.5-17-1.5 0-.5 0-3 18 3.5 6 19-6 14 18 3.5 18zm131-18.5l3-3-3-2-10 2zm-75-16.5l15.5-4.5-15.5-5.5-4.5 5.5zm131 4l0-8.5 0-6-7 6zm-280.5-16.5l14.5-10-14.5-10-5.5 10zm243.5-9.5l.5-.5-.5-.5-1 .5zm-655.5-14l5-4.5-5-5-8.5 5zm56-4l19 2 3-2.5-3-3-19 3zm487-15.5l2-3-2-6-3 6zm93.5-1.5l2-1.5-2-2-2 2zm-280.5-2l7.5-17.5 11-13 13.5-5-13.5-9.5-3-8.5-10.5-18-5-7.5-11.5 7.5-7.5 15.5-1.5 2.5 1.5 2 6.5 16 6.5 18zm56-8.5l17.5-9 1-17 .5-1-.5-.5-12.5-17.5-6-11.5-7 11.5-6 18-3 18zm-412-26.5l.5-.5-.5-1-1.5 1zm599 14.5l5-15-5-6.5-15.5 6.5zm-449-27.5l3-5.5-3-4-6 4zm355.5.5l10.5-6-10.5-16.5-9 16.5zm131-5l.5-1 18.5-14 2-4-2-4.5-19 2-5.5-15.5-7.5-18-5.5-7-19-2.5-4 9.5 4 2 11.5 16-2 18 9.5 12.5 16.5 5.5zm-655-8l18.5-4 9.5-7-9.5-7-18.5 5-4.5 2zm411.5-23l8-6-1-18-7-7.5-18 7.5 17 18zm112.5 11l11-17-3.5-18-7.5-10.5-3.5 10.5-3 18zm37.5-16l18.5 2.5 13.5-3.5-13.5-9.5-7-8.5-11.5-7.5-11.5 7.5 9.5 18zm-355.5-18l18.5 12 16.5-13-16.5-12.5-18.5 6.5-1.5 6zm149.5 5.5l9-6.5-9-11-12 11zm337 .5l9.5-7-9.5-11.5-8 11.5zm-580.5-22.5l6.5-2.5-6.5 0-2.5 0z"/><path id="b14" d="M696.5 1668l19-1 1-1 2.5-18-3.5-8.5-10.5-9.5-8.5-3.5-5 3.5-10.5 18 13.5 18zm-393-15l10.5-5-3-18-7.5-3.5-9 3.5 4 18zm206-4.5l2.5-.5 7-18-9.5-9-14 9 13.5 18zm149.5.5l5.5-1-5.5-1-.5 1zm-411.5-16l15.5-3-15.5-10.5-5.5 10.5zm224.5 4.5l13.5-7.5-13.5-6-15.5 6zm262 1l11.5-8.5-1-18-10.5-2.5-6 2.5-8.5 18zm56-3.5l8-5-8-4.5-9 4.5zm37.5 3.5l15-8.5-15-7.5-10.5 7.5zm37.5-8l.5-.5-.5 0-2.5 0zm-430.5-11l4-7.5 2-18-6-8.5-18.5-7-8.5 15.5 8.5 16.5 3.5 1.5zm187 1l9-8.5-9-4-14.5 4zm37.5-.5l16-8-16-11-11.5 11zm-318-14.5l18.5-10.5 0-1 0-.5-17-17.5-1.5-.5-7.5.5-1 18zm187-3.5l19 .5 6-8.5-6-4-19-8-14.5 12zm187.5 4.5l7.5-12.5-7.5-7.5-8.5 7.5zm37.5-1l2-11.5-2-3.5-3.5 3.5zm74.5-5.5l5.5-6-5.5-6-4.5 6zm56.5-5l2-1-2-2.5-1 2.5zm-636.5-15l.5-4 17-18-17.5-13.5-16.5 13.5 14.5 18zm149.5 0l13.5-4-13.5-5.5-2.5 5.5zm505.5 0l7-4 9-18-16-15-18.5 6.5-1.5 8.5 1.5 4.5 13.5 13.5zm-206-16l3.5-6-3.5-2.5-5.5 2.5zm75-4l5.5-2-5.5-5.5-4 5.5zm-468-9.5l12.5-10.5-12.5-11.5-16 11.5zm93.5-5.5l3-5-3-2-2.5 2zm37.5 2.5l7-7.5-7-17.5-4.5 17.5zm93.5-5.5l4.5-2 6-18-10.5-17-18 17 15 18zm225 3.5l7-5.5 11.5-14.5 18.5 12.5 7 2 12 5.5 6-5.5-5-18 12.5-18-13.5-17.5-19 9-2-9.5-16.5-8.5-18.5 6.5-8.5 2 8.5 7.5 8 10.5-8 17-10.5-17-8.5-8.5-14-9.5-4.5-1-19-12-8.5-5-10-5-3.5 5 3.5 8.5 6 9.5 11.5 18 1 .5 19 17 1.5.5 17 4.5 17 13.5zm-524.5-19l11-4.5-11-1.5-8.5 1.5zm618-1.5l2.5-3-2.5-4-3 4zm-543-15.5l18.5-.5 8-5-8-4-18.5.5-9.5 3.5zm56-12l5.5-11.5-5.5-11.5-7.5 11.5zm-56-20.5l18.5-6 9.5-3-9.5-3.5-18.5-.5-17.5 4zm318-6.5l11.5-2.5-11.5-5.5-8.5 5.5zm262.5 2l9-4.5-9-10.5-12.5 10.5zm-299.5-13l17.5-9.5-17.5-12.5-11 12.5zm-401.5-27.5l-10.5-17 0 17 0 17.5zm64.5 2.5l2-2.5-2-4.5-6 4.5zm149.5 1l14-3.5 2.5-18 2.5-17.5 0-.5-15.5-18-3.5-2-16 2 5 18-6.5 18 14.5 18zm93.5 11.5l19-15-19-9.5-12.5 9.5zm150-14.5l0-.5 0-.5 0 .5zm-412-10l8-8.5-7-18-1-.5-3 .5-11 18zm75-4l5.5-4.5-5.5-4-8 4zm131 6l2-10.5-2-2.5-12 2.5zm206-14.5l14-14 4.5-12.5 1-5.5-1-9-3-9-15.5-13-17.5 13-1.5 11-.5 7 .5 2 4.5 16zm93.5-11l2.5-3-2.5-3-2.5 3zm37.5 9l4-12 .5-18-4.5-5.5-6 5.5 3.5 18zm112.5-7l18.5 2.5 18.5 0 0-7.5 0-9.5-5.5-8.5-13-6-13.5-12-5-3.5-19-11.5-18.5 15 18.5 14 7 4 2.5 18zm-168.5-39l2.5-2-2.5-2.5-3.5 2.5zm-356-19.5l.5-.5-.5-1 0 1zm206-22l9-14.5-9-7-16.5 7zm262-9.5l19 13 18.5-18 4.5-18-4.5-8-18.5 5-7.5 3-11.5 10-4-10-14.5-4-19 4 0 .5 19 17 2.5.5zm-299.5-16l15-7-15-4.5-14.5 4.5zm225-4.5l6-2.5-6-8.5-2.5 8.5zm-356-18.5l19 2 18.5-3 1.5-1-1.5-1.5-18.5-2.5-19 3-4.5 1zm224.5 13l1.5-15-1.5-5.5-1 5.5zm281-10.5l8.5-4.5-8.5-3.5-3.5 3.5zm-374.5-15.5l9.5-7-9.5-8.5-6 8.5zm187.5-5.5l18.5 8 19 0 18.5-7.5 18.5 4.5 5-6.5-5-16.5 0-1.5-12.5-18 12.5-9.5 12.5-8.5-12.5-6-18.5 5.5-.5.5-9.5 18-8.5 17.5-19-9-15.5 9.5-3 13-2 5zm-487-16l10.5-3.5-10.5-12.5-4 12.5zm-18.5-21l3-.5-3-1-1 1zm692.5-15.5l7-3 1.5-18-4-18-4.5-3.5-2.5 3.5 1 18-1 18zm-674-11.5l14.5-9.5 2-18-7-18-9.5-2.5-6 2.5-10 18 5.5 18zm505.5-8.5l5-1 14-10.5 1-7.5 4.5-18-5.5-5-19-1.5-14.5 6.5 11 18 3 18zm131-17.5l1.5-1.5-1.5-1-5.5 1zm-168.5-17.5l7-2-7-6.5-1 6.5zm93.5 1l11-3-11-4-3 4zm131 4l0-7 0-5-5.5 5zm-280.5-17.5l11-7.5-11-7.5-4 7.5zm-412-22l3.5-3.5-3.5-3.5-6 3.5zm75-2l2-1.5-2-1.5-11.5 1.5zm468-18l1-1.5-1-4-2 4zm-187-5.5l6-14 12.5-14.5 9-3.5-9-6.5-4-11.5-11.5-18-3-4.5-7 4.5-11 18 8.5 18 5 18zm56-5.5l16-8.5-4-18-12-14-8.5 14-6.5 18zm187-13.5l4.5-13-4.5-5.5-13.5 5.5zm-449-27.5l1.5-3.5-1.5-2.5-3.5 2.5zm355.5 1.5l8.5-5-8.5-13.5-7.5 13.5zm-524-16.5l18.5-1 7-5.5-7-5.5-18.5 4.5-2.5 1zm636.5 4l17.5-10.5-5.5-18-8-18-4-5-19 0-2 5 2 1 12 17-.5 18zm37.5-7.5l1.5-3-1.5-3-16.5 3zm-262.5-19l3-2 3-18-6-6.5-15.5 6.5 15 18zm112.5 12l9-14-5-18-4-5.5-2 5.5-3.5 18zm56-11.5l10-2.5-10-7-9-11-9.5-6-9.5 6 9.5 16.5 2.5 1.5zm-374-20.5l18.5 12 15-12-15-11.5-18.5 10.5-.5 1zm149.5 5l7-5-7-8-9 8zm337 1l8-6-8-10-6.5 10z"/><path id="b13" d="M303.5 1650l4-2 2-18-6-3-7 3 5 18zm393 16l19-8 1.5-10-1.5-3.5-16-14.5-3-1-1.5 1-13 18zm-449-34.5l9-1.5-9-6-3 6zm224.5 5l12-6.5-12-5.5-14 5.5zm37.5 10.5l8.5-17-8.5-8-12.5 8zm224.5-10l9.5-7-5-18-4.5-1-2.5 1-9.5 18zm56-3l6-4-6-3.5-7 3.5zm37.5 3.5l13-7.5-13-6.5-9 6.5zm-393-21l2.5-4.5 2.5-18-5-7.5-18.5-5.5-7 13 7 13.5 10 4.5zm187 2.5l7.5-7-7.5-3.5-12 3.5zm37.5 0l14.5-7-14.5-10-10.5 10zm-318-15l16-10-16-16.5-7 16.5zm187-3l19 0 5-7-5-3.5-19-7.5-13 11zm187.5 3.5l6.5-10.5-6.5-6.5-7.5 6.5zm37.5-4l1-6.5-1-2-2 2zm74.5-2l4.5-4.5-4.5-4.5-3.5 4.5zm-430.5-20l7-2.5-7-3-1.5 3zm505.5-1.5l1-1 11.5-18-12.5-11.5-18.5 11-.5.5.5.5 17.5 17.5zm-655-2.5l15.5-16.5-15.5-11.5-14.5 11.5zm449-12.5l2.5-4-2.5-1.5-3.5 1.5zm75-3.5l1.5-.5-1.5-1.5-1.5 1.5zm-468-9l11-9.5-11-10-14.5 10zm93.5-7.5l1-2-1-.5-1 .5zm37.5 3l4.5-5-4.5-11-3 11zm93.5-4l2.5-1 6-18-8.5-14-15 14 13.5 18zm225 2l3.5-3-3.5-10.5-1 10.5zm56 .5l4-3.5-4-16-.5-2 .5-.5 12-17.5-12-15.5-19 14-4-16.5-14.5-7.5-18.5 6.5-5 1 5 4 11 14 7.5 16.5.5 1.5 18 14.5 11 3.5zm-580.5-19.5l5-2-5-.5-4 .5zm505.5 1.5l16.5-3.5-11.5-18-5-5.5-18.5-12-.5-.5-18.5-11.5-11.5-6.5-7-3.5-2.5 3.5 2.5 6 7.5 12 11 17 1 1 18 16 4.5 2zm112.5-2l1.5-1.5-1.5-2-1.5 2zm-543-17l18.5 1 5.5-3.5-5.5-2.5-18.5 1-4.5 1.5zm56-11.5l4.5-9-4.5-9-6 9zm-56-19l18.5-6.5 4-1.5-4-1.5-18.5-2-15 3.5zm318-6.5l6.5-1.5-6.5-3-5 3zm262.5 2l7.5-3.5-7.5-9-10.5 9zm-299.5-13l16-8.5-16-11-10 11zm-402.5-26.5l-9.5-15.5 0 15.5 0 16zm65.5.5l0-.5 0-1-1.5 1zm149.5 2l9-2.5 5.5-18 1-18-15-18-.5 0-1.5 0-7.5 18-7 18 14 18zm93.5 11l17-13.5-17-8.5-11 8.5zm-262-26l5-5.5-5-15-8.5 15zm75-2l4-3.5-4-3-6.5 3zm131 3.5l1.5-7-1.5-1.5-7.5 1.5zm206-13.5l11.5-11.5 6.5-18-6-18-12-10-14 10-3 18 5 18zm93.5-9.5l1.5-2-1.5-1.5-1.5 1.5zm37.5 5.5l2.5-7.5 1-18-3.5-4.5-5 4.5 3.5 18zm112.5-4.5l18.5 3 18.5-2.5 0-3.5 0-4.5-9-13.5-9.5-4-15.5-14-3-2-19-11.5-16.5 13.5 16.5 12.5 9.5 5.5 4 18zm-168.5-38l1-1-1-1-1.5 1zm-150-42.5l8-12.5-8-6-14.5 6zm262-11l19 14.5 16.5-16 2-4.5 3.5-13.5-3.5-6-18.5 5.5-1 .5-18 15.5-6-15.5-12.5-3.5-16 3.5 16 15 13.5 3zm-299.5-14l11-5.5-11-3-10.5 3zm225-3.5l4-2-4-5.5-2 5.5zm-356-19.5l19 2.5 17.5-3-17.5-3-19 3-1 0zm505.5 3l6-3.5-6-2.5-2.5 2.5zm-374.5-15.5l8-6-8-7.5-5 7.5zm206 2l19-1.5 18.5-5.5 18.5 3 3.5-4-3.5-11-2-7-12.5-18-4-15-6.5 15-10.5 18-1.5 5-2-5-17-9-14 9-4.5 18zm-505.5-23.5l7.5-2.5-7.5-9-3 9zm561.5-31.5l10.5-7-10.5-5-17 5zm112.5-5.5l3-1.5 2-18-2.5-18-2.5-1.5-1 1.5 0 18 0 18zm-674-12l12-7.5 3-18-10.5-18-4.5-1.5-3 1.5-11.5 18 6 18zm505.5-10.5l17-15 2-1 4.5-17-4.5-4-19-.5-9.5 4.5 7 18zm131-14.5l.5-.5-.5 0-1.5 0zm-75-16.5l6.5-2-6.5-2-1.5 2zm131 3l0-5 0-3.5-4 3.5zm-280.5-18l7.5-5-7.5-5.5-3 5.5zm-412-21l2-2-2-2-3.5 2zm75-1.5l.5-.5-.5-.5-3 .5zm468-18l.5-.5-.5-1.5-.5 1.5zm-187-8l4.5-10.5 14-16.5 4.5-1.5-4.5-3-5-15-12.5-18-1-1.5-2.5 1.5-14 18 10 18 3 18zm56-3l14.5-7.5-9.5-18-5-6-3.5 6-10 18zm187-14.5l4-11-4-5-11 5zm-449-28l.5-1-.5-1-1.5 1zm355.5 3l7-4-7-11-6 11zm-524-20.5l18.5 2 4.5-3.5-4.5-3.5-18.5 3-1 .5zm636.5 6.5l13.5-8-2.5-18-8.5-18-2.5-3.5-19 3.5 13 18 0 18zm37.5-6.5l1-1.5-1-2-10 2zm-150-8l7.5-11.5-7-18-.5-.5 0 .5-4.5 18zm56-10l6-1.5-6-4-9.5 4zm-355.5-8.5l13.5-11-13.5-10.5-17.5 10.5zm131-8l4.5-3-4.5-5.5-6 5.5zm56 14l5-17-5-5.5-13 5.5zm150-4.5l7-12.5-7-4.5-7 4.5zm131-7.5l7-5-7-8.5-5.5 8.5z"/><path id="b12" d="M696.5 1664.5l18.5-16.5-18.5-17-13 17zm-449-34l2-.5-2-1.5-1 1.5zm56 15.5l4.5-16-4.5-2-5 2zm168.5-10.5l10-5.5-10-4.5-12 4.5zm37.5 9.5l7.5-15-7.5-7-11 7zm224.5-9.5l8-5.5-8-17-9.5 17zm56-3l4-2.5-4-2.5-4.5 2.5zm37.5 4l11.5-6.5-11.5-5.5-8 5.5zm-393-23l.5-1.5 3.5-18-4-6-18.5-4-5.5 10 5.5 11 16 7zm187 4l6-5.5-6-2.5-9.5 2.5zm37.5 1l13-6.5-13-9-9.5 9zm-318-16l13.5-8.5-13.5-13.5-6 13.5zm187-2.5l19-.5 3.5-5.5-3.5-2.5-19-7-11.5 9.5zm187.5 3l5.5-9-5.5-5.5-6.5 5.5zm37.5-7.5l0-1.5-.5 0zm74.5 2l3.5-3.5-3.5-3.5-2.5 3.5zm-430.5-21l1-.5-1 0zm-149.5-4.5l13-14-13-9.5-12 9.5zm449-12l1-2-1-.5-1.5.5zm206 11.5l9-13.5-9-8-13.5 8zm-599-23.5l9.5-8-9.5-9-12.5 9zm131-5.5l2-2.5-2-5-1 5zm93.5-2.5l.5 0 6.5-18-7-11-12 11 12 18zm225 0l-.5 0zm56 2l2-2-2-8-2-10 2-3 10-15-10-13-16.5 13-2.5 1.5-5.5-1.5-.5-18-12.5-6.5-18.5 6.5-1 0 1 1 13.5 17 5 10.5 2 7.5 16.5 13 15 5zm-75-17l13-3-11-18-2-2-18.5-14-3-2-16-9.5-9.5 9.5 9.5 14.5 2.5 3.5 16.5 14.5 7 3.5zm112.5-2.5l0-.5-.5 0zm-524.5-17l2.5-1.5-2.5-1-17 1zm37.5-12.5l3.5-7-3.5-6.5-4.5 6.5zm-56-18.5l17.5-6.5-17.5-3-13 3zm318-6l1.5-.5-1.5-.5-1 .5zm56.5 3l3.5-3.5-3.5-1.5-1.5 1.5zm206-.5l6-3-6-7.5-8.5 7.5zm-299.5-13.5l14-7.5-14-10-9 10zm-403.5-25.5l-8.5-14 0 14 0 14zm216 1l4.5-1 8.5-18-1.5-18-11.5-14-7 14-7 18 13 18zm93.5 11l15-12-15-7.5-10 7.5zm-262-28l2-2-2-5.5-3 5.5zm75 .5l3-2.5-3-2.5-5 2.5zm131 .5l.5-3-.5-.5-3 .5zm206-12l9.5-9 6-18-7-18-8.5-7.5-10 7.5-4.5 18 5 18zm93.5-8l.5-1-.5-.5-.5.5zm37.5 2l1-3 2-18-3-3.5-4 3.5 3.5 18zm112.5-2l18.5 3.5 18-4.5-12-18-6-2.5-17.5-15.5-1-1-19-10.5-14 11.5 14 11 12.5 7 4.5 18zm-318.5-80.5l6.5-10.5-6.5-5-12 5zm281 3.5l14.5-14 4-8.5 2.5-9.5-2.5-4-13 4-5.5 2-17.5 16zm-318.5-28.5l7-3.5-7-2-6.5 2zm225-2.5l2-1-2-3-1 3zm56 11l10-12-10-3-13 3zm-393-28l12-2-12-2-14.5 2zm486.5 0l3.5-2-3.5-1.5-1.5 1.5zm-374.5-15l7-5-7-6-4.5 6zm206 1l19-2 18.5-3.5 18.5 1.5 1.5-2-1.5-5-3.5-13-13-18-2-7.5-3.5 7.5-12 18-3 10-3.5-10-15.5-8-12.5 8-1.5 18zm-505.5-22.5l4.5-1.5-4.5-5-1.5 5zm561.5-32l8-5.5-8-4-13.5 4zm-561.5-17.5l9-6 4-18-13-18-12.5 18 6 18zm674 6l1-12-1-18 0 18zm-168.5-20.5l11-9.5 8-5 3-13-3-3-19 .5-5 2.5 3.5 18zm56-27l1.5-.5-1.5-.5 0 .5zm131 3l0-3.5 0-2.5-2.5 2.5zm-280.5-18.5l4-3-4-3-1.5 3zm-412-20.5l1-.5-1-.5-1 .5zm356-29.5l3-7 15-18-5.5-18-12.5-17.5-15.5 17.5 11.5 18 1.5 18zm56 0l13-7-13-17.5-12 17.5zm187-16.5l3-8.5-3-4-9 4zm-93.5-23.5l5-3-5-8-4 8zm-505.5-19.5l2-1.5-2-1.5-11 1.5zm618 4.5l9.5-6 0-18-8.5-18-1-1.5-8.5 1.5 3 18 1 18zm37.5-5.5l0-.5 0-.5-3 .5zm-150-9.5l6-9-6-14.5-3.5 14.5zm56-8.5l2.5-.5-2.5-1.5-3.5 1.5zm-355.5-8.5l12.5-10-12.5-9.5-15.5 9.5zm131-8.5l2.5-1.5-2.5-3-3 3zm56 12.5l4.5-14-4.5-4.5-11 4.5zm150-5.5l5-8.5-5-3-5 3zm131-4.5l5.5-4-5.5-7-4.5 7z"/><path id="b11" d="M696.5 1663l16.5-15-16.5-15.5-12 15.5zm-393-23l2.5-10-2.5-1-3.5 1zm168.5-5l8.5-5-8.5-4-10 4zm37.5 8l6.5-13-6.5-6-9 6zm224.5-8.5l6-4.5-6-13-7 13zm56-3l2.5-1.5-2.5-1-2.5 1zm37.5 4l9.5-5.5-9.5-4.5-6.5 4.5zm-206-19.5l4.5-4-4.5-2-6.5 2zm37.5 1.5l11.5-5.5-11.5-8-8 8zm-318-17l10.5-6.5-10.5-10.5-5 10.5zm75 1.5l18.5 7.5 3.5-15.5-3.5-4.5-18.5-3-4 7.5zm112-2.5l19-2 2.5-3.5-2.5-1.5-19-6.5-9.5 8zm187.5 2l4.5-7.5-4.5-4.5-5.5 4.5zm112-5l2-2.5-2-2-1.5 2zm-580-27l10.5-11.5-10.5-8-10 8zm655-3.5l5-8-5-5-8 5zm-599-19l8-7-8-7.5-10.5 7.5zm505.5-7l-4-18 4-5.5 8.5-12.5-8.5-11-14 11-5 3.5-12.5-3.5 5-18-11-5.5-16.5 5.5 14 18 2.5 5 4 13 14.5 11.5 19 6.5zm-281-4l5-14-5-8.5-9 8.5zm206-11.5l10-2.5-10-15.5-1-2.5-17.5-14.5-6-3.5-13-8-7.5 8 7.5 12 4 6 15 13 10 5zm-374.5-34l2.5-4.5-2.5-4.5-3 4.5zm-56-17l14.5-5.5-14.5-2.5-10.5 2.5zm374.5-5l.5-.5-.5 0-.5 0zm206 2l4.5-2.5-4.5-5.5-7 5.5zm-299.5-14l12-6.5-12-8.5-7.5 8.5zm-404.5-24.5l-7.5-12 0 12 0 12.5zm310.5 10l13-10-13-6.5-8.5 6.5zm-187-26l2-2-2-1.5-3 1.5zm93.5 16l11.5-18-3.5-18-8-9.5-4.5 9.5-8 18zm243.5-29l7-7 6-18-8-18-5-4.5-6 4.5-6 18 4.5 18zm262-3.5l13-3.5-11-18-2-1-18.5-13.5-1-3.5-18-10-12 10 12 9 15 9 4 13 3.5 5zm-131-5.5l2-16-2-2.5-3 2.5zm-206-79.5l5-8.5-5-4-9.5 4zm281 3.5l12.5-12 6-13 1-5-1-2-7 2-11.5 4-15 14zm-318.5-28.5l3-1.5-3-.5-2.5.5zm225-1.5l-.5 0zm56 9.5l8-9.5-8-2-10.5 2zm-393-26l6.5-1.5-6.5-1-8 1zm486.5-1l1-.5-1-.5-.5.5zm-374.5-14.5l5.5-4-5.5-5-3.5 5zm206 0l19-2.5 9.5-1.5 9-1 13.5-17-13.5-18-14 18-4.5 15.5-5-15.5-14-7-11.5 7 2.5 18zm-505.5-21.5l1.5-.5-1.5-1.5-.5 1.5zm561.5-32.5l6-4-6-3-9.5 3zm-561.5-18l6-4 5-18-11-15.5-11 15.5 6.5 18zm505.5-18l5-4 14-9.5 2-8.5-2-2-19 2-.5 0 0 18zm187-20.5l0-1.5 0-1-1 1zm-280.5-19l1-.5-1-.5-.5.5zm-56-51l1.5-3.5 2.5-18 7.5-18-11.5-16-14 16 13 18-.5 18zm56 2.5l11.5-6-11.5-15.5-10.5 15.5zm187-17.5l2.5-6.5-2.5-3-6.5 3zm-93.5-22.5l3.5-2-3.5-5-2.5 5zm112.5-16.5l6-3.5 2.5-18-8.5-17.5-5 17.5 2.5 18zm-112.5-15l4-6.5-4-10-2.5 10zm-299.5-15.5l11-9-11-8.5-14 8.5zm131-9zm56 11l3.5-11-3.5-3.5-8.5 3.5zm150-6l2.5-5-2.5-1.5-2.5 1.5zm131-2l4-3-4-5-3.5 5z"/><path id="b10" d="M696.5 1661.5l15-13.5-15-13.5-10.5 13.5zm-393-27.5l1-4-1-.5-1.5.5zm168.5 0l7-4-7-3-8 3zm37.5 6.5l5.5-10.5-5.5-5-7.5 5zm224.5-7.5l4-3-4-8.5-5 8.5zm56-2.5l.5-.5-.5 0zm37.5 4l7.5-4.5-7.5-3.5-5 3.5zm-206-20l2.5-2.5-2.5-1-4 1zm37.5 2.5l10-5-10-7-7 7zm-318-18l8-5-8-8-3.5 8zm75 0l18.5 6 2.5-11-2.5-3-18.5-1.5-2.5 4.5zm112-.5l19-2.5 1.5-2-1.5-1-19-5.5-8 6.5zm187.5 1.5l3.5-6-3.5-3.5-4 3.5zm112-5l1-1-1-1-.5 1zm-580-28.5l8-8.5-8-6-7.5 6zm655-6l1.5-2.5-1.5-1.5-2.5 1.5zm-599-15l6.5-5.5-6.5-6-8.5 6zm224.5-14.5l3.5-9-3.5-5.5-5.5 5.5zm206-7.5l6.5-1.5-6.5-10.5-3-7.5-15.5-13-9-5-10-6-6 6 6 9.5 6 8.5 13 11.5 13 6.5zm56 9l13.5-10.5 5.5-8 6.5-10-6.5-9-11 9-8 5-13 13zm-430.5-44l1-2.5-1-2-1.5 2zm412 15l9-17.5-9-4.5-14 4.5zm-468-31l11-4.5-11-2-8 2zm580.5-2.5l3.5-2-3.5-4-5 4zm-299.5-14.5l10.5-5.5-10.5-7-6.5 7zm-405.5-23.5l-6.5-10.5 0 10.5 0 11zm311.5 8.5l11-8.5-11-5.5-7 5.5zm-187-25.5l1-1-1-.5-1.5.5zm93.5 14.5l10-15.5-5.5-18-4.5-5.5-2.5 5.5-8 18zm243.5-29l4.5-4.5 6-18-9-18-1.5-1.5-2 1.5-8 18 5 18zm262-2.5l7.5-2-7.5-14-9 14zm-131-10l1.5-10-1.5-1.5-2 1.5zm112.5-6.5l9-3.5-9-4-1 4zm-19-14l15-7.5-15-8-10 8zm-299.5-55l4-6.5-4-3-7 3zm281 3.5l10.5-10-10.5-11.5-13 11.5zm-37.5-21l5.5-7-5.5-1.5-7.5 1.5zm56-6.5l0-.5-.5 0zm-449-18l1.5-.5-1.5 0-2 0zm112-15.5l4.5-3-4.5-3.5-2.5 3.5zm206-1l13-2-1-18-12-6-10 6 5.5 18zm37.5-5l12-15-12-16-12 16zm18.5-48.5l4-2.5-4-2-6 2zm-561.5-18.5l3.5-2 6-18-9.5-13-9 13 6.5 18zm524.5-33.5l1-4.5-1-1-10.5 1zm-112.5-71l10-5.5-10-13.5-9.5 13.5zm187-19l1.5-4.5-1.5-2-4.5 2zm-243-5.5l10-17-10-14.5-13 14.5zm149.5-16l1.5-1-1.5-2.5-1 2.5zm112.5-17.5l2-1.5 5-18-7-15-4 15 3 18zm-112.5-15.5l2.5-4-2.5-6-1.5 6zm-299.5-14l10-8-10-7.5-12.5 7.5zm187 0l2.5-8-2.5-2.5-6.5 2.5zm150-7l.5-1-.5-.5-.5.5zm131 1l3-2-3-3.5-2.5 3.5z"/><path id="b9" d="M696.5 1660l13-12-13-12-9 12zm-224.5-27l5.5-3-5.5-2.5-6.5 2.5zm37.5 5.5l4-8.5-4-4-6 4zm224.5-7l2-1.5-2-4.5-2.5 4.5zm93.5 1.5l5.5-3-5.5-2.5-4 2.5zm-206-20l1-1-1 0-1.5 0zm37.5 3l8.5-4-8.5-5.5-6 5.5zm-318-18.5l5-3.5-5-5-2.5 5zm75-1l18.5 4 1.5-6.5-1.5-2-18.5 0-1.5 2zm112 1l19-3 0-.5-19-5-6 5zm187.5 1l2.5-4.5-2.5-2.5-3 2.5zm-468-34.5l5.5-6-5.5-4-5.5 4zm56-19.5l5-4.5-5-4.5-6.5 4.5zm224.5-18.5l1.5-4-1.5-2.5-2.5 2.5zm206-3l3.5-1-3.5-5-3 5zm56 8l11.5-9 7.5-10.5 5-7.5-5-6.5-8.5 6.5-10.5 6.5-11 11.5zm-74.5-17l13.5-10-13.5-11-11.5-7-7.5-4.5-4.5 4.5 4.5 7 7.5 11zm56-14l7-14-7-3.5-11 3.5zm-468-29l8-3-8-1.5-6 1.5zm580.5-2l2-1-2-2.5-3 2.5zm-299.5-14.5l8.5-4.5-8.5-6-5.5 6zm-406.5-22.5l-5.5-9 0 9 0 9.5zm312.5 7l9-7-9-4.5-6 4.5zm-93.5-12l8.5-13-7.5-18-1-1-.5 1-8.5 18zm243.5-28.5l2-2.5 6-18-8-15.5-7.5 15.5 5 18zm262-2l2-.5-2-4-2.5 4zm-131-14l.5-4.5-.5-.5-1 .5zm93.5-16.5l11.5-6-11.5-6.5-8 6.5zm-299.5-55.5l2.5-4.5-2.5-2-5 2zm281 4l8.5-8.5-8.5-9.5-10.5 9.5zm-37.5-22.5l3.5-4-3.5-1-4.5 1zm-281-38l3-2-3-2.5-2 2.5zm206-2l.5 0 10-18-10.5-5.5-8.5 5.5 8.5 18zm37.5-5l10-13-10-13.5-10.5 13.5zm18.5-48l1.5-1-1.5-.5-2 .5zm-561.5-18.5l.5-.5 7-18-7.5-10.5-7.5 10.5 7 18zm524.5-36l0-.5-1.5 0zm-112.5-68l8.5-4.5-8.5-11.5-8 11.5zm187-20l1-2.5-1-1-2.5 1zm-243-5.5l9-15-9-13-11.5 13zm149.5-49.5l1-1.5-1-2-.5 2zm112.5 15l6-16.5-6-12.5-3.5 12.5zm-412-27.5l8.5-7-8.5-6.5-11 6.5zm187-2l1.5-5-1.5-1.5-4 1.5zm281-4l1.5-1-1.5-2-1.5 2z"/><path id="b8" d="M696.5 1658l11-10-11-10-8 10zm-224.5-26l3.5-2-3.5-1.5-4.5 1.5zm37.5 4.5l3-6.5-3-3-4.5 3zm224.5-6l0-.5zm93.5 1.5l3.5-2-3.5-1.5-2.5 1.5zm-168.5-16.5l7-3.5-7-4.5-5 4.5zm-318-20l2.5-1.5-2.5-2.5-1 2.5zm93.5.5l.5-2-.5-.5-12 .5zm93.5.5l15-2.5-15-3.5-4.5 3.5zm187.5.5l1.5-3-1.5-1.5-2 1.5zm-468-35.5l3-3.5-3-2.5-3 2.5zm56-18.5l3.5-3-3.5-3-5 3zm430.5-21zm56 7.5l10-7.5-10-9.5-9.5 9.5zm-74.5-17l11.5-8.5-11.5-9.5-10 9.5zm93.5-3.5l3.5-5-3.5-4.5-5.5 4.5zm-112.5-18.5l4.5-4.5-4.5-2.5-2.5 2.5zm75 6l5.5-10.5-5.5-2.5-8.5 2.5zm-468-26.5l5-2-5-.5-3.5.5zm580.5-1.5l.5-.5-.5-1-1.5 1zm-299.5-14.5l6.5-4-6.5-4.5-4.5 4.5zm-407.5-22l-4.5-7.5 0 7.5 0 7.5zm313.5 5.5l7-5.5-7-3.5-4.5 3.5zm-93.5-13l6.5-10.5-6.5-15-7.5 15zm243.5-29l5.5-17.5-5.5-10.5-5 10.5zm224.5-31l8.5-4.5-8.5-4.5-5.5 4.5zm-299.5-56l1.5-2.5-1.5-1-2.5 1zm281 4l6.5-6.5-6.5-7-8 7zm-37.5-23l1-1.5-1-.5-1.5.5zm-281-36l1.5-1.5-1.5-1.5-1 1.5zm206-4.5l8.5-15-8.5-4.5-7 4.5zm37.5-4l8.5-11-8.5-11.5-9 11.5zm-543-68.5l6-14.5-6-8-5.5 8zm412-100.5l7-4-7-9.5-6.5 9.5zm187-21.5l.5-.5-.5 0zm-243-5l8-13.5-8-11.5-10 11.5zm262-36l4.5-13.5-4.5-10-3 10zm-412-25.5l7.5-6-7.5-5.5-9.5 5.5zm187-3.5l1-2.5-1-1-1.5 1zm281-2.5l.5 0-.5-.5 0 .5z"/><path id="b7" d="M696.5 1656.5l9.5-8.5-9.5-8.5-6.5 8.5zm-224.5-25l2-1.5-2-1-2.5 1zm37.5 2.5l2-4-2-2-3 2zm318-3l2-1-2-.5-1 .5zm-168.5-16.5l5.5-2.5-5.5-3.5-3.5 3.5zm-131-19l9.5-1.5-9.5-2-2.5 2zm187.5 0l.5-1.5-.5-.5-1 .5zm-468-36.5l.5-1-.5-.5-1 .5zm56-17l2-2-2-2-3 2zm486.5-13.5l8-6.5-8-8-7.5 8zm-74.5-17l9.5-7.5-9.5-8-8.5 8zm93.5-5l1.5-2.5-1.5-2-3 2zm-112.5-19l2-1.5-2-1-1 1zm75 5.5l3.5-7-3.5-1.5-5.5 1.5zm-468-24.5l1.5-.5-1.5 0-1 0zm281-15.5l5-3-5-3.5-3.5 3.5zm-408.5-21l-3.5-6 0 6 0 6zm314.5 4l5-4-5-2.5-3 2.5zm-93.5-14l5-8-5-11.5-5.5 11.5zm243.5-34.5l3-9.5-3-5.5-3 5.5zm224.5-24.5l5.5-3-5.5-3-3.5 3zm-299.5-56.5l0-.5zm281 4l4.5-4.5-4.5-5-5.5 5zm-318.5-58l.5-.5-.5 0zm206-6.5l7-12-7-3.5-5.5 3.5zm37.5-3l7-9-7-9.5-7 9.5zm-543-71l4-10-4-5.5-3.5 5.5zm412-97l5.5-3-5.5-7.5-5.5 7.5zm-56-27.5l7-11.5-7-10-9 10zm262-37.5l3.5-10-3.5-7.5-2 7.5zm-412-23l6-5-6-4.5-7.5 4.5z"/><path id="b6" d="M696.5 1655l7.5-7-7.5-7-5.5 7zm-224.5-24.5l.5-.5-.5 0-.5 0zm37.5 1.5l1-2-1-.5-1.5.5zm149.5-18l4-2-4-2.5-2.5 2.5zm-131-19.5l3.5-.5-3.5-.5-1 .5zm-224.5-54l.5-.5-.5-.5-1 .5zm486.5-13.5l6.5-5-6.5-6-6 6zm-74.5-17l8-6-8-6.5-6.5 6.5zm93.5-5.5l0-.5zm-37.5-15l2-3.5-2-1-3 1zm-187-37.5l3-2-3-2-2 2zm-409.5-20l-2.5-4 0 4 0 4.5zm315.5 2.5l3-2.5-3-1.5-2 1.5zm-93.5-15l3.5-5.5-3.5-8-4 8zm243.5-40l.5-1.5-.5-1-.5 1zm224.5-18l2.5-1.5-2.5-1-1.5 1zm-18.5-53l2.5-2.5-2.5-3-3.5 3zm-112.5-65l5.5-9.5-5.5-2.5-4.5 2.5zm37.5-2.5l5.5-7-5.5-7-5.5 7zm-543-73.5l2-5.5-2-3-2 3zm412-93.5l4-2-4-5.5-4 5.5zm-56-28l6-10-6-8.5-7.5 8.5zm262-39.5l2.5-6.5-2.5-5-1.5 5zm-412-20.5l5-4-5-3.5-6 3.5z"/><path id="b5" d="M696.5 1653.5l6-5.5-6-5-4 5zm-37.5-40.5l2.5-1-2.5-1.5-1.5 1.5zm131-87.5l4.5-3.5-4.5-4.5-4 4.5zm-74.5-17l6-4.5-6-4.5-5 4.5zm56-22.5zm-187-35l1-1-1-1-1 1zm-410.5-19l-1.5-2.5 0 2.5 0 3zm316.5 1l1-1-1-.5-.5.5zm-93.5-16l2-3-2-4.5-2 4.5zm449.5-110.5l.5-.5-.5-.5-1 .5zm-112.5-66l3.5-6.5-3.5-2-3 2zm37.5-1.5l3.5-5-3.5-5-4 5zm-543-76l.5-1-.5-.5 0 .5zm412-89.5l2.5-1.5-2.5-3.5-2.5 3.5zm-56-29.5l4.5-8-4.5-7-6 7zm262-40.5l1-3.5-1-2.5-1 2.5zm-412-18.5l3.5-3-3.5-2.5-4.5 2.5z"/><path id="b4" d="M696.5 1651.5l4-3.5-4-3.5-3 3.5zm-37.5-39l1-.5-1-.5-.5.5zm131-88l3-2.5-3-2.5-2.5 2.5zm-74.5-17.5l4-3-4-3-3.5 3zm-542.5-75l-.5-1 0 1 0 1zm224-17.5l.5-.5-.5-.5-.5.5zm337-177l2-3.5-2-1-1.5 1zm37.5-.5l2-3-2-3-2 3zm-131-164.5l1-.5-1-1.5-1.5 1.5zm-56-30l3.5-6.5-3.5-5.5-5 5.5zm-150-58.5l2.5-2-2.5-1.5-3 1.5z"/><path id="b3" d="M696.5 1650l2.5-2-2.5-2-1.5 2zm93.5-127l1-1-1-1-.5 1zm-74.5-17.5l2-1.5-2-1.5-2 1.5zm18.5-271l0-.5zm37.5 0l.5-.5-.5-.5-.5.5zm-187-194l2.5-4.5-2.5-4-3.5 4zm-150-57.5l1-1-1-.5-1 .5z"/><path id="b2" d="M696.5 1648.5l.5-.5-.5 0zm-112-610l1.5-2.5-1.5-2.5-2.5 2.5z"/><path id="b1" d="M584.5 1037l.5-1-.5-1-1 1z"/></defs><g fill-rule="evenodd"><use href="#a28" fill="#80ae2c"/><use href="#a29" fill="#86b22a"/><use href="#a30" fill="#8db82c"/><use href="#a31" fill="#a6c028"/><use href="#a32" fill="#bccb24"/><use href="#a33" fill="#d2d624"/><use href="#a34" fill="#e6e22a"/><use href="#a35" fill="#f2ea2a"/><use href="#a36" fill="#f3e928"/><use href="#a37" fill="#e8d022"/><use href="#a38" fill="#dba51f"/><use href="#a39" fill="#d5921e"/><use href="#a40" fill="#cd821f"/><use href="#a41" fill="#c8701e"/><use href="#a42" fill="#c0581a"/><use href="#a43" fill="#bc4a1e"/><use href="#a44" fill="#b83c1e"/><use href="#a45" fill="#b42e1c"/><use href="#a46" fill="#b22a1c"/><use href="#b27" fill="#76a82c"/><use href="#b26" fill="#74a82c"/><use href="#b25" fill="#72a62e"/><use href="#b24" fill="#70a430"/><use href="#b23" fill="#6aa232"/><use href="#b22" fill="#66a034"/><use href="#b21" fill="#62a036"/><use href="#b20" fill="#5e9e3a"/><use href="#b19" fill="#66a350"/><use href="#b18" fill="#6aa75a"/><use href="#b17" fill="#77ad72"/><use href="#b16" fill="#7aae7a"/><use href="#b15" fill="#86b696"/><use href="#b14" fill="#8cbcaa"/><use href="#b13" fill="#8ebeb4"/><use href="#b12" fill="#80b8c0"/><use href="#b11" fill="#6aacd6"/><use href="#b10" fill="#5c98d8"/><use href="#b9" fill="#5882c8"/><use href="#b8" fill="#4e62b2"/><use href="#b7" fill="#4650a2"/><use href="#b6" fill="#3e3e96"/><use href="#b5" fill="#36307e"/><use href="#b4" fill="#30207a"/><use href="#b3" fill="#2e1a72"/><use href="#b2" fill="#2e1570"/><use href="#b1" fill="#321472"/></g><g fill="none" stroke="#b4e05a" stroke-opacity="0.45" stroke-width="4" stroke-linejoin="round"><use href="#a30"/><use href="#a36"/><use href="#a42"/><use href="#b24"/><use href="#b18"/><use href="#b12"/><use href="#b6"/></g><g fill="none" stroke="#1a2636" stroke-opacity="0.9" stroke-width="1.7" stroke-linejoin="round"><use href="#a30"/><use href="#a36"/><use href="#a42"/><use href="#b24"/><use href="#b18"/><use href="#b12"/><use href="#b6"/></g></g><rect x="172.4" y="964" width="748.85" height="720.2" fill="none" stroke="#111" stroke-width="2.4"/><path d="M172.4 1684.2V1698M172.4 1684.2H158.9M247.3 1684.2V1698M172.4 1612.2H158.9M322.2 1684.2V1698M172.4 1540.2H158.9M397.1 1684.2V1698M172.4 1468.1H158.9M471.9 1684.2V1698M172.4 1396.1H158.9M546.8 1684.2V1698M172.4 1324.1H158.9M621.7 1684.2V1698M172.4 1252.1H158.9M696.6 1684.2V1698M172.4 1180.1H158.9M771.5 1684.2V1698M172.4 1108.0H158.9M846.4 1684.2V1698M172.4 1036.0H158.9M921.2 1684.2V1698M172.4 964.0H158.9M209.8 1684.2V1691M172.4 1648.2H165.9M284.7 1684.2V1691M172.4 1576.2H165.9M359.6 1684.2V1691M172.4 1504.2H165.9M434.5 1684.2V1691M172.4 1432.1H165.9M509.4 1684.2V1691M172.4 1360.1H165.9M584.3 1684.2V1691M172.4 1288.1H165.9M659.2 1684.2V1691M172.4 1216.1H165.9M734.0 1684.2V1691M172.4 1144.0H165.9M808.9 1684.2V1691M172.4 1072.0H165.9M883.8 1684.2V1691M172.4 1000.0H165.9" stroke="#111" stroke-width="2.4" fill="none"/><g font-size="29.8" font-family="'Liberation Sans', Arial, sans-serif" fill="#111"><text x="170.1" y="1731.6" text-anchor="middle">−5</text><text x="148" y="1693.0" text-anchor="end">−5</text><text x="245.0" y="1731.6" text-anchor="middle">−4</text><text x="148" y="1621.0" text-anchor="end">−4</text><text x="319.9" y="1731.6" text-anchor="middle">−3</text><text x="148" y="1549.0" text-anchor="end">−3</text><text x="394.8" y="1731.6" text-anchor="middle">−2</text><text x="148" y="1476.9" text-anchor="end">−2</text><text x="469.6" y="1731.6" text-anchor="middle">−1</text><text x="148" y="1404.9" text-anchor="end">−1</text><text x="546.8" y="1731.6" text-anchor="middle">0</text><text x="148" y="1332.9" text-anchor="end">0</text><text x="621.7" y="1731.6" text-anchor="middle">1</text><text x="148" y="1260.9" text-anchor="end">1</text><text x="696.6" y="1731.6" text-anchor="middle">2</text><text x="148" y="1188.9" text-anchor="end">2</text><text x="771.5" y="1731.6" text-anchor="middle">3</text><text x="148" y="1116.8" text-anchor="end">3</text><text x="846.4" y="1731.6" text-anchor="middle">4</text><text x="148" y="1044.8" text-anchor="end">4</text><text x="921.2" y="1731.6" text-anchor="middle">5</text><text x="148" y="972.8" text-anchor="end">5</text></g><text x="380.5" y="1813.1" font-size="55.2" font-family="'Liberation Sans', Arial, sans-serif" fill="#111">X position</text><text x="629.5" y="1813.1" font-size="56" font-family="'Liberation Sans', Arial, sans-serif" fill="#111" textLength="104" lengthAdjust="spacingAndGlyphs">(µm)</text><text transform="translate(76.8,1514) rotate(-90)" font-size="55.6" font-family="'Liberation Sans', Arial, sans-serif" fill="#111">Y</text><text transform="translate(76.8,1464.8) rotate(-90)" font-size="55.2" font-family="'Liberation Sans', Arial, sans-serif" fill="#111">position</text><text transform="translate(72.9,1258.5) rotate(-90)" font-size="56" font-family="'Liberation Sans', Arial, sans-serif" fill="#111" textLength="96" lengthAdjust="spacingAndGlyphs">(µm)</text><rect x="1042.5" y="964.6" width="59.0" height="719.1999999999999" fill="#fff"/><rect x="1042.5" y="978.80" width="59.0" height="14.79" fill="#b02619"/><rect x="1042.5" y="993.19" width="59.0" height="14.79" fill="#b22a1c"/><rect x="1042.5" y="1007.58" width="59.0" height="14.79" fill="#b42e1c"/><rect x="1042.5" y="1021.97" width="59.0" height="14.79" fill="#b83c1e"/><rect x="1042.5" y="1036.36" width="59.0" height="14.79" fill="#bc4a1e"/><rect x="1042.5" y="1050.75" width="59.0" height="14.79" fill="#c0581a"/><rect x="1042.5" y="1065.14" width="59.0" height="14.79" fill="#c8701e"/><rect x="1042.5" y="1079.53" width="59.0" height="14.79" fill="#cd821f"/><rect x="1042.5" y="1093.92" width="59.0" height="14.79" fill="#d5921e"/><rect x="1042.5" y="1108.31" width="59.0" height="14.79" fill="#dba51f"/><rect x="1042.5" y="1122.70" width="59.0" height="14.79" fill="#e8d022"/><rect x="1042.5" y="1137.09" width="59.0" height="14.79" fill="#f3e928"/><rect x="1042.5" y="1151.48" width="59.0" height="14.79" fill="#f2ea2a"/><rect x="1042.5" y="1165.87" width="59.0" height="14.79" fill="#e6e22a"/><rect x="1042.5" y="1180.26" width="59.0" height="14.79" fill="#d2d624"/><rect x="1042.5" y="1194.65" width="59.0" height="14.79" fill="#bccb24"/><rect x="1042.5" y="1209.04" width="59.0" height="14.79" fill="#a6c028"/><rect x="1042.5" y="1223.43" width="59.0" height="14.79" fill="#8db82c"/><rect x="1042.5" y="1237.82" width="59.0" height="14.79" fill="#86b22a"/><rect x="1042.5" y="1252.21" width="59.0" height="14.79" fill="#80ae2c"/><rect x="1042.5" y="1266.60" width="59.0" height="14.79" fill="#7aaa2c"/><rect x="1042.5" y="1280.99" width="59.0" height="14.79" fill="#76a82c"/><rect x="1042.5" y="1295.38" width="59.0" height="14.79" fill="#74a82c"/><rect x="1042.5" y="1309.77" width="59.0" height="14.79" fill="#72a62e"/><rect x="1042.5" y="1324.16" width="59.0" height="14.79" fill="#70a430"/><rect x="1042.5" y="1338.55" width="59.0" height="14.79" fill="#6aa232"/><rect x="1042.5" y="1352.94" width="59.0" height="14.79" fill="#66a034"/><rect x="1042.5" y="1367.33" width="59.0" height="14.79" fill="#62a036"/><rect x="1042.5" y="1381.72" width="59.0" height="14.79" fill="#5e9e3a"/><rect x="1042.5" y="1396.11" width="59.0" height="14.79" fill="#66a350"/><rect x="1042.5" y="1410.50" width="59.0" height="14.79" fill="#6aa75a"/><rect x="1042.5" y="1424.89" width="59.0" height="14.79" fill="#77ad72"/><rect x="1042.5" y="1439.28" width="59.0" height="14.79" fill="#7aae7a"/><rect x="1042.5" y="1453.67" width="59.0" height="14.79" fill="#86b696"/><rect x="1042.5" y="1468.06" width="59.0" height="14.79" fill="#8cbcaa"/><rect x="1042.5" y="1482.45" width="59.0" height="14.79" fill="#8ebeb4"/><rect x="1042.5" y="1496.84" width="59.0" height="14.79" fill="#80b8c0"/><rect x="1042.5" y="1511.23" width="59.0" height="14.79" fill="#6aacd6"/><rect x="1042.5" y="1525.62" width="59.0" height="14.79" fill="#5c98d8"/><rect x="1042.5" y="1540.01" width="59.0" height="14.79" fill="#5882c8"/><rect x="1042.5" y="1554.40" width="59.0" height="14.79" fill="#4e62b2"/><rect x="1042.5" y="1568.79" width="59.0" height="14.79" fill="#4650a2"/><rect x="1042.5" y="1583.18" width="59.0" height="14.79" fill="#3e3e96"/><rect x="1042.5" y="1597.57" width="59.0" height="14.79" fill="#36307e"/><rect x="1042.5" y="1611.96" width="59.0" height="14.79" fill="#30207a"/><rect x="1042.5" y="1626.35" width="59.0" height="14.79" fill="#2e1a72"/><rect x="1042.5" y="1640.74" width="59.0" height="14.79" fill="#2e1570"/><rect x="1042.5" y="1655.13" width="59.0" height="14.79" fill="#321472"/><rect x="1042.5" y="964.6" width="59.0" height="719.2" fill="none" stroke="#111" stroke-width="2"/><path d="M1101.5 978.8H1115M1101.5 1065.1H1115M1101.5 1151.5H1115M1101.5 1237.8H1115M1101.5 1324.2H1115M1101.5 1410.5H1115M1101.5 1496.8H1115M1101.5 1583.2H1115M1101.5 1669.5H1115" stroke="#111" stroke-width="2" fill="none"/><g font-size="23.8" font-family="'Liberation Sans', Arial, sans-serif" fill="#111"><text x="1123.5" y="987.1">5.915</text><text x="1123.5" y="1073.4">5.719</text><text x="1123.5" y="1159.8">5.523</text><text x="1123.5" y="1246.1">5.326</text><text x="1123.5" y="1332.5">5.130</text><text x="1123.5" y="1418.8">4.934</text><text x="1123.5" y="1505.1">4.737</text><text x="1123.5" y="1591.5">4.541</text><text x="1123.5" y="1677.8">4.345</text></g><text x="991.6" y="939.3" font-size="37.4" font-family="'Liberation Sans', Arial, sans-serif" fill="#14141e">Hardness</text><text x="1157.2" y="939.3" font-size="37" font-family="'Liberation Sans', Arial, sans-serif" fill="#14141e" textLength="87.3" lengthAdjust="spacingAndGlyphs">(GPa)</text><text x="1302" y="925.9" font-size="71" font-weight="bold" font-family="'Liberation Sans', Arial, sans-serif" fill="#140a0a">(d)</text><g fill="#e6c383" stroke="#1c1a1a" stroke-width="2.1"><rect x="1403.2" y="1696.7" width="58.1" height="5.3"/><rect x="1461.3" y="1667.3" width="58.1" height="34.7"/><rect x="1519.4" y="1645.9" width="58.1" height="56.1"/><rect x="1577.5" y="1597.8" width="58.1" height="104.2"/><rect x="1635.6" y="1461.5" width="58.1" height="240.5"/><rect x="1693.8" y="1311.9" width="58.1" height="390.1"/><rect x="1751.9" y="1213.0" width="58.1" height="489.0"/><rect x="1810.0" y="1087.4" width="58.1" height="614.6"/><rect x="1868.1" y="1090.1" width="58.1" height="611.9"/><rect x="1926.2" y="1052.7" width="58.1" height="649.3"/><rect x="1984.3" y="1215.7" width="58.1" height="486.3"/><rect x="2042.4" y="1360.0" width="58.1" height="342.0"/><rect x="2100.5" y="1571.1" width="58.1" height="130.9"/><rect x="2158.6" y="1619.2" width="58.1" height="82.8"/><rect x="2216.7" y="1669.9" width="58.1" height="32.1"/><rect x="2274.9" y="1699.3" width="58.1" height="2.7"/><rect x="2333.0" y="1699.3" width="58.1" height="2.7"/></g><polyline points="1403.2,1699.1 1406.5,1698.9 1409.8,1698.7 1413.1,1698.4 1416.4,1698.2 1419.7,1697.9 1423.0,1697.6 1426.3,1697.2 1429.6,1696.9 1432.9,1696.5 1436.2,1696.1 1439.5,1695.7 1442.8,1695.2 1446.2,1694.8 1449.5,1694.2 1452.8,1693.7 1456.1,1693.1 1459.4,1692.5 1462.7,1691.9 1466.0,1691.2 1469.3,1690.5 1472.6,1689.7 1475.9,1688.9 1479.2,1688.1 1482.5,1687.2 1485.8,1686.2 1489.1,1685.2 1492.4,1684.2 1495.7,1683.0 1499.0,1681.9 1502.3,1680.6 1505.6,1679.3 1508.9,1678.0 1512.2,1676.5 1515.5,1675.0 1518.8,1673.5 1522.1,1671.8 1525.4,1670.1 1528.7,1668.2 1532.1,1666.3 1535.4,1664.3 1538.7,1662.3 1542.0,1660.1 1545.3,1657.8 1548.6,1655.4 1551.9,1653.0 1555.2,1650.4 1558.5,1647.7 1561.8,1644.9 1565.1,1642.0 1568.4,1638.9 1571.7,1635.8 1575.0,1632.5 1578.3,1629.1 1581.6,1625.6 1584.9,1622.0 1588.2,1618.2 1591.5,1614.3 1594.8,1610.2 1598.1,1606.0 1601.4,1601.7 1604.7,1597.3 1608.0,1592.6 1611.3,1587.9 1614.7,1583.0 1618.0,1578.0 1621.3,1572.8 1624.6,1567.4 1627.9,1561.9 1631.2,1556.3 1634.5,1550.5 1637.8,1544.6 1641.1,1538.5 1644.4,1532.3 1647.7,1525.9 1651.0,1519.4 1654.3,1512.7 1657.6,1505.9 1660.9,1498.9 1664.2,1491.8 1667.5,1484.6 1670.8,1477.2 1674.1,1469.8 1677.4,1462.1 1680.7,1454.4 1684.0,1446.6 1687.3,1438.6 1690.6,1430.5 1693.9,1422.3 1697.2,1414.0 1700.6,1405.7 1703.9,1397.2 1707.2,1388.7 1710.5,1380.0 1713.8,1371.4 1717.1,1362.6 1720.4,1353.8 1723.7,1345.0 1727.0,1336.1 1730.3,1327.2 1733.6,1318.3 1736.9,1309.4 1740.2,1300.4 1743.5,1291.5 1746.8,1282.6 1750.1,1273.7 1753.4,1264.9 1756.7,1256.1 1760.0,1247.3 1763.3,1238.6 1766.6,1230.0 1769.9,1221.5 1773.2,1213.1 1776.5,1204.8 1779.8,1196.6 1783.2,1188.6 1786.5,1180.6 1789.8,1172.9 1793.1,1165.3 1796.4,1157.8 1799.7,1150.6 1803.0,1143.5 1806.3,1136.6 1809.6,1130.0 1812.9,1123.5 1816.2,1117.3 1819.5,1111.4 1822.8,1105.6 1826.1,1100.2 1829.4,1094.9 1832.7,1090.0 1836.0,1085.3 1839.3,1081.0 1842.6,1076.9 1845.9,1073.1 1849.2,1069.6 1852.5,1066.4 1855.8,1063.5 1859.1,1061.0 1862.4,1058.7 1865.7,1056.8 1869.1,1055.2 1872.4,1054.0 1875.7,1053.0 1879.0,1052.4 1882.3,1052.2 1885.6,1052.3 1888.9,1052.7 1892.2,1053.4 1895.5,1054.5 1898.8,1055.9 1902.1,1057.6 1905.4,1059.7 1908.7,1062.0 1912.0,1064.7 1915.3,1067.8 1918.6,1071.1 1921.9,1074.7 1925.2,1078.6 1928.5,1082.9 1931.8,1087.4 1935.1,1092.2 1938.4,1097.2 1941.7,1102.5 1945.0,1108.1 1948.3,1114.0 1951.6,1120.1 1955.0,1126.4 1958.3,1132.9 1961.6,1139.7 1964.9,1146.6 1968.2,1153.8 1971.5,1161.1 1974.8,1168.6 1978.1,1176.3 1981.4,1184.1 1984.7,1192.1 1988.0,1200.2 1991.3,1208.5 1994.6,1216.8 1997.9,1225.3 2001.2,1233.8 2004.5,1242.5 2007.8,1251.2 2011.1,1259.9 2014.4,1268.8 2017.7,1277.6 2021.0,1286.5 2024.3,1295.4 2027.6,1304.4 2030.9,1313.3 2034.2,1322.2 2037.6,1331.2 2040.9,1340.0 2044.2,1348.9 2047.5,1357.7 2050.8,1366.5 2054.1,1375.2 2057.4,1383.9 2060.7,1392.5 2064.0,1401.0 2067.3,1409.4 2070.6,1417.7 2073.9,1426.0 2077.2,1434.1 2080.5,1442.1 2083.8,1450.0 2087.1,1457.8 2090.4,1465.5 2093.7,1473.1 2097.0,1480.5 2100.3,1487.8 2103.6,1495.0 2106.9,1502.0 2110.2,1508.9 2113.5,1515.7 2116.8,1522.3 2120.1,1528.7 2123.5,1535.0 2126.8,1541.2 2130.1,1547.2 2133.4,1553.1 2136.7,1558.8 2140.0,1564.4 2143.3,1569.8 2146.6,1575.1 2149.9,1580.2 2153.2,1585.2 2156.5,1590.0 2159.8,1594.7 2163.1,1599.3 2166.4,1603.7 2169.7,1607.9 2173.0,1612.0 2176.3,1616.0 2179.6,1619.9 2182.9,1623.6 2186.2,1627.2 2189.5,1630.7 2192.8,1634.0 2196.1,1637.2 2199.4,1640.3 2202.7,1643.3 2206.1,1646.1 2209.4,1648.9 2212.7,1651.5 2216.0,1654.1 2219.3,1656.5 2222.6,1658.8 2225.9,1661.1 2229.2,1663.2 2232.5,1665.2 2235.8,1667.2 2239.1,1669.1 2242.4,1670.8 2245.7,1672.5 2249.0,1674.2 2252.3,1675.7 2255.6,1677.2 2258.9,1678.6 2262.2,1679.9 2265.5,1681.2 2268.8,1682.4 2272.1,1683.5 2275.4,1684.6 2278.7,1685.7 2282.0,1686.6 2285.3,1687.6 2288.6,1688.4 2292.0,1689.3 2295.3,1690.1 2298.6,1690.8 2301.9,1691.5 2305.2,1692.2 2308.5,1692.8 2311.8,1693.4 2315.1,1693.9 2318.4,1694.5 2321.7,1695.0 2325.0,1695.4 2328.3,1695.9 2331.6,1696.3 2334.9,1696.7 2338.2,1697.0 2341.5,1697.4 2344.8,1697.7 2348.1,1698.0 2351.4,1698.3 2354.7,1698.5 2358.0,1698.8 2361.3,1699.0 2364.6,1699.2 2367.9,1699.4 2371.2,1699.6 2374.6,1699.8 2377.9,1700.0 2381.2,1700.1 2384.5,1700.2 2387.8,1700.4 2391.1,1700.5" fill="none" stroke="#83623b" stroke-width="2.4"/><rect x="1403.2" y="966.7" width="987.9" height="735.3" fill="none" stroke="#111" stroke-width="2.4"/><path d="M1403.2 1702V1707M1461.3 1702V1712M1519.4 1702V1707M1577.5 1702V1712M1635.6 1702V1707M1693.8 1702V1712M1751.9 1702V1707M1810.0 1702V1712M1868.1 1702V1707M1926.2 1702V1712M1984.3 1702V1707M2042.4 1702V1712M2100.5 1702V1707M2158.6 1702V1712M2216.7 1702V1707M2274.9 1702V1712M2333.0 1702V1707M2391.1 1702V1712M1403.2 1702.0H1393.3M1403.2 1635.2H1397.8M1403.2 1568.4H1393.3M1403.2 1501.6H1397.8M1403.2 1434.8H1393.3M1403.2 1368.0H1397.8M1403.2 1301.2H1393.3M1403.2 1234.4H1397.8M1403.2 1167.6H1393.3M1403.2 1100.8H1397.8M1403.2 1034.0H1393.3M1403.2 967.2H1397.8" stroke="#111" stroke-width="2.4" fill="none"/><g font-size="30.5" font-family="'Liberation Sans', Arial, sans-serif" fill="#111"><text x="1461.3" y="1743.6" text-anchor="middle">4.4</text><text x="1577.5" y="1743.6" text-anchor="middle">4.6</text><text x="1693.8" y="1743.6" text-anchor="middle">4.8</text><text x="1810.0" y="1743.6" text-anchor="middle">5.0</text><text x="1926.2" y="1743.6" text-anchor="middle">5.2</text><text x="2042.4" y="1743.6" text-anchor="middle">5.4</text><text x="2158.6" y="1743.6" text-anchor="middle">5.6</text><text x="2274.9" y="1743.6" text-anchor="middle">5.8</text><text x="2391.1" y="1743.6" text-anchor="middle">6.0</text><text x="1386" y="1711.3" text-anchor="end">0</text><text x="1386" y="1577.7" text-anchor="end">50</text><text x="1386" y="1444.1" text-anchor="end">100</text><text x="1386" y="1310.5" text-anchor="end">150</text><text x="1386" y="1176.9" text-anchor="end">200</text><text x="1386" y="1043.3" text-anchor="end">250</text></g><text x="1697" y="1812.7" font-size="55.6" font-family="'Liberation Sans', Arial, sans-serif" fill="#111">Hardness (GPa)</text><text transform="translate(1297.7,1369.7) rotate(-90)" font-size="55.6" font-family="'Liberation Sans', Arial, sans-serif" fill="#111">Count</text></svg></body></html>
